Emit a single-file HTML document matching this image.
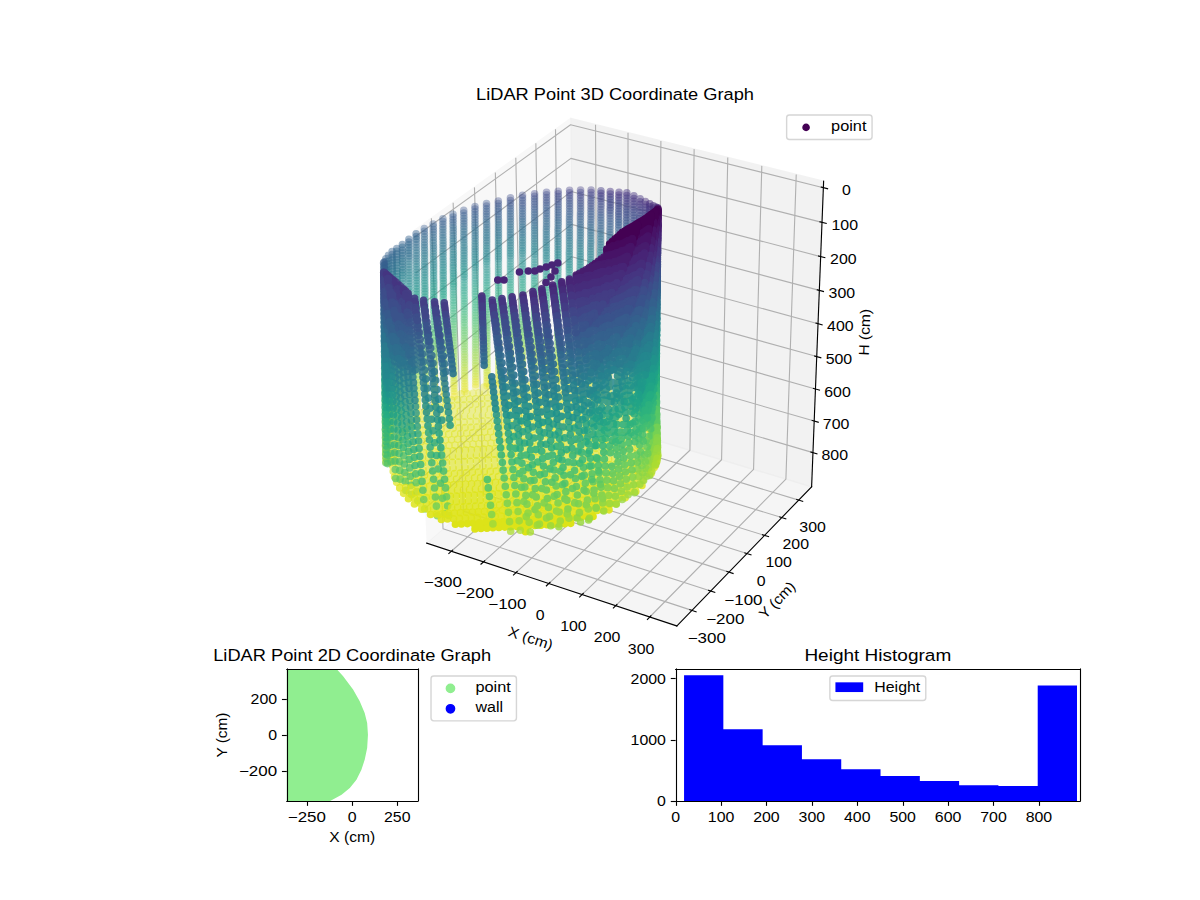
<!DOCTYPE html><html><head><meta charset="utf-8"><style>html,body{margin:0;padding:0;background:#fff;}svg{display:block}</style></head><body><svg width="1200" height="900" viewBox="0 0 864 648" version="1.1">
<defs>
<style type="text/css">*{stroke-linejoin: round; stroke-linecap: butt} .cl path{stroke-linecap:round}</style>
</defs>
<g id="figure_1">
<g id="patch_1">
<path d="M 0 648
L 864 648
L 864 0
L 0 0
z
" style="fill: #ffffff"/>
</g>
<g id="patch_2">
<path d="M 252.72 457.92
L 632.88 457.92
L 632.88 77.76
L 252.72 77.76
z
" style="fill: #ffffff"/>
</g>
<g id="pane3d_1">
<g id="patch_3">
<path d="M 297.947005 166.211815
L 410.765061 85.312153
L 412.890985 299.013556
L 307.170599 391.018552
" style="fill: #f2f2f2; opacity: 0.5; stroke: #f2f2f2; stroke-linejoin: miter"/>
</g>
</g>
<g id="pane3d_2">
<g id="patch_4">
<path d="M 410.765061 85.312153
L 593.008041 130.463502
L 584.362138 350.466742
L 412.890985 299.013556
" style="fill: #e6e6e6; opacity: 0.5; stroke: #e6e6e6; stroke-linejoin: miter"/>
</g>
</g>
<g id="pane3d_3">
<g id="patch_5">
<path d="M 307.170599 391.018552
L 487.331206 450.695347
L 584.362138 350.466742
L 412.890985 299.013556
" style="fill: #ececec; opacity: 0.5; stroke: #ececec; stroke-linejoin: miter"/>
</g>
</g>
<g id="grid3d_1">
<g id="Line3DCollection_1">
<path d="M 324.970934 396.914775
L 429.881263 304.111812
L 428.781131 89.775699
" style="fill: none; stroke: #b0b0b0; stroke-width: 0.8"/>
<path d="M 348.089829 404.572728
L 451.932154 310.728602
L 452.176948 95.572096
" style="fill: none; stroke: #b0b0b0; stroke-width: 0.8"/>
<path d="M 371.478409 412.320013
L 474.222001 317.417096
L 475.841919 101.435177
" style="fill: none; stroke: #b0b0b0; stroke-width: 0.8"/>
<path d="M 395.141421 420.158201
L 496.754708 324.178464
L 499.780717 107.366099
" style="fill: none; stroke: #b0b0b0; stroke-width: 0.8"/>
<path d="M 419.083724 428.088902
L 519.534266 331.013904
L 523.998121 113.366048
" style="fill: none; stroke: #b0b0b0; stroke-width: 0.8"/>
<path d="M 443.310291 436.113763
L 542.564755 337.924641
L 548.499024 119.436234
" style="fill: none; stroke: #b0b0b0; stroke-width: 0.8"/>
<path d="M 467.826216 444.234472
L 565.850344 344.911926
L 573.288432 125.577898
" style="fill: none; stroke: #b0b0b0; stroke-width: 0.8"/>
</g>
</g>
<g id="grid3d_2">
<g id="Line3DCollection_2">
<path d="M 310.596879 157.140834
L 318.976572 380.7442
L 498.197377 439.471079
" style="fill: none; stroke: #b0b0b0; stroke-width: 0.8"/>
<path d="M 326.26555 145.90513
L 333.616725 368.003353
L 511.661419 425.563327
" style="fill: none; stroke: #b0b0b0; stroke-width: 0.8"/>
<path d="M 341.611812 134.90062
L 347.973658 355.508984
L 524.853503 411.936495
" style="fill: none; stroke: #b0b0b0; stroke-width: 0.8"/>
<path d="M 356.645515 124.120241
L 362.055509 343.254009
L 537.781786 398.582158
" style="fill: none; stroke: #b0b0b0; stroke-width: 0.8"/>
<path d="M 371.376111 113.557213
L 375.87011 331.231613
L 550.454103 385.492222
" style="fill: none; stroke: #b0b0b0; stroke-width: 0.8"/>
<path d="M 385.812676 103.205029
L 389.424998 319.435238
L 562.877982 372.658913
" style="fill: none; stroke: #b0b0b0; stroke-width: 0.8"/>
<path d="M 399.963926 93.05744
L 402.727427 307.858568
L 575.060656 360.074756
" style="fill: none; stroke: #b0b0b0; stroke-width: 0.8"/>
</g>
</g>
<g id="grid3d_3">
<g id="Line3DCollection_3">
<path d="M 592.824973 135.121832
L 410.809962 89.825742
L 298.142691 170.981271
" style="fill: none; stroke: #b0b0b0; stroke-width: 0.8"/>
<path d="M 591.843315 160.101056
L 411.05082 114.037151
L 299.191726 196.549415
" style="fill: none; stroke: #b0b0b0; stroke-width: 0.8"/>
<path d="M 590.87487 184.744073
L 411.288573 137.936448
L 300.226171 221.761934
" style="fill: none; stroke: #b0b0b0; stroke-width: 0.8"/>
<path d="M 589.919372 209.057627
L 411.52328 161.529632
L 301.246326 246.626197
" style="fill: none; stroke: #b0b0b0; stroke-width: 0.8"/>
<path d="M 588.976563 233.048281
L 411.755001 184.822546
L 302.252487 271.149369
" style="fill: none; stroke: #b0b0b0; stroke-width: 0.8"/>
<path d="M 588.046194 256.722425
L 411.983791 207.820885
L 303.24494 295.338421
" style="fill: none; stroke: #b0b0b0; stroke-width: 0.8"/>
<path d="M 587.128018 280.086281
L 412.209705 230.530203
L 304.223962 319.200136
" style="fill: none; stroke: #b0b0b0; stroke-width: 0.8"/>
<path d="M 586.221798 303.14591
L 412.432799 252.955915
L 305.189824 342.741113
" style="fill: none; stroke: #b0b0b0; stroke-width: 0.8"/>
<path d="M 585.327302 325.907216
L 412.653123 275.103299
L 306.142791 365.967776
" style="fill: none; stroke: #b0b0b0; stroke-width: 0.8"/>
</g>
</g>
<g id="axis3d_1">
<g id="line2d_1">
<path d="M 307.170599 391.018552
L 487.331206 450.695347
" style="fill: none; stroke: #000000; stroke-width: 0.8; stroke-linecap: square"/>
</g>
<g id="xtick_1">
<g id="line2d_2">
<path d="M 325.873108 396.116718
L 323.163311 398.513786
" style="fill: none; stroke: #000000; stroke-width: 0.8; stroke-linecap: square"/>
</g>
<g id="text_1">
<text style="font-size:10.40px;font-family:'Liberation Sans',sans-serif;text-anchor:middle" x="318.8534" y="422.6130" transform="rotate(-0 318.8534 422.6130)" textLength="27.47" lengthAdjust="spacingAndGlyphs">−300</text>
</g>
</g>
<g id="xtick_2">
<g id="line2d_3">
<path d="M 348.983179 403.765392
L 346.299866 406.190349
" style="fill: none; stroke: #000000; stroke-width: 0.8; stroke-linecap: square"/>
</g>
<g id="text_2">
<text style="font-size:10.40px;font-family:'Liberation Sans',sans-serif;text-anchor:middle" x="341.9554" y="430.3822" transform="rotate(-0 341.9554 430.3822)" textLength="27.47" lengthAdjust="spacingAndGlyphs">−200</text>
</g>
</g>
<g id="xtick_3">
<g id="line2d_4">
<path d="M 372.362668 411.503235
L 369.706643 413.95657
" style="fill: none; stroke: #000000; stroke-width: 0.8; stroke-linecap: square"/>
</g>
<g id="text_3">
<text style="font-size:10.40px;font-family:'Liberation Sans',sans-serif;text-anchor:middle" x="365.3272" y="438.2421" transform="rotate(-0 365.3272 438.2421)" textLength="27.47" lengthAdjust="spacingAndGlyphs">−100</text>
</g>
</g>
<g id="xtick_4">
<g id="line2d_5">
<path d="M 396.016313 419.331814
L 393.388404 421.814029
" style="fill: none; stroke: #000000; stroke-width: 0.8; stroke-linecap: square"/>
</g>
<g id="text_4">
<text style="font-size:10.40px;font-family:'Liberation Sans',sans-serif;text-anchor:middle" x="388.9734" y="446.1943" transform="rotate(-0 388.9734 446.1943)" textLength="6.36" lengthAdjust="spacingAndGlyphs">0</text>
</g>
</g>
<g id="xtick_5">
<g id="line2d_6">
<path d="M 419.948966 427.252735
L 417.350023 429.764343
" style="fill: none; stroke: #000000; stroke-width: 0.8; stroke-linecap: square"/>
</g>
<g id="text_5">
<text style="font-size:10.40px;font-family:'Liberation Sans',sans-serif;text-anchor:middle" x="412.8990" y="454.2404" transform="rotate(-0 412.8990 454.2404)" textLength="19.09" lengthAdjust="spacingAndGlyphs">100</text>
</g>
</g>
<g id="xtick_6">
<g id="line2d_7">
<path d="M 444.165592 435.267643
L 441.596491 437.809169
" style="fill: none; stroke: #000000; stroke-width: 0.8; stroke-linecap: square"/>
</g>
<g id="text_6">
<text style="font-size:10.40px;font-family:'Liberation Sans',sans-serif;text-anchor:middle" x="437.1088" y="462.3821" transform="rotate(-0 437.1088 462.3821)" textLength="19.09" lengthAdjust="spacingAndGlyphs">200</text>
</g>
</g>
<g id="xtick_7">
<g id="line2d_8">
<path d="M 468.671276 443.378219
L 466.132917 445.9502
" style="fill: none; stroke: #000000; stroke-width: 0.8; stroke-linecap: square"/>
</g>
<g id="text_7">
<text style="font-size:10.40px;font-family:'Liberation Sans',sans-serif;text-anchor:middle" x="461.6081" y="470.6212" transform="rotate(-0 461.6081 470.6212)" textLength="19.09" lengthAdjust="spacingAndGlyphs">300</text>
</g>
</g>
<g id="text_8">
<text style="font-size:10.40px;font-family:'Liberation Sans',sans-serif;text-anchor:middle" x="380.9625" y="462.9357" transform="rotate(-341.673 380.9625 462.9357)" textLength="33.07" lengthAdjust="spacingAndGlyphs">X (cm)</text>
</g>
</g>
<g id="axis3d_2">
<g id="line2d_9">
<path d="M 584.362138 350.466742
L 487.331206 450.695347
" style="fill: none; stroke: #000000; stroke-width: 0.8; stroke-linecap: square"/>
</g>
<g id="xtick_8">
<g id="line2d_10">
<path d="M 496.699601 438.980289
L 501.196168 440.453719
" style="fill: none; stroke: #000000; stroke-width: 0.8; stroke-linecap: square"/>
</g>
<g id="text_9">
<text style="font-size:10.40px;font-family:'Liberation Sans',sans-serif;text-anchor:middle" x="508.8775" y="463.1427" transform="rotate(-0 508.8775 463.1427)" textLength="27.47" lengthAdjust="spacingAndGlyphs">−300</text>
</g>
</g>
<g id="xtick_9">
<g id="line2d_11">
<path d="M 510.174121 425.082499
L 514.639199 426.526012
" style="fill: none; stroke: #000000; stroke-width: 0.8; stroke-linecap: square"/>
</g>
<g id="text_10">
<text style="font-size:10.40px;font-family:'Liberation Sans',sans-serif;text-anchor:middle" x="522.2183" y="449.0861" transform="rotate(-0 522.2183 449.0861)" textLength="27.47" lengthAdjust="spacingAndGlyphs">−200</text>
</g>
</g>
<g id="xtick_10">
<g id="line2d_12">
<path d="M 523.376567 411.465329
L 527.810505 412.879827
" style="fill: none; stroke: #000000; stroke-width: 0.8; stroke-linecap: square"/>
</g>
<g id="text_11">
<text style="font-size:10.40px;font-family:'Liberation Sans',sans-serif;text-anchor:middle" x="535.2898" y="435.3131" transform="rotate(-0 535.2898 435.3131)" textLength="27.47" lengthAdjust="spacingAndGlyphs">−100</text>
</g>
</g>
<g id="xtick_11">
<g id="line2d_13">
<path d="M 536.315097 398.120365
L 540.718242 399.506713
" style="fill: none; stroke: #000000; stroke-width: 0.8; stroke-linecap: square"/>
</g>
<g id="text_12">
<text style="font-size:10.40px;font-family:'Liberation Sans',sans-serif;text-anchor:middle" x="548.1002" y="421.8153" transform="rotate(-0 548.1002 421.8153)" textLength="6.36" lengthAdjust="spacingAndGlyphs">0</text>
</g>
</g>
<g id="xtick_12">
<g id="line2d_14">
<path d="M 548.997546 385.039525
L 553.370243 386.398557
" style="fill: none; stroke: #000000; stroke-width: 0.8; stroke-linecap: square"/>
</g>
<g id="text_13">
<text style="font-size:10.40px;font-family:'Liberation Sans',sans-serif;text-anchor:middle" x="560.6572" y="408.5844" transform="rotate(-0 560.6572 408.5844)" textLength="19.09" lengthAdjust="spacingAndGlyphs">100</text>
</g>
</g>
<g id="xtick_13">
<g id="line2d_15">
<path d="M 561.431444 372.215046
L 565.774032 373.54756
" style="fill: none; stroke: #000000; stroke-width: 0.8; stroke-linecap: square"/>
</g>
<g id="text_14">
<text style="font-size:10.40px;font-family:'Liberation Sans',sans-serif;text-anchor:middle" x="572.9683" y="395.6126" transform="rotate(-0 572.9683 395.6126)" textLength="19.09" lengthAdjust="spacingAndGlyphs">200</text>
</g>
</g>
<g id="xtick_14">
<g id="line2d_16">
<path d="M 573.624025 359.639463
L 577.936845 360.946228
" style="fill: none; stroke: #000000; stroke-width: 0.8; stroke-linecap: square"/>
</g>
<g id="text_15">
<text style="font-size:10.40px;font-family:'Liberation Sans',sans-serif;text-anchor:middle" x="585.0407" y="382.8925" transform="rotate(-0 585.0407 382.8925)" textLength="19.09" lengthAdjust="spacingAndGlyphs">300</text>
</g>
</g>
<g id="text_16">
<text style="font-size:10.40px;font-family:'Liberation Sans',sans-serif;text-anchor:middle" x="562.0707" y="434.5527" transform="rotate(-45.9287 562.0707 434.5527)" textLength="32.33" lengthAdjust="spacingAndGlyphs">Y (cm)</text>
</g>
</g>
<g id="axis3d_3">
<g id="line2d_17">
<path d="M 584.362138 350.466742
L 593.008041 130.463502
" style="fill: none; stroke: #000000; stroke-width: 0.8; stroke-linecap: square"/>
</g>
<g id="xtick_15">
<g id="line2d_18">
<path d="M 591.304321 134.743404
L 595.869542 135.879501
" style="fill: none; stroke: #000000; stroke-width: 0.8; stroke-linecap: square"/>
</g>
<g id="text_17">
<text style="font-size:10.40px;font-family:'Liberation Sans',sans-serif;text-anchor:middle" x="609.3483" y="140.7096" transform="rotate(-0 609.3483 140.7096)" textLength="6.36" lengthAdjust="spacingAndGlyphs">0</text>
</g>
</g>
<g id="xtick_16">
<g id="line2d_19">
<path d="M 590.33331 159.716323
L 594.866544 160.87134
" style="fill: none; stroke: #000000; stroke-width: 0.8; stroke-linecap: square"/>
</g>
<g id="text_18">
<text style="font-size:10.40px;font-family:'Liberation Sans',sans-serif;text-anchor:middle" x="608.2567" y="165.6553" transform="rotate(-0 608.2567 165.6553)" textLength="19.09" lengthAdjust="spacingAndGlyphs">100</text>
</g>
</g>
<g id="xtick_17">
<g id="line2d_20">
<path d="M 589.375365 184.35324
L 593.877055 185.526567
" style="fill: none; stroke: #000000; stroke-width: 0.8; stroke-linecap: square"/>
</g>
<g id="text_19">
<text style="font-size:10.40px;font-family:'Liberation Sans',sans-serif;text-anchor:middle" x="607.1798" y="190.2659" transform="rotate(-0 607.1798 190.2659)" textLength="19.09" lengthAdjust="spacingAndGlyphs">200</text>
</g>
</g>
<g id="xtick_18">
<g id="line2d_21">
<path d="M 588.430222 208.66089
L 592.900804 209.851936
" style="fill: none; stroke: #000000; stroke-width: 0.8; stroke-linecap: square"/>
</g>
<g id="text_20">
<text style="font-size:10.40px;font-family:'Liberation Sans',sans-serif;text-anchor:middle" x="606.1173" y="214.5480" transform="rotate(-0 606.1173 214.5480)" textLength="19.09" lengthAdjust="spacingAndGlyphs">300</text>
</g>
</g>
<g id="xtick_19">
<g id="line2d_22">
<path d="M 587.497626 232.645831
L 591.937528 233.854022
" style="fill: none; stroke: #000000; stroke-width: 0.8; stroke-linecap: square"/>
</g>
<g id="text_21">
<text style="font-size:10.40px;font-family:'Liberation Sans',sans-serif;text-anchor:middle" x="605.0689" y="238.5083" transform="rotate(-0 605.0689 238.5083)" textLength="19.09" lengthAdjust="spacingAndGlyphs">400</text>
</g>
</g>
<g id="xtick_20">
<g id="line2d_23">
<path d="M 586.577331 256.314447
L 590.986969 257.539229
" style="fill: none; stroke: #000000; stroke-width: 0.8; stroke-linecap: square"/>
</g>
<g id="text_22">
<text style="font-size:10.40px;font-family:'Liberation Sans',sans-serif;text-anchor:middle" x="604.0343" y="262.1531" transform="rotate(-0 604.0343 262.1531)" textLength="19.09" lengthAdjust="spacingAndGlyphs">500</text>
</g>
</g>
<g id="xtick_21">
<g id="line2d_24">
<path d="M 585.669093 279.672953
L 590.048877 280.913789
" style="fill: none; stroke: #000000; stroke-width: 0.8; stroke-linecap: square"/>
</g>
<g id="text_23">
<text style="font-size:10.40px;font-family:'Liberation Sans',sans-serif;text-anchor:middle" x="603.0132" y="285.4885" transform="rotate(-0 603.0132 285.4885)" textLength="19.09" lengthAdjust="spacingAndGlyphs">600</text>
</g>
</g>
<g id="xtick_22">
<g id="line2d_25">
<path d="M 584.772677 302.727407
L 589.123008 303.983775
" style="fill: none; stroke: #000000; stroke-width: 0.8; stroke-linecap: square"/>
</g>
<g id="text_24">
<text style="font-size:10.40px;font-family:'Liberation Sans',sans-serif;text-anchor:middle" x="602.0054" y="308.5206" transform="rotate(-0 602.0054 308.5206)" textLength="19.09" lengthAdjust="spacingAndGlyphs">700</text>
</g>
</g>
<g id="xtick_23">
<g id="line2d_26">
<path d="M 583.887855 325.483704
L 588.209126 326.755102
" style="fill: none; stroke: #000000; stroke-width: 0.8; stroke-linecap: square"/>
</g>
<g id="text_25">
<text style="font-size:10.40px;font-family:'Liberation Sans',sans-serif;text-anchor:middle" x="601.0106" y="331.2552" transform="rotate(-0 601.0106 331.2552)" textLength="19.09" lengthAdjust="spacingAndGlyphs">800</text>
</g>
</g>
<g id="text_26">
<text style="font-size:10.40px;font-family:'Liberation Sans',sans-serif;text-anchor:middle" x="626.1142" y="239.2842" transform="rotate(-87.7495 626.1142 239.2842)" textLength="33.74" lengthAdjust="spacingAndGlyphs">H (cm)</text>
</g>
</g>
<g id="axes_1">
<g id="Path3DCollection_1">
<defs>
<path id="m6b69d630b0" d="M 0 2.236068
C 0.593012 2.236068 1.161816 2.000462 1.581139 1.581139
C 2.000462 1.161816 2.236068 0.593012 2.236068 0
C 2.236068 -0.593012 2.000462 -1.161816 1.581139 -1.581139
C 1.161816 -2.000462 0.593012 -2.236068 0 -2.236068
C -0.593012 -2.236068 -1.161816 -2.000462 -1.581139 -1.581139
C -2.000462 -1.161816 -2.236068 -0.593012 -2.236068 0
C -2.236068 0.593012 -2.000462 1.161816 -1.581139 1.581139
C -1.161816 2.000462 -0.593012 2.236068 0 2.236068
z
" style="stroke: #440154"/>
</defs>
<g class="cl" fill="none" stroke-width="5.47"><path d="M393.3 212.6h0M384.8 213.5h0M376.2 210.8h0M367.6 214.6h0M359.0 215.0h0" stroke="#25ac82" stroke-opacity="0.30"/><path d="M393.3 214.5h0M376.2 212.7h0M367.5 210.8h0" stroke="#25ac82" stroke-opacity="0.30"/><path d="M401.7 215.8h0M384.8 211.6h0M367.6 212.7h0M359.0 213.1h0" stroke="#25ac82" stroke-opacity="0.30"/><path d="M401.7 217.7h0M393.3 218.3h0M384.8 219.2h0M376.2 216.5h0M350.5 220.8h0M342.3 221.3h0" stroke="#2db27d" stroke-opacity="0.30"/><path d="M409.8 221.1h0M401.7 219.6h0M384.8 215.4h0M376.2 218.4h0M367.6 216.5h0M359.0 216.9h0M350.5 217.0h0" stroke="#2db27d" stroke-opacity="0.30"/><path d="M393.3 216.4h0M384.8 217.3h0M376.2 214.6h0M367.6 218.4h0M359.0 218.8h0M350.5 218.9h0" stroke="#2db27d" stroke-opacity="0.30"/><path d="M417.6 227.0h0M409.8 224.9h0M401.7 223.4h0M393.3 224.0h0M376.2 222.2h0M367.6 220.3h0M359.0 220.7h0" stroke="#35b779" stroke-opacity="0.30"/><path d="M401.7 225.3h0M393.3 220.2h0M384.8 221.1h0M367.6 222.2h0M359.0 222.6h0M350.5 222.7h0M342.3 223.2h0M334.3 226.4h0" stroke="#35b779" stroke-opacity="0.30"/><path d="M409.8 223.0h0M401.7 221.5h0M393.3 222.1h0M384.8 223.0h0M376.2 220.3h0M359.0 224.5h0M350.5 224.6h0M342.3 225.2h0" stroke="#35b779" stroke-opacity="0.30"/><path d="M417.5 232.8h0M409.7 230.6h0M401.6 229.1h0M384.8 224.9h0M376.2 227.9h0M367.6 226.0h0M359.0 226.4h0M350.6 226.5h0M342.3 227.1h0M334.3 230.2h0M326.7 233.4h0" stroke="#40bd72" stroke-opacity="0.30"/><path d="M425.0 233.3h0M417.6 228.9h0M409.8 226.8h0M393.3 225.9h0M384.8 226.8h0M376.2 224.1h0M367.6 227.9h0M359.0 228.3h0M350.6 228.4h0M342.3 229.0h0M334.3 232.1h0" stroke="#40bd72" stroke-opacity="0.30"/><path d="M417.6 230.9h0M409.7 228.7h0M401.7 227.2h0M393.3 227.8h0M384.8 228.7h0M376.2 226.0h0M367.6 224.1h0M342.3 230.9h0M334.3 228.3h0" stroke="#40bd72" stroke-opacity="0.30"/><path d="M425.0 237.1h0M401.6 234.8h0M393.3 229.7h0M384.8 230.6h0M367.6 231.7h0M359.0 232.1h0M350.6 232.2h0M342.3 232.8h0M334.4 236.0h0M326.7 239.2h0" stroke="#4cc26c" stroke-opacity="0.30"/><path d="M425.0 239.1h0M417.5 234.7h0M409.7 232.5h0M401.6 231.0h0M393.3 231.6h0M384.8 232.5h0M376.2 229.8h0M350.6 234.1h0M342.3 234.7h0M326.7 235.4h0" stroke="#4cc26c" stroke-opacity="0.30"/><path d="M425.0 235.2h0M417.5 236.6h0M409.7 234.5h0M401.6 232.9h0M393.3 233.5h0M376.2 231.7h0M367.6 229.8h0M359.0 230.2h0M350.6 230.3h0M334.3 234.1h0M326.7 237.3h0" stroke="#4cc26c" stroke-opacity="0.30"/><path d="M432.0 244.0h0M425.0 242.9h0M417.5 238.5h0M409.7 236.4h0M393.3 235.4h0M384.8 236.3h0M376.2 233.6h0M367.6 237.4h0M359.0 237.8h0M350.6 237.9h0M342.4 238.5h0M334.4 241.7h0M319.4 243.0h0" stroke="#5ac864" stroke-opacity="0.30"/><path d="M432.0 246.0h0M417.5 240.5h0M409.7 238.3h0M401.6 236.7h0M393.3 237.3h0M376.2 235.5h0M367.6 233.6h0M359.0 234.0h0M342.4 240.4h0M334.4 237.9h0M326.7 241.2h0M319.4 244.9h0" stroke="#5ac864" stroke-opacity="0.30"/><path d="M432.0 242.1h0M425.0 241.0h0M417.5 242.4h0M409.7 240.2h0M401.6 238.6h0M384.8 234.4h0M376.2 237.4h0M367.6 235.5h0M359.0 235.9h0M350.6 236.0h0M342.3 236.6h0M334.4 239.8h0M326.7 243.1h0" stroke="#5ac864" stroke-opacity="0.30"/><path d="M438.6 251.2h0M432.0 249.9h0M424.9 248.7h0M417.5 244.3h0M409.7 242.1h0M401.6 240.5h0M393.3 241.1h0M384.8 242.0h0M376.2 239.3h0M350.6 243.6h0M342.4 244.3h0M326.7 245.0h0M319.5 248.8h0" stroke="#67cc5c" stroke-opacity="0.30"/><path d="M438.6 253.1h0M424.9 244.8h0M417.5 246.2h0M409.7 244.0h0M401.6 242.4h0M393.3 243.0h0M384.8 238.2h0M376.2 241.2h0M367.6 239.3h0M359.0 239.7h0M350.6 239.8h0M334.4 243.7h0M326.7 246.9h0M319.5 250.7h0M312.6 251.1h0" stroke="#67cc5c" stroke-opacity="0.30"/><path d="M432.0 247.9h0M424.9 246.8h0M393.3 239.2h0M384.8 240.1h0M367.6 241.2h0M359.0 241.6h0M350.6 241.7h0M342.4 242.4h0M334.4 245.6h0M326.8 248.9h0M319.5 246.9h0M312.6 253.1h0" stroke="#67cc5c" stroke-opacity="0.30"/><path d="M438.5 257.0h0M431.9 255.7h0M417.5 250.1h0M409.7 247.8h0M401.6 246.3h0M393.3 246.8h0M376.2 245.0h0M367.6 243.1h0M359.0 243.5h0M342.4 250.0h0M334.4 247.5h0M326.8 250.8h0M319.5 254.6h0M312.7 255.0h0" stroke="#77d153" stroke-opacity="0.30"/><path d="M432.0 251.8h0M424.9 250.6h0M409.7 249.7h0M401.6 248.2h0M384.8 243.9h0M376.2 246.9h0M367.6 245.0h0M359.0 245.4h0M350.6 245.5h0M342.4 246.2h0M334.4 249.4h0M326.8 252.7h0M312.7 257.0h0" stroke="#77d153" stroke-opacity="0.30"/><path d="M438.6 255.1h0M432.0 253.7h0M424.9 252.6h0M417.5 248.1h0M409.7 245.9h0M401.6 244.4h0M393.3 244.9h0M384.8 245.8h0M376.2 243.1h0M367.6 246.9h0M359.0 247.3h0M350.6 247.4h0M342.4 248.1h0M334.4 251.3h0M319.5 252.7h0" stroke="#77d153" stroke-opacity="0.30"/><path d="M444.6 266.3h0M438.5 262.9h0M424.9 254.5h0M417.4 255.8h0M409.6 253.6h0M401.6 252.0h0M393.3 252.5h0M384.8 247.7h0M376.2 250.7h0M367.6 248.8h0M359.0 249.2h0M350.6 249.3h0M334.4 253.3h0M326.8 256.6h0M319.5 260.4h0M312.7 260.9h0" stroke="#89d548" stroke-opacity="0.30"/><path d="M444.6 262.3h0M438.5 259.0h0M431.9 257.6h0M424.9 256.4h0M417.4 252.0h0M393.3 248.7h0M384.8 249.6h0M367.6 250.7h0M359.0 251.1h0M350.6 251.2h0M342.4 251.9h0M334.5 255.2h0M326.8 258.5h0M319.5 256.6h0M312.7 262.8h0M306.3 263.0h0" stroke="#89d548" stroke-opacity="0.30"/><path d="M444.6 264.3h0M438.5 260.9h0M431.9 259.6h0M424.9 258.3h0M417.4 253.9h0M409.7 251.7h0M401.6 250.1h0M393.3 250.6h0M384.8 251.5h0M376.2 248.8h0M350.6 253.1h0M342.4 253.8h0M326.8 254.7h0M319.5 258.5h0M312.7 258.9h0M306.3 264.9h0" stroke="#89d548" stroke-opacity="0.30"/><path d="M431.9 261.5h0M424.9 260.3h0M409.6 259.3h0M401.6 257.7h0M384.8 253.3h0M376.2 256.3h0M367.6 254.5h0M359.1 254.9h0M350.6 255.1h0M342.4 255.7h0M334.5 259.0h0M326.8 262.4h0M312.7 266.8h0M306.4 266.9h0M300.6 273.4h0" stroke="#98d83e" stroke-opacity="0.30"/><path d="M450.1 273.7h0M444.6 268.2h0M438.5 264.8h0M431.9 263.4h0M424.8 262.2h0M417.4 257.7h0M409.6 255.5h0M401.6 253.9h0M393.3 254.4h0M384.8 255.2h0M376.2 252.5h0M367.6 256.4h0M359.1 256.8h0M350.6 257.0h0M342.4 257.6h0M334.5 260.9h0M319.6 262.4h0M306.4 268.9h0" stroke="#98d83e" stroke-opacity="0.30"/><path d="M444.6 270.2h0M438.5 266.8h0M431.9 265.4h0M417.4 259.7h0M409.6 257.4h0M401.6 255.8h0M393.3 256.3h0M376.2 254.4h0M367.6 252.6h0M359.1 253.0h0M342.4 259.6h0M334.5 257.1h0M326.8 260.5h0M319.6 264.3h0M312.7 264.8h0M306.4 270.8h0" stroke="#98d83e" stroke-opacity="0.30"/><path d="M450.1 277.7h0M444.6 272.2h0M438.5 268.7h0M431.9 267.3h0M424.8 266.1h0M417.4 261.6h0M393.3 258.2h0M384.8 259.0h0M367.6 260.2h0M359.1 260.6h0M350.7 260.8h0M342.4 261.5h0M334.5 264.8h0M326.9 268.2h0M319.6 266.3h0M312.8 272.6h0M306.4 272.8h0M300.6 279.4h0" stroke="#aadc32" stroke-opacity="0.30"/><path d="M450.1 279.7h0M444.5 274.2h0M438.4 270.7h0M431.8 269.3h0M424.8 268.0h0M417.4 263.5h0M409.6 261.2h0M401.6 259.6h0M393.2 260.1h0M384.8 260.9h0M376.2 258.2h0M350.7 262.7h0M342.5 263.4h0M326.9 264.3h0M319.6 268.2h0M312.8 268.7h0M306.4 274.8h0M300.6 275.4h0" stroke="#aadc32" stroke-opacity="0.30"/><path d="M450.1 275.7h0M444.5 276.1h0M438.4 272.6h0M424.8 264.1h0M417.4 265.4h0M409.6 263.1h0M401.5 261.5h0M393.2 262.0h0M384.8 257.1h0M376.2 260.1h0M367.6 258.3h0M359.1 258.7h0M350.7 258.9h0M334.5 262.8h0M326.9 266.2h0M319.6 270.1h0M312.8 270.7h0M300.6 277.4h0" stroke="#aadc32" stroke-opacity="0.30"/><path d="M450.0 283.6h0M444.5 278.1h0M438.4 274.6h0M431.8 273.1h0M424.8 271.8h0M417.4 267.3h0M409.6 265.0h0M401.5 263.4h0M393.2 263.9h0M384.8 264.7h0M376.2 262.0h0M367.6 265.9h0M359.1 266.3h0M350.7 266.5h0M342.5 267.2h0M334.5 270.5h0M319.6 272.1h0M306.5 278.7h0M295.4 286.3h0" stroke="#bade28" stroke-opacity="0.30"/><path d="M455.0 287.0h0M444.5 280.1h0M438.4 276.6h0M431.8 275.1h0M417.4 269.2h0M409.6 266.9h0M401.5 265.3h0M393.2 265.8h0M376.2 263.9h0M367.6 262.1h0M359.1 262.5h0M342.5 269.1h0M334.5 266.7h0M326.9 270.1h0M319.6 274.0h0M312.8 274.6h0M306.5 280.7h0M300.6 281.3h0" stroke="#bade28" stroke-opacity="0.30"/><path d="M450.1 281.7h0M431.8 271.2h0M424.8 269.9h0M409.6 268.9h0M401.5 267.2h0M384.8 262.8h0M376.2 265.8h0M367.6 264.0h0M359.1 264.4h0M350.7 264.6h0M342.5 265.3h0M334.5 268.6h0M326.9 272.0h0M312.8 276.5h0M306.4 276.7h0M300.7 283.3h0" stroke="#bade28" stroke-opacity="0.30"/><path d="M455.0 291.0h0M444.5 284.0h0M438.4 280.5h0M431.8 279.0h0M424.7 277.6h0M417.3 273.1h0M409.6 270.8h0M401.5 269.1h0M393.2 269.6h0M384.8 270.4h0M376.2 267.7h0M350.7 272.2h0M342.5 272.9h0M326.9 274.0h0M319.7 277.9h0M312.8 278.5h0M306.5 284.6h0M300.7 285.3h0M295.5 292.3h0" stroke="#cde11d" stroke-opacity="0.30"/><path d="M455.0 293.0h0M450.0 285.6h0M444.4 286.0h0M438.4 282.4h0M424.8 273.8h0M417.3 275.0h0M409.6 272.7h0M401.5 271.0h0M393.2 271.5h0M384.8 266.6h0M376.2 269.6h0M367.6 267.8h0M359.1 268.2h0M350.7 268.4h0M334.5 272.4h0M326.9 275.9h0M319.7 279.8h0M312.8 280.4h0M300.7 287.3h0M295.4 288.3h0" stroke="#cde11d" stroke-opacity="0.30"/><path d="M455.0 289.0h0M450.0 287.6h0M444.5 282.0h0M438.4 278.5h0M431.8 277.0h0M424.8 275.7h0M417.4 271.2h0M393.2 267.7h0M384.8 268.5h0M367.6 269.7h0M359.1 270.1h0M350.7 270.3h0M342.5 271.0h0M334.5 274.4h0M319.7 276.0h0M312.9 282.4h0M306.5 282.6h0M300.7 289.3h0M295.5 290.3h0" stroke="#cde11d" stroke-opacity="0.30"/><path d="M450.0 289.6h0M376.2 273.4h0M367.6 271.6h0M359.1 272.0h0M334.6 276.3h0M326.9 279.7h0M319.7 283.7h0M312.9 284.3h0M306.6 290.5h0M300.7 291.3h0" stroke="#dde318" stroke-opacity="0.30"/><path d="M431.8 280.9h0M384.8 272.3h0M367.6 273.5h0M359.1 273.9h0M350.7 274.1h0M342.5 274.9h0M334.6 278.2h0M327.0 281.7h0M312.9 286.3h0M306.5 286.6h0M300.7 293.2h0M295.5 294.3h0M290.9 301.2h0" stroke="#dde318" stroke-opacity="0.30"/><path d="M409.6 274.6h0M401.5 272.9h0M393.2 273.4h0M376.2 271.5h0M359.1 275.8h0M350.7 276.0h0M342.5 276.8h0M334.6 280.1h0M326.9 277.8h0M319.7 281.8h0M306.5 288.5h0M295.5 296.3h0" stroke="#dde318" stroke-opacity="0.30"/><path d="M350.7 277.9h0M342.5 278.7h0M334.6 282.0h0M327.0 285.5h0M312.9 290.2h0M300.8 297.2h0M295.5 298.3h0M290.9 305.3h0" stroke="#efe51c" stroke-opacity="0.30"/><path d="M319.7 285.7h0M312.9 292.1h0M306.6 292.5h0M300.8 299.2h0M295.5 300.3h0" stroke="#efe51c" stroke-opacity="0.30"/><path d="M327.0 283.6h0M319.7 287.6h0M312.9 288.2h0M306.6 294.4h0M300.8 295.2h0M295.6 302.3h0M290.9 303.2h0" stroke="#efe51c" stroke-opacity="0.30"/><path d="M306.6 296.4h0M295.6 304.3h0M291.0 311.3h0M287.1 317.4h0M283.9 331.2h0" stroke="#fde725" stroke-opacity="0.30"/><path d="M295.6 306.3h0M291.0 307.3h0M287.1 319.4h0M283.9 333.3h0" stroke="#fde725" stroke-opacity="0.30"/><path d="M300.8 301.2h0M291.0 309.3h0M287.0 315.3h0" stroke="#fde725" stroke-opacity="0.30"/><path d="M340.6 283.1h0M353.5 282.4h0M366.5 281.6h0M379.4 280.9h0M392.3 280.2h0M405.3 279.4h0M418.2 278.7h0M352.8 278.3h0M365.7 277.6h0M378.6 276.9h0M391.6 276.1h0M404.5 275.4h0" stroke="#dde318" stroke-opacity="0.38"/><path d="M332.0 283.6h0M344.9 282.9h0M357.9 282.1h0M370.8 281.4h0M383.7 280.7h0M396.6 279.9h0M409.6 279.2h0M422.5 278.4h0M357.1 278.1h0M370.0 277.4h0M382.9 276.6h0M395.9 275.9h0" stroke="#dde318" stroke-opacity="0.38"/><path d="M336.3 283.4h0M349.2 282.6h0M362.2 281.9h0M375.1 281.1h0M388.0 280.4h0M400.9 279.7h0M413.9 278.9h0M348.5 278.6h0M361.4 277.9h0M374.3 277.1h0M387.2 276.4h0M400.2 275.6h0" stroke="#dde318" stroke-opacity="0.38"/><path d="M304.0 305.6h0M317.0 304.8h0M329.9 304.1h0M342.8 303.3h0M355.8 302.6h0M368.7 301.9h0M381.6 301.1h0M394.5 300.4h0M407.5 299.7h0M420.4 298.9h0M433.3 298.2h0M446.3 297.5h0M459.2 296.7h0M308.6 301.2h0M321.6 300.5h0M334.5 299.7h0M347.4 299.0h0M360.3 298.3h0M373.3 297.5h0M386.2 296.8h0M399.1 296.1h0M412.1 295.3h0M425.0 294.6h0M437.9 293.9h0M450.8 293.1h0M309.9 297.1h0M322.8 296.3h0M335.8 295.6h0M348.7 294.9h0M361.6 294.1h0M374.5 293.4h0M387.5 292.7h0M400.4 291.9h0M413.3 291.2h0M426.2 290.4h0M439.2 289.7h0M312.4 292.9h0M325.3 292.1h0M338.3 291.4h0M351.2 290.7h0M364.1 289.9h0M377.0 289.2h0M390.0 288.4h0M402.9 287.7h0M415.8 287.0h0M428.8 286.2h0M441.7 285.5h0M329.5 287.8h0M342.4 287.1h0M355.4 286.3h0M368.3 285.6h0M381.2 284.9h0M394.2 284.1h0M407.1 283.4h0M420.0 282.7h0M432.9 281.9h0" stroke="#dde318" stroke-opacity="0.46"/><path d="M295.4 306.0h0M308.4 305.3h0M321.3 304.6h0M334.2 303.8h0M347.1 303.1h0M360.1 302.4h0M373.0 301.6h0M385.9 300.9h0M398.9 300.2h0M411.8 299.4h0M424.7 298.7h0M437.6 297.9h0M450.6 297.2h0M300.0 301.7h0M312.9 301.0h0M325.9 300.2h0M338.8 299.5h0M351.7 298.8h0M364.7 298.0h0M377.6 297.3h0M390.5 296.6h0M403.4 295.8h0M416.4 295.1h0M429.3 294.3h0M442.2 293.6h0M455.1 292.9h0M314.2 296.8h0M327.1 296.1h0M340.1 295.4h0M353.0 294.6h0M365.9 293.9h0M378.8 293.1h0M391.8 292.4h0M404.7 291.7h0M417.6 290.9h0M430.6 290.2h0M443.5 289.5h0M316.7 292.6h0M329.6 291.9h0M342.6 291.1h0M355.5 290.4h0M368.4 289.7h0M381.4 288.9h0M394.3 288.2h0M407.2 287.5h0M420.1 286.7h0M433.1 286.0h0M320.9 288.3h0M333.8 287.6h0M346.8 286.8h0M359.7 286.1h0M372.6 285.4h0M385.5 284.6h0M398.5 283.9h0M411.4 283.2h0M424.3 282.4h0" stroke="#dde318" stroke-opacity="0.46"/><path d="M299.7 305.8h0M312.7 305.1h0M325.6 304.3h0M338.5 303.6h0M351.4 302.9h0M364.4 302.1h0M377.3 301.4h0M390.2 300.6h0M403.2 299.9h0M416.1 299.2h0M429.0 298.4h0M441.9 297.7h0M454.9 297.0h0M304.3 301.5h0M317.3 300.7h0M330.2 300.0h0M343.1 299.3h0M356.0 298.5h0M369.0 297.8h0M381.9 297.0h0M394.8 296.3h0M407.7 295.6h0M420.7 294.8h0M433.6 294.1h0M446.5 293.4h0M305.6 297.3h0M318.5 296.6h0M331.4 295.9h0M344.4 295.1h0M357.3 294.4h0M370.2 293.6h0M383.2 292.9h0M396.1 292.2h0M409.0 291.4h0M421.9 290.7h0M434.9 290.0h0M447.8 289.2h0M321.0 292.4h0M334.0 291.6h0M346.9 290.9h0M359.8 290.2h0M372.7 289.4h0M385.7 288.7h0M398.6 288.0h0M411.5 287.2h0M424.4 286.5h0M437.4 285.7h0M325.2 288.1h0M338.1 287.3h0M351.1 286.6h0M364.0 285.9h0M376.9 285.1h0M389.9 284.4h0M402.8 283.6h0M415.7 282.9h0M428.6 282.2h0" stroke="#dde318" stroke-opacity="0.46"/><path d="M293.0 314.3h0M305.9 313.6h0M318.8 312.9h0M331.7 312.1h0M344.7 311.4h0M357.6 310.6h0M370.5 309.9h0M383.5 309.2h0M396.4 308.4h0M409.3 307.7h0M296.0 310.1h0M308.9 309.3h0M321.8 308.6h0M334.8 307.9h0M347.7 307.1h0M360.6 306.4h0M373.6 305.7h0M386.5 304.9h0M399.4 304.2h0M412.3 303.5h0M425.3 302.7h0M438.2 302.0h0M451.1 301.2h0M464.0 300.5h0" stroke="#dde318" stroke-opacity="0.53"/><path d="M297.3 314.1h0M310.2 313.3h0M323.1 312.6h0M336.1 311.9h0M349.0 311.1h0M361.9 310.4h0M374.8 309.7h0M387.8 308.9h0M400.7 308.2h0M413.6 307.5h0M300.3 309.8h0M313.2 309.1h0M326.2 308.4h0M339.1 307.6h0M352.0 306.9h0M364.9 306.2h0M377.9 305.4h0M390.8 304.7h0M403.7 303.9h0M416.6 303.2h0M429.6 302.5h0M442.5 301.7h0M455.4 301.0h0" stroke="#dde318" stroke-opacity="0.53"/><path d="M288.7 314.6h0M301.6 313.8h0M314.5 313.1h0M327.4 312.4h0M340.4 311.6h0M353.3 310.9h0M366.2 310.2h0M379.2 309.4h0M392.1 308.7h0M405.0 307.9h0M291.7 310.3h0M304.6 309.6h0M317.5 308.9h0M330.5 308.1h0M343.4 307.4h0M356.3 306.6h0M369.2 305.9h0M382.2 305.2h0M395.1 304.4h0M408.0 303.7h0M421.0 303.0h0M433.9 302.2h0M446.8 301.5h0M459.7 300.8h0" stroke="#dde318" stroke-opacity="0.53"/><path d="M384.9 185.0h0M367.5 186.2h0" stroke="#24878e" stroke-opacity="0.30"/><path d="M376.2 184.3h0" stroke="#24878e" stroke-opacity="0.30"/><path d="M376.2 186.2h0" stroke="#24878e" stroke-opacity="0.30"/><path d="M393.4 189.8h0M384.9 190.7h0M376.2 188.1h0M350.4 192.2h0" stroke="#228d8d" stroke-opacity="0.30"/><path d="M401.8 191.0h0M393.4 191.7h0M384.9 186.9h0M376.2 190.0h0M367.5 188.1h0M358.9 188.4h0" stroke="#228d8d" stroke-opacity="0.30"/><path d="M393.4 187.9h0M384.9 188.8h0M367.5 190.0h0M358.9 190.3h0M350.4 190.3h0" stroke="#228d8d" stroke-opacity="0.30"/><path d="M409.9 196.2h0M401.8 194.8h0M393.4 195.5h0M376.2 193.7h0M367.5 191.9h0M358.9 192.2h0M342.2 198.4h0" stroke="#20938c" stroke-opacity="0.30"/><path d="M409.9 198.1h0M401.7 196.7h0M384.8 192.6h0M376.2 195.6h0M367.5 193.7h0M358.9 194.1h0M350.5 194.1h0M342.2 194.6h0" stroke="#20938c" stroke-opacity="0.30"/><path d="M401.8 192.9h0M393.4 193.6h0M384.8 194.5h0M376.2 191.8h0M367.5 195.6h0M358.9 196.0h0M350.5 196.0h0M342.2 196.5h0" stroke="#20938c" stroke-opacity="0.30"/><path d="M417.7 204.0h0M409.9 202.0h0M401.7 200.5h0M384.8 196.4h0M376.2 199.4h0M367.5 197.5h0M358.9 197.9h0M350.5 197.9h0M334.2 201.4h0" stroke="#1f998a" stroke-opacity="0.30"/><path d="M417.7 200.1h0M393.4 197.4h0M384.8 198.3h0M367.5 199.4h0M358.9 199.8h0M350.5 199.8h0M342.2 200.3h0M334.2 203.3h0" stroke="#1f998a" stroke-opacity="0.30"/><path d="M417.7 202.1h0M409.9 200.0h0M401.7 198.6h0M393.4 199.3h0M384.8 200.2h0M376.2 197.5h0M350.5 201.7h0M342.2 202.2h0" stroke="#1f998a" stroke-opacity="0.30"/><path d="M425.2 208.2h0M409.8 207.7h0M401.7 206.2h0M393.4 201.2h0M384.8 202.1h0M376.2 205.1h0M367.5 203.2h0M358.9 203.6h0M350.5 203.6h0M342.2 204.1h0M334.2 207.2h0M326.5 210.3h0" stroke="#1fa088" stroke-opacity="0.30"/><path d="M425.1 210.1h0M417.7 205.9h0M409.9 203.9h0M401.7 202.4h0M393.4 203.1h0M384.8 204.0h0M376.2 201.3h0M367.5 205.1h0M359.0 205.5h0M350.5 205.5h0M342.2 206.0h0M334.2 209.1h0" stroke="#1fa088" stroke-opacity="0.30"/><path d="M417.7 207.8h0M409.8 205.8h0M401.7 204.3h0M393.4 205.0h0M376.2 203.2h0M367.5 201.3h0M358.9 201.7h0M334.2 205.3h0M326.5 208.4h0" stroke="#1fa088" stroke-opacity="0.30"/><path d="M425.1 214.0h0M417.7 209.7h0M393.4 206.9h0M384.8 207.8h0M367.5 208.9h0M359.0 209.3h0M350.5 209.3h0M342.2 209.9h0M334.2 212.9h0" stroke="#21a585" stroke-opacity="0.30"/><path d="M432.2 216.9h0M417.7 211.7h0M409.8 209.6h0M401.7 208.2h0M393.4 208.8h0M384.8 209.7h0M376.2 207.0h0M350.5 211.2h0M342.2 211.8h0M326.5 212.2h0M319.2 215.8h0" stroke="#21a585" stroke-opacity="0.30"/><path d="M425.1 212.0h0M417.6 213.6h0M409.8 211.5h0M401.7 210.1h0M384.8 205.9h0M376.2 208.9h0M367.5 207.0h0M359.0 207.4h0M350.5 207.4h0M342.2 207.9h0M334.2 211.0h0M326.6 214.1h0M319.3 217.7h0" stroke="#21a585" stroke-opacity="0.30"/><path d="M432.2 220.7h0M425.1 219.8h0M417.6 215.5h0M409.8 213.4h0M401.7 212.0h0M350.5 215.0h0M342.3 215.6h0M334.3 218.7h0M326.6 216.1h0M319.3 219.7h0" stroke="#25ac82" stroke-opacity="0.30"/><path d="M432.2 222.7h0M425.1 215.9h0M417.6 217.4h0M409.8 215.3h0M401.7 213.9h0M359.0 211.2h0M334.3 214.9h0M326.6 218.0h0M319.3 221.6h0" stroke="#25ac82" stroke-opacity="0.30"/><path d="M432.2 218.8h0M425.1 217.8h0M409.8 217.2h0M393.4 210.7h0M350.5 213.1h0M342.3 213.7h0M334.3 216.8h0M326.6 219.9h0" stroke="#25ac82" stroke-opacity="0.30"/><path d="M438.8 227.7h0M432.1 226.6h0M417.6 221.3h0M409.8 219.2h0M326.6 221.9h0M319.3 225.5h0M312.4 225.7h0" stroke="#2db27d" stroke-opacity="0.30"/><path d="M438.8 229.7h0M425.1 221.7h0M417.6 223.2h0M342.3 217.5h0M334.3 220.6h0M326.6 223.8h0M319.3 227.4h0M312.4 227.7h0" stroke="#2db27d" stroke-opacity="0.30"/><path d="M438.8 225.8h0M432.1 224.6h0M425.1 223.6h0M417.6 219.3h0M342.3 219.4h0M334.3 222.5h0M319.3 223.6h0M312.5 229.6h0" stroke="#2db27d" stroke-opacity="0.30"/><path d="M444.8 236.8h0M438.7 233.6h0M425.1 225.5h0M334.3 224.5h0M326.6 227.7h0M319.4 231.3h0M312.5 231.6h0M306.1 237.4h0" stroke="#35b779" stroke-opacity="0.30"/><path d="M432.1 228.5h0M425.0 227.5h0M326.6 229.6h0M312.5 233.5h0" stroke="#35b779" stroke-opacity="0.30"/><path d="M438.7 231.6h0M432.1 230.4h0M425.0 229.4h0M417.6 225.1h0M326.6 225.7h0M319.3 229.4h0M306.1 235.4h0" stroke="#35b779" stroke-opacity="0.30"/><path d="M438.7 239.4h0M432.1 232.4h0M425.0 231.3h0M312.5 237.5h0" stroke="#40bd72" stroke-opacity="0.30"/><path d="M444.8 238.7h0M438.7 235.5h0M432.1 234.3h0M319.4 233.3h0M312.5 239.4h0M306.1 239.3h0" stroke="#40bd72" stroke-opacity="0.30"/><path d="M444.8 240.7h0M438.7 237.5h0M432.1 236.3h0M326.7 231.5h0M319.4 235.2h0M312.5 235.5h0M306.2 241.3h0" stroke="#40bd72" stroke-opacity="0.30"/><path d="M450.4 247.9h0M444.8 242.7h0M432.1 238.2h0M319.4 237.2h0M312.6 243.3h0M306.2 243.3h0M300.4 249.6h0" stroke="#4cc26c" stroke-opacity="0.30"/><path d="M450.3 249.9h0M444.8 244.6h0M438.7 241.4h0M432.0 240.1h0M319.4 239.1h0M306.2 245.2h0" stroke="#4cc26c" stroke-opacity="0.30"/><path d="M444.8 246.6h0M438.6 243.3h0M319.4 241.0h0M312.5 241.4h0M306.2 247.2h0M300.3 247.6h0" stroke="#4cc26c" stroke-opacity="0.30"/><path d="M450.3 253.9h0M444.7 248.6h0M438.6 245.3h0M312.6 249.2h0M306.2 249.2h0" stroke="#5ac864" stroke-opacity="0.30"/><path d="M444.7 250.5h0M438.6 247.3h0M312.6 245.3h0M306.2 251.1h0M300.4 251.6h0" stroke="#5ac864" stroke-opacity="0.30"/><path d="M450.3 251.9h0M438.6 249.2h0M312.6 247.2h0M300.4 253.6h0" stroke="#5ac864" stroke-opacity="0.30"/><path d="M455.3 261.0h0M450.3 259.8h0M444.7 254.5h0M306.3 255.1h0M300.4 255.6h0M295.2 262.3h0" stroke="#67cc5c" stroke-opacity="0.30"/><path d="M455.3 263.0h0M450.3 255.9h0M444.7 256.4h0M300.4 257.5h0" stroke="#67cc5c" stroke-opacity="0.30"/><path d="M455.3 259.0h0M450.3 257.9h0M444.7 252.5h0M306.3 253.1h0M300.5 259.5h0M295.2 260.3h0" stroke="#67cc5c" stroke-opacity="0.30"/><path d="M455.2 267.0h0M444.6 260.4h0M306.3 261.0h0M300.5 261.5h0M295.2 268.3h0" stroke="#77d153" stroke-opacity="0.30"/><path d="M450.2 261.8h0M306.3 257.0h0M300.5 263.5h0M295.2 264.3h0" stroke="#77d153" stroke-opacity="0.30"/><path d="M455.2 265.0h0M450.2 263.8h0M444.7 258.4h0M306.3 259.0h0M295.2 266.3h0" stroke="#77d153" stroke-opacity="0.30"/><path d="M459.6 274.4h0M455.2 273.0h0M450.2 265.8h0M300.5 267.5h0M290.6 275.0h0" stroke="#89d548" stroke-opacity="0.30"/><path d="M459.6 276.4h0M455.2 269.0h0M450.2 267.8h0M300.5 269.4h0M295.3 270.3h0M290.7 277.0h0" stroke="#89d548" stroke-opacity="0.30"/><path d="M459.6 272.4h0M455.2 271.0h0M450.2 269.8h0M300.5 265.5h0M295.3 272.3h0M290.6 273.0h0" stroke="#89d548" stroke-opacity="0.30"/><path d="M459.5 280.4h0M450.2 271.7h0M295.3 274.3h0M290.7 281.0h0" stroke="#98d83e" stroke-opacity="0.30"/><path d="M455.2 275.0h0M295.3 276.3h0" stroke="#98d83e" stroke-opacity="0.30"/><path d="M459.6 278.4h0M455.1 277.0h0M300.6 271.4h0M295.3 278.3h0M290.7 279.0h0" stroke="#98d83e" stroke-opacity="0.30"/><path d="M463.3 289.8h0M459.5 286.5h0M455.1 279.0h0M295.4 280.3h0M286.7 286.8h0" stroke="#aadc32" stroke-opacity="0.30"/><path d="M459.5 282.5h0M455.1 281.0h0M295.4 282.3h0M290.7 283.1h0M286.8 288.9h0" stroke="#aadc32" stroke-opacity="0.30"/><path d="M463.3 287.8h0M459.5 284.5h0M455.1 283.0h0M290.7 285.1h0M286.8 290.9h0" stroke="#aadc32" stroke-opacity="0.30"/><path d="M463.2 295.9h0M455.1 285.0h0M290.8 287.1h0M286.8 292.9h0" stroke="#bade28" stroke-opacity="0.30"/><path d="M463.2 291.8h0M459.5 288.5h0M290.8 289.1h0M286.8 295.0h0" stroke="#bade28" stroke-opacity="0.30"/><path d="M463.2 293.9h0M459.4 290.5h0M295.4 284.3h0M290.8 291.1h0" stroke="#bade28" stroke-opacity="0.30"/><path d="M459.4 292.6h0M290.8 293.1h0M286.9 299.0h0" stroke="#cde11d" stroke-opacity="0.30"/><path d="M466.3 303.1h0M463.2 297.9h0M459.4 294.6h0M290.8 295.2h0M283.6 302.4h0" stroke="#cde11d" stroke-opacity="0.30"/><path d="M466.3 305.1h0M463.2 300.0h0M459.4 296.6h0M286.9 297.0h0M283.6 304.5h0" stroke="#cde11d" stroke-opacity="0.30"/><path d="M466.2 307.2h0M463.1 302.0h0M290.9 299.2h0M286.9 305.1h0M283.6 306.5h0" stroke="#dde318" stroke-opacity="0.30"/><path d="M286.9 301.1h0M283.6 308.6h0" stroke="#dde318" stroke-opacity="0.30"/><path d="M290.9 297.2h0M286.9 303.1h0" stroke="#dde318" stroke-opacity="0.30"/><path d="M283.7 312.7h0" stroke="#efe51c" stroke-opacity="0.30"/><path d="M287.0 307.2h0M283.7 314.8h0M281.1 318.7h0" stroke="#efe51c" stroke-opacity="0.30"/><path d="M287.0 309.2h0M283.7 310.7h0" stroke="#efe51c" stroke-opacity="0.30"/><path d="M287.0 311.3h0M283.7 318.9h0M283.8 325.0h0M281.2 322.9h0M281.2 329.1h0" stroke="#fde725" stroke-opacity="0.30"/><path d="M287.0 313.3h0M283.8 320.9h0M283.8 327.1h0M281.2 324.9h0M281.2 331.2h0" stroke="#fde725" stroke-opacity="0.30"/><path d="M283.7 316.8h0M283.8 323.0h0M283.9 329.2h0M281.1 320.8h0M281.2 327.0h0M281.3 333.2h0" stroke="#fde725" stroke-opacity="0.30"/><path d="M393.4 172.6h0M376.2 171.0h0M367.5 169.1h0" stroke="#2b748e" stroke-opacity="0.38"/><path d="M384.9 169.8h0M367.5 171.0h0M358.9 171.3h0" stroke="#2b748e" stroke-opacity="0.38"/><path d="M384.9 171.7h0M376.2 169.1h0" stroke="#2b748e" stroke-opacity="0.38"/><path d="M410.0 179.0h0M401.8 177.7h0M384.9 173.6h0M376.2 176.7h0M367.5 174.8h0M358.9 175.1h0M350.4 175.0h0" stroke="#297b8e" stroke-opacity="0.38"/><path d="M393.4 174.5h0M384.9 175.5h0M376.2 172.9h0M367.5 176.7h0M358.9 177.0h0M350.4 176.9h0" stroke="#297b8e" stroke-opacity="0.38"/><path d="M401.8 175.8h0M393.4 176.4h0M376.2 174.8h0M367.5 172.9h0M358.9 173.2h0M342.1 179.3h0" stroke="#297b8e" stroke-opacity="0.38"/><path d="M393.4 178.3h0M384.9 179.3h0M367.5 180.5h0M358.9 180.8h0M350.4 180.8h0M342.1 181.2h0M334.1 184.1h0" stroke="#26818e" stroke-opacity="0.38"/><path d="M409.9 180.9h0M401.8 179.6h0M393.4 180.2h0M384.9 181.2h0M376.2 178.6h0M350.4 182.7h0M342.1 183.1h0" stroke="#26818e" stroke-opacity="0.38"/><path d="M417.8 184.8h0M409.9 182.8h0M401.8 181.5h0M393.4 182.1h0M384.9 177.4h0M376.2 180.5h0M367.5 178.6h0M358.9 178.9h0M350.4 178.8h0" stroke="#26818e" stroke-opacity="0.38"/><path d="M417.8 186.7h0M409.9 184.8h0M401.8 183.4h0M393.4 184.1h0M376.2 182.4h0M358.9 186.5h0M350.4 186.5h0M342.1 186.9h0M334.1 189.9h0" stroke="#24878e" stroke-opacity="0.38"/><path d="M417.8 188.6h0M409.9 186.7h0M401.8 185.3h0M393.4 186.0h0M367.5 182.4h0M358.9 182.7h0M342.2 188.8h0M334.1 186.1h0" stroke="#24878e" stroke-opacity="0.38"/><path d="M409.9 188.6h0M401.8 187.2h0M384.9 183.1h0M367.5 184.3h0M358.9 184.6h0M350.4 184.6h0M342.1 185.0h0M334.1 188.0h0M326.4 191.0h0" stroke="#24878e" stroke-opacity="0.38"/><path d="M425.2 196.6h0M417.7 192.5h0M409.9 190.5h0M401.8 189.1h0M342.2 192.7h0M326.4 192.9h0" stroke="#228d8d" stroke-opacity="0.38"/><path d="M425.3 192.7h0M417.7 194.4h0M409.9 192.4h0M350.4 188.4h0M334.1 191.8h0M326.4 194.9h0" stroke="#228d8d" stroke-opacity="0.38"/><path d="M425.2 194.7h0M417.8 190.5h0M342.2 190.7h0M334.1 193.7h0M326.5 196.8h0" stroke="#228d8d" stroke-opacity="0.38"/><path d="M432.3 203.3h0M417.7 198.2h0M334.2 195.7h0M326.5 198.7h0M319.2 202.2h0" stroke="#20938c" stroke-opacity="0.38"/><path d="M432.3 199.4h0M425.2 198.5h0M334.2 197.6h0M326.5 200.6h0" stroke="#20938c" stroke-opacity="0.38"/><path d="M432.3 201.3h0M425.2 200.5h0M417.7 196.3h0M409.9 194.3h0M334.2 199.5h0M319.1 200.3h0" stroke="#20938c" stroke-opacity="0.38"/><path d="M438.9 210.1h0M425.2 202.4h0M326.5 204.5h0M319.2 208.0h0M312.3 208.1h0" stroke="#1f998a" stroke-opacity="0.38"/><path d="M432.3 205.2h0M425.2 204.3h0M319.2 204.2h0M312.3 210.1h0" stroke="#1f998a" stroke-opacity="0.38"/><path d="M438.9 208.2h0M432.3 207.2h0M425.2 206.3h0M326.5 202.6h0M319.2 206.1h0" stroke="#1f998a" stroke-opacity="0.38"/><path d="M432.3 209.1h0M312.3 214.0h0" stroke="#1fa088" stroke-opacity="0.38"/><path d="M438.9 212.1h0M432.2 211.0h0M326.5 206.4h0M319.2 210.0h0" stroke="#1fa088" stroke-opacity="0.38"/><path d="M438.9 214.0h0M432.2 213.0h0M319.2 211.9h0M312.3 212.1h0" stroke="#1fa088" stroke-opacity="0.38"/><path d="M445.0 219.1h0M438.9 216.0h0M432.2 214.9h0M319.2 213.9h0M312.4 219.9h0M306.0 219.7h0" stroke="#21a585" stroke-opacity="0.38"/><path d="M445.0 221.0h0M438.8 218.0h0M312.4 216.0h0M306.0 221.6h0" stroke="#21a585" stroke-opacity="0.38"/><path d="M438.8 219.9h0M312.4 217.9h0" stroke="#21a585" stroke-opacity="0.38"/><path d="M450.5 230.1h0M444.9 225.0h0M438.8 221.9h0M306.0 225.6h0" stroke="#25ac82" stroke-opacity="0.38"/><path d="M444.9 226.9h0M438.8 223.8h0M312.4 221.8h0M306.0 227.5h0" stroke="#25ac82" stroke-opacity="0.38"/><path d="M445.0 223.0h0M312.4 223.8h0M306.0 223.6h0" stroke="#25ac82" stroke-opacity="0.38"/><path d="M444.9 230.9h0M306.1 231.5h0M300.2 231.8h0" stroke="#2db27d" stroke-opacity="0.38"/><path d="M450.5 232.1h0M300.2 233.7h0" stroke="#2db27d" stroke-opacity="0.38"/><path d="M450.5 234.1h0M444.9 228.9h0M306.1 229.5h0" stroke="#2db27d" stroke-opacity="0.38"/><path d="M455.5 243.0h0M450.5 236.0h0M300.3 237.7h0" stroke="#35b779" stroke-opacity="0.38"/><path d="M450.4 238.0h0M444.9 232.8h0M306.1 233.4h0M300.3 239.7h0" stroke="#35b779" stroke-opacity="0.38"/><path d="M450.4 240.0h0M444.9 234.8h0M300.2 235.7h0M295.0 242.3h0" stroke="#35b779" stroke-opacity="0.38"/><path d="M450.4 242.0h0M300.3 243.7h0M295.0 244.3h0" stroke="#40bd72" stroke-opacity="0.38"/><path d="M455.4 245.0h0M450.4 244.0h0M295.0 246.3h0" stroke="#40bd72" stroke-opacity="0.38"/><path d="M455.4 247.0h0M300.3 241.7h0M295.1 248.3h0" stroke="#40bd72" stroke-opacity="0.38"/><path d="M459.8 256.2h0M455.4 249.0h0M295.1 250.3h0M290.5 256.8h0" stroke="#4cc26c" stroke-opacity="0.38"/><path d="M455.4 251.0h0M300.3 245.6h0M295.1 252.3h0" stroke="#4cc26c" stroke-opacity="0.38"/><path d="M455.4 253.0h0M450.4 246.0h0" stroke="#4cc26c" stroke-opacity="0.38"/><path d="M455.3 255.0h0M295.1 256.3h0" stroke="#5ac864" stroke-opacity="0.38"/><path d="M459.8 258.3h0M455.3 257.0h0M295.2 258.3h0M290.5 258.8h0" stroke="#5ac864" stroke-opacity="0.38"/><path d="M459.7 260.3h0M295.1 254.3h0M290.5 260.9h0" stroke="#5ac864" stroke-opacity="0.38"/><path d="M459.7 262.3h0M290.5 262.9h0" stroke="#67cc5c" stroke-opacity="0.38"/><path d="M459.7 264.3h0M290.5 264.9h0M286.6 270.5h0" stroke="#67cc5c" stroke-opacity="0.38"/><path d="M459.7 266.3h0M290.6 266.9h0" stroke="#67cc5c" stroke-opacity="0.38"/><path d="M463.4 271.5h0M459.7 268.3h0M290.6 268.9h0M286.6 274.6h0" stroke="#77d153" stroke-opacity="0.38"/><path d="M463.4 273.5h0M459.6 270.4h0M290.6 271.0h0" stroke="#77d153" stroke-opacity="0.38"/><path d="M463.4 275.5h0M286.6 272.6h0" stroke="#77d153" stroke-opacity="0.38"/><path d="M463.4 277.6h0M286.7 280.7h0" stroke="#89d548" stroke-opacity="0.38"/><path d="M463.4 279.6h0M286.6 276.6h0" stroke="#89d548" stroke-opacity="0.38"/><path d="M286.7 278.7h0" stroke="#89d548" stroke-opacity="0.38"/><path d="M466.4 288.7h0M463.3 283.7h0M283.4 288.0h0" stroke="#98d83e" stroke-opacity="0.38"/><path d="M463.3 285.7h0M286.7 282.7h0" stroke="#98d83e" stroke-opacity="0.38"/><path d="M466.4 286.6h0M463.3 281.6h0M286.7 284.8h0M283.4 286.0h0" stroke="#98d83e" stroke-opacity="0.38"/><path d="M466.4 294.8h0M283.5 294.2h0" stroke="#aadc32" stroke-opacity="0.38"/><path d="M466.4 290.7h0M283.4 290.1h0" stroke="#aadc32" stroke-opacity="0.38"/><path d="M466.4 292.8h0M283.5 292.2h0" stroke="#aadc32" stroke-opacity="0.38"/><path d="M468.8 303.8h0M281.0 304.2h0" stroke="#bade28" stroke-opacity="0.38"/><path d="M466.3 296.9h0M283.5 296.3h0" stroke="#bade28" stroke-opacity="0.38"/><path d="M468.8 301.7h0M466.3 299.0h0M283.5 298.3h0M280.9 302.1h0" stroke="#bade28" stroke-opacity="0.38"/><path d="M466.3 301.0h0M283.6 300.4h0" stroke="#cde11d" stroke-opacity="0.38"/><path d="M468.7 305.9h0M281.0 306.3h0" stroke="#cde11d" stroke-opacity="0.38"/><path d="M468.7 307.9h0M281.0 308.3h0" stroke="#cde11d" stroke-opacity="0.38"/><path d="M470.4 316.7h0M468.7 310.0h0M281.0 310.4h0M279.2 318.4h0" stroke="#dde318" stroke-opacity="0.38"/><path d="M470.4 318.8h0M468.7 312.1h0M281.0 312.5h0" stroke="#dde318" stroke-opacity="0.38"/><path d="M468.6 314.2h0M281.1 314.6h0" stroke="#dde318" stroke-opacity="0.38"/><path d="M281.1 316.6h0" stroke="#efe51c" stroke-opacity="0.38"/><path d="M279.2 320.5h0" stroke="#efe51c" stroke-opacity="0.38"/><path d="M470.4 320.9h0M279.2 322.6h0" stroke="#efe51c" stroke-opacity="0.38"/><path d="M279.3 324.7h0M279.3 331.0h0" stroke="#fde725" stroke-opacity="0.38"/><path d="M279.3 326.8h0M279.4 333.1h0" stroke="#fde725" stroke-opacity="0.38"/><path d="M279.3 328.9h0" stroke="#fde725" stroke-opacity="0.38"/><path d="M288.8 322.7h0M301.8 322.0h0M314.7 321.2h0M327.6 320.5h0M340.6 319.8h0M353.5 319.0h0M366.4 318.3h0M379.3 317.6h0M392.3 316.8h0M405.2 316.1h0M418.1 315.3h0M431.0 314.6h0M444.0 313.9h0M456.9 313.1h0M469.8 312.4h0M294.9 318.3h0M307.8 317.6h0M320.8 316.8h0M333.7 316.1h0M346.6 315.3h0M359.5 314.6h0M372.5 313.9h0M385.4 313.1h0M398.3 312.4h0M411.3 311.7h0M424.2 310.9h0M437.1 310.2h0M450.0 309.4h0M463.0 308.7h0M422.2 307.0h0M435.2 306.2h0M448.1 305.5h0M461.0 304.8h0" stroke="#dde318" stroke-opacity="0.53"/><path d="M293.2 322.5h0M306.1 321.7h0M319.0 321.0h0M331.9 320.3h0M344.9 319.5h0M357.8 318.8h0M370.7 318.0h0M383.6 317.3h0M396.6 316.6h0M409.5 315.8h0M422.4 315.1h0M435.4 314.4h0M448.3 313.6h0M461.2 312.9h0M286.3 318.8h0M299.2 318.0h0M312.1 317.3h0M325.1 316.6h0M338.0 315.8h0M350.9 315.1h0M363.9 314.4h0M376.8 313.6h0M389.7 312.9h0M402.6 312.2h0M415.6 311.4h0M428.5 310.7h0M441.4 309.9h0M454.4 309.2h0M467.3 308.5h0M426.6 306.7h0M439.5 306.0h0M452.4 305.2h0M465.3 304.5h0" stroke="#dde318" stroke-opacity="0.53"/><path d="M284.5 323.0h0M297.5 322.2h0M310.4 321.5h0M323.3 320.7h0M336.2 320.0h0M349.2 319.3h0M362.1 318.5h0M375.0 317.8h0M388.0 317.1h0M400.9 316.3h0M413.8 315.6h0M426.7 314.8h0M439.7 314.1h0M452.6 313.4h0M465.5 312.6h0M290.6 318.5h0M303.5 317.8h0M316.5 317.1h0M329.4 316.3h0M342.3 315.6h0M355.2 314.9h0M368.2 314.1h0M381.1 313.4h0M394.0 312.6h0M406.9 311.9h0M419.9 311.2h0M432.8 310.4h0M445.7 309.7h0M458.7 309.0h0M417.9 307.2h0M430.9 306.5h0M443.8 305.7h0M456.7 305.0h0" stroke="#dde318" stroke-opacity="0.53"/><path d="M287.0 331.0h0M300.0 330.2h0M312.9 329.5h0M325.8 328.7h0M338.7 328.0h0M351.7 327.3h0M364.6 326.5h0M377.5 325.8h0M390.4 325.1h0M403.4 324.3h0M416.3 323.6h0M429.2 322.8h0M442.2 322.1h0M455.1 321.4h0M468.0 320.6h0M287.7 326.8h0M300.6 326.1h0M313.5 325.4h0M326.4 324.6h0M339.4 323.9h0M352.3 323.2h0M365.2 322.4h0M378.2 321.7h0M391.1 321.0h0M404.0 320.2h0M416.9 319.5h0M429.9 318.7h0M442.8 318.0h0M455.7 317.3h0M468.6 316.5h0" stroke="#dde318" stroke-opacity="0.61"/><path d="M291.3 330.7h0M304.3 330.0h0M317.2 329.2h0M330.1 328.5h0M343.0 327.8h0M356.0 327.0h0M368.9 326.3h0M381.8 325.6h0M394.8 324.8h0M407.7 324.1h0M420.6 323.3h0M433.5 322.6h0M446.5 321.9h0M459.4 321.1h0M472.3 320.4h0M292.0 326.6h0M304.9 325.9h0M317.8 325.1h0M330.8 324.4h0M343.7 323.7h0M356.6 322.9h0M369.5 322.2h0M382.5 321.4h0M395.4 320.7h0M408.3 320.0h0M421.2 319.2h0M434.2 318.5h0M447.1 317.8h0M460.0 317.0h0M473.0 316.3h0" stroke="#dde318" stroke-opacity="0.61"/><path d="M282.7 331.2h0M295.6 330.5h0M308.6 329.7h0M321.5 329.0h0M334.4 328.3h0M347.4 327.5h0M360.3 326.8h0M373.2 326.0h0M386.1 325.3h0M399.1 324.6h0M412.0 323.8h0M424.9 323.1h0M437.9 322.4h0M450.8 321.6h0M463.7 320.9h0M283.4 327.1h0M296.3 326.4h0M309.2 325.6h0M322.1 324.9h0M335.1 324.1h0M348.0 323.4h0M360.9 322.7h0M373.8 321.9h0M386.8 321.2h0M399.7 320.5h0M412.6 319.7h0M425.6 319.0h0M438.5 318.3h0M451.4 317.5h0M464.3 316.8h0" stroke="#dde318" stroke-opacity="0.61"/><path d="M393.5 138.4h0M384.9 139.5h0" stroke="#404588" stroke-opacity="0.38"/><path d="M401.9 139.6h0" stroke="#404588" stroke-opacity="0.38"/><path d="M410.1 144.6h0M401.9 143.4h0M393.5 144.1h0M376.2 142.5h0" stroke="#3d4d8a" stroke-opacity="0.38"/><path d="M401.9 145.3h0M393.5 140.3h0M384.9 141.4h0M367.5 142.5h0" stroke="#3d4d8a" stroke-opacity="0.38"/><path d="M401.9 141.5h0M393.5 142.2h0M384.9 143.3h0M376.2 140.6h0M367.5 144.4h0M358.8 144.7h0" stroke="#3d4d8a" stroke-opacity="0.38"/><path d="M418.0 152.2h0M410.1 150.3h0M401.9 149.1h0M384.9 145.2h0M376.2 148.2h0M367.5 146.3h0M358.8 146.6h0M350.3 146.5h0" stroke="#3a538b" stroke-opacity="0.38"/><path d="M410.1 146.5h0M393.5 146.0h0M384.9 147.1h0M376.2 144.4h0M367.5 148.2h0M358.8 148.5h0M350.3 148.4h0M342.0 148.7h0M333.9 151.5h0" stroke="#3a538b" stroke-opacity="0.38"/><path d="M418.0 150.2h0M410.1 148.4h0M401.9 147.2h0M393.5 147.9h0M384.9 149.0h0M376.2 146.3h0M342.0 150.6h0" stroke="#3a538b" stroke-opacity="0.38"/><path d="M425.5 156.1h0M401.9 154.8h0M393.5 149.8h0M384.9 150.9h0M367.5 152.0h0M358.8 152.3h0M350.3 152.2h0M342.0 152.5h0M334.0 155.4h0M326.2 158.2h0" stroke="#375b8d" stroke-opacity="0.38"/><path d="M425.5 158.0h0M417.9 154.1h0M410.1 152.3h0M401.9 151.0h0M393.5 151.7h0M384.9 152.8h0M376.2 150.1h0M358.8 154.2h0M350.3 154.1h0M342.0 154.4h0" stroke="#375b8d" stroke-opacity="0.38"/><path d="M417.9 156.0h0M410.1 154.2h0M401.9 152.9h0M393.5 153.6h0M376.2 152.0h0M367.5 150.1h0M358.8 150.4h0M350.3 150.3h0M333.9 153.4h0M326.2 156.3h0" stroke="#375b8d" stroke-opacity="0.38"/><path d="M425.4 161.9h0M417.9 157.9h0M410.0 156.1h0M393.5 155.5h0M384.9 156.6h0M376.2 153.9h0M367.5 157.7h0M358.9 158.0h0M350.3 157.9h0M342.0 158.3h0M334.0 161.1h0" stroke="#34618d" stroke-opacity="0.38"/><path d="M432.6 164.5h0M417.9 159.8h0M410.0 158.0h0M401.9 156.7h0M393.5 157.4h0M384.9 158.5h0M376.2 155.8h0M367.5 153.9h0M342.0 160.2h0M334.0 157.3h0M326.2 160.1h0M318.9 163.4h0" stroke="#34618d" stroke-opacity="0.38"/><path d="M425.4 160.0h0M417.9 161.8h0M410.0 159.9h0M401.9 158.6h0M384.9 154.7h0M376.2 157.7h0M367.5 155.8h0M358.8 156.1h0M350.3 156.0h0M342.0 156.3h0M334.0 159.2h0M326.2 162.1h0" stroke="#34618d" stroke-opacity="0.38"/><path d="M432.5 168.3h0M425.4 167.7h0M417.9 163.7h0M410.0 161.8h0M401.9 160.5h0M393.5 161.2h0M384.9 162.3h0M376.2 159.6h0M350.4 163.6h0M342.0 164.0h0M326.3 164.0h0M318.9 167.3h0" stroke="#31688e" stroke-opacity="0.38"/><path d="M425.4 163.8h0M417.9 165.6h0M410.0 163.7h0M401.9 162.4h0M393.5 163.1h0M376.2 161.5h0M367.5 159.6h0M358.9 159.9h0M350.3 159.8h0M334.0 163.0h0M326.3 165.9h0M318.9 169.2h0" stroke="#31688e" stroke-opacity="0.38"/><path d="M432.5 166.4h0M425.4 165.7h0M401.8 164.3h0M393.5 159.3h0M384.9 160.4h0M367.5 161.5h0M358.9 161.8h0M350.4 161.7h0M342.0 162.1h0M334.0 165.0h0M326.3 167.8h0M318.9 165.3h0" stroke="#31688e" stroke-opacity="0.38"/><path d="M439.2 175.0h0M432.5 174.2h0M417.9 169.4h0M410.0 167.6h0M401.8 166.2h0M393.4 166.9h0M376.2 165.3h0M367.5 163.4h0M358.9 163.7h0M342.1 169.7h0M334.0 166.9h0M326.3 169.8h0M319.0 173.1h0M312.0 173.0h0" stroke="#2e6e8e" stroke-opacity="0.38"/><path d="M439.1 176.9h0M432.5 170.3h0M425.4 169.6h0M417.9 171.4h0M410.0 169.5h0M401.8 168.1h0M384.9 164.2h0M376.2 167.2h0M367.5 165.3h0M358.9 165.6h0M350.4 165.5h0M342.1 165.9h0M334.0 168.8h0M326.3 171.7h0M312.0 174.9h0" stroke="#2e6e8e" stroke-opacity="0.38"/><path d="M439.2 173.0h0M432.5 172.2h0M425.4 171.5h0M417.9 167.5h0M410.0 165.6h0M393.4 165.0h0M384.9 166.0h0M376.2 163.4h0M367.5 167.2h0M358.9 167.5h0M350.4 167.4h0M342.1 167.8h0M334.0 170.7h0M318.9 171.2h0M312.1 176.9h0" stroke="#2e6e8e" stroke-opacity="0.38"/><path d="M445.3 183.6h0M439.1 180.8h0M425.4 173.5h0M417.8 175.2h0M410.0 173.3h0M401.8 172.0h0M384.9 167.9h0M358.9 169.4h0M350.4 169.3h0M334.0 172.6h0M326.3 175.6h0M319.0 178.9h0M312.1 178.8h0" stroke="#2b748e" stroke-opacity="0.38"/><path d="M432.5 176.1h0M425.4 175.4h0M393.4 168.8h0M350.4 171.2h0M342.1 171.6h0M334.0 174.5h0M326.3 177.5h0M319.0 175.1h0M312.1 180.8h0" stroke="#2b748e" stroke-opacity="0.38"/><path d="M439.1 178.9h0M432.5 178.0h0M425.3 177.3h0M417.8 173.3h0M410.0 171.4h0M401.8 170.1h0M393.4 170.7h0M350.4 173.1h0M342.1 173.5h0M326.3 173.6h0M319.0 177.0h0M305.7 182.3h0" stroke="#2b748e" stroke-opacity="0.38"/><path d="M432.4 180.0h0M425.3 179.2h0M342.1 175.5h0M334.1 178.4h0M326.4 181.4h0M312.1 184.7h0M305.7 184.2h0" stroke="#297b8e" stroke-opacity="0.38"/><path d="M445.3 185.6h0M439.1 182.8h0M432.4 181.9h0M425.3 181.2h0M417.8 177.1h0M410.0 175.2h0M401.8 173.9h0M342.1 177.4h0M334.1 180.3h0M319.0 180.9h0M305.7 186.2h0" stroke="#297b8e" stroke-opacity="0.38"/><path d="M445.2 187.6h0M439.1 184.7h0M432.4 183.9h0M417.8 179.0h0M410.0 177.1h0M334.1 176.5h0M326.3 179.4h0M319.0 182.8h0M312.1 182.8h0M305.7 188.2h0" stroke="#297b8e" stroke-opacity="0.38"/><path d="M450.8 194.4h0M445.2 189.5h0M439.1 186.7h0M432.4 185.8h0M425.3 185.0h0M417.8 180.9h0M326.4 187.1h0M319.0 184.8h0M312.2 190.6h0M305.7 190.2h0M299.9 196.1h0" stroke="#26818e" stroke-opacity="0.38"/><path d="M450.8 196.4h0M445.2 191.5h0M439.1 188.6h0M432.4 187.8h0M425.3 187.0h0M417.8 182.9h0M326.4 183.3h0M319.0 186.7h0M312.1 186.7h0M305.8 192.1h0" stroke="#26818e" stroke-opacity="0.38"/><path d="M445.2 193.5h0M439.0 190.6h0M425.3 183.1h0M334.1 182.2h0M326.4 185.2h0M319.1 188.6h0M312.2 188.6h0M299.9 194.1h0" stroke="#26818e" stroke-opacity="0.38"/><path d="M450.8 200.3h0M445.2 195.4h0M439.0 192.6h0M432.4 191.6h0M425.3 190.8h0M319.1 190.6h0M305.8 196.1h0" stroke="#24878e" stroke-opacity="0.38"/><path d="M445.2 197.4h0M439.0 194.5h0M432.4 193.6h0M326.4 189.1h0M319.1 192.5h0M312.2 192.5h0M305.8 198.0h0M299.9 198.1h0" stroke="#24878e" stroke-opacity="0.38"/><path d="M450.8 198.4h0M432.4 189.7h0M425.3 188.9h0M312.2 194.5h0M305.8 194.1h0M299.9 200.0h0" stroke="#24878e" stroke-opacity="0.38"/><path d="M455.8 207.0h0M450.7 206.3h0M445.1 201.3h0M439.0 198.4h0M432.3 197.5h0M319.1 196.4h0M312.2 196.4h0M305.8 202.0h0M299.9 202.0h0M294.7 208.3h0" stroke="#228d8d" stroke-opacity="0.38"/><path d="M455.8 209.0h0M450.8 202.3h0M445.1 203.3h0M439.0 200.4h0M319.1 198.3h0M312.2 198.4h0M300.0 204.0h0" stroke="#228d8d" stroke-opacity="0.38"/><path d="M455.8 205.0h0M450.7 204.3h0M445.1 199.4h0M439.0 196.5h0M432.3 195.5h0M319.1 194.5h0M312.2 200.3h0M305.8 200.0h0M300.0 206.0h0M294.7 206.3h0" stroke="#228d8d" stroke-opacity="0.38"/><path d="M455.7 213.0h0M445.1 207.3h0M438.9 204.3h0M312.3 202.3h0M305.9 207.9h0M300.0 208.0h0" stroke="#20938c" stroke-opacity="0.38"/><path d="M450.7 208.3h0M312.3 204.2h0M305.8 203.9h0M300.0 209.9h0M294.7 210.3h0" stroke="#20938c" stroke-opacity="0.38"/><path d="M455.8 211.0h0M450.7 210.3h0M445.1 205.3h0M439.0 202.3h0M305.9 205.9h0M294.7 212.3h0" stroke="#20938c" stroke-opacity="0.38"/><path d="M460.1 219.9h0M455.7 219.0h0M450.7 212.2h0M445.0 213.2h0M300.0 213.9h0M294.7 214.3h0M290.1 220.5h0" stroke="#1f998a" stroke-opacity="0.38"/><path d="M460.1 221.9h0M455.7 215.0h0M450.7 214.2h0M445.1 209.2h0M438.9 206.2h0M305.9 209.8h0M300.1 215.9h0M294.8 216.3h0" stroke="#1f998a" stroke-opacity="0.38"/><path d="M460.2 217.9h0M455.7 217.0h0M445.1 211.2h0M312.3 206.2h0M305.9 211.8h0M300.0 211.9h0M294.8 218.3h0M290.1 218.5h0" stroke="#1f998a" stroke-opacity="0.38"/><path d="M460.1 226.0h0M450.6 218.2h0M305.9 213.8h0M300.1 219.9h0M294.8 220.3h0M290.2 226.6h0" stroke="#1fa088" stroke-opacity="0.38"/><path d="M455.7 221.0h0M450.6 220.2h0M445.0 215.1h0M305.9 215.7h0M294.8 222.3h0M290.1 222.5h0" stroke="#1fa088" stroke-opacity="0.38"/><path d="M460.1 224.0h0M455.6 223.0h0M450.6 216.2h0M445.0 217.1h0M306.0 217.7h0M300.1 217.9h0M290.2 224.5h0" stroke="#1fa088" stroke-opacity="0.38"/><path d="M463.8 234.8h0M460.0 232.0h0M455.6 225.0h0M450.6 224.1h0M300.2 225.8h0M294.9 226.3h0M286.2 231.8h0" stroke="#21a585" stroke-opacity="0.38"/><path d="M460.1 228.0h0M455.6 227.0h0M300.1 221.8h0M294.9 228.3h0M290.2 228.6h0M286.2 233.9h0" stroke="#21a585" stroke-opacity="0.38"/><path d="M463.8 232.8h0M460.0 230.0h0M455.6 229.0h0M450.6 222.2h0M300.1 223.8h0M294.8 224.3h0M290.2 230.6h0" stroke="#21a585" stroke-opacity="0.38"/><path d="M455.6 231.0h0M294.9 232.3h0M290.2 232.6h0M286.3 237.9h0" stroke="#25ac82" stroke-opacity="0.38"/><path d="M463.8 236.8h0M460.0 234.0h0M455.5 233.0h0M450.6 226.1h0M300.2 227.8h0M290.3 234.6h0M286.3 240.0h0" stroke="#25ac82" stroke-opacity="0.38"/><path d="M463.8 238.9h0M460.0 236.1h0M450.5 228.1h0M300.2 229.8h0M294.9 230.3h0M290.3 236.7h0M286.2 235.9h0" stroke="#25ac82" stroke-opacity="0.38"/><path d="M463.8 240.9h0M460.0 238.1h0M455.5 237.0h0M295.0 238.3h0M290.3 238.7h0M286.3 244.1h0" stroke="#2db27d" stroke-opacity="0.38"/><path d="M466.9 247.6h0M463.7 243.0h0M459.9 240.1h0M294.9 234.3h0M290.3 240.7h0M283.0 246.9h0" stroke="#2db27d" stroke-opacity="0.38"/><path d="M463.7 245.0h0M459.9 242.1h0M455.5 235.0h0M294.9 236.3h0M286.3 242.0h0M283.0 249.0h0" stroke="#2db27d" stroke-opacity="0.38"/><path d="M466.8 251.7h0M463.7 247.0h0M459.9 244.1h0M290.4 244.7h0M286.4 250.2h0M283.0 251.0h0" stroke="#35b779" stroke-opacity="0.38"/><path d="M466.8 253.7h0M463.7 249.1h0M459.9 246.1h0M455.5 239.0h0M295.0 240.3h0M290.4 246.7h0M286.3 246.1h0M283.1 253.1h0" stroke="#35b779" stroke-opacity="0.38"/><path d="M466.8 249.6h0M455.5 241.0h0M290.3 242.7h0M286.4 248.1h0" stroke="#35b779" stroke-opacity="0.38"/><path d="M466.7 257.8h0M463.6 253.1h0M459.8 250.2h0M290.4 250.8h0M283.1 257.2h0" stroke="#40bd72" stroke-opacity="0.38"/><path d="M469.2 262.3h0M463.6 255.2h0M286.4 252.2h0M283.1 259.3h0M280.5 262.7h0" stroke="#40bd72" stroke-opacity="0.38"/><path d="M466.8 255.8h0M463.6 251.1h0M459.9 248.2h0M290.4 248.8h0M286.4 254.2h0M283.1 255.2h0" stroke="#40bd72" stroke-opacity="0.38"/><path d="M469.2 266.4h0M466.7 264.0h0M463.6 259.2h0M286.4 256.3h0M283.2 263.4h0M280.6 266.8h0" stroke="#4cc26c" stroke-opacity="0.38"/><path d="M469.1 268.5h0M466.7 259.9h0M459.8 252.2h0M290.4 252.8h0M286.5 258.3h0" stroke="#4cc26c" stroke-opacity="0.38"/><path d="M469.2 264.4h0M466.7 262.0h0M463.6 257.2h0M459.8 254.2h0M290.4 254.8h0M286.5 260.3h0M283.1 261.3h0M280.5 264.7h0" stroke="#4cc26c" stroke-opacity="0.38"/><path d="M469.1 272.7h0M463.5 265.4h0M286.5 262.4h0M283.2 269.5h0M280.6 273.0h0" stroke="#5ac864" stroke-opacity="0.38"/><path d="M466.7 266.1h0M463.5 261.3h0M286.5 264.4h0M283.2 265.4h0M280.6 268.9h0" stroke="#5ac864" stroke-opacity="0.38"/><path d="M469.1 270.6h0M466.6 268.1h0M463.5 263.3h0M283.2 267.5h0M280.6 271.0h0" stroke="#5ac864" stroke-opacity="0.38"/><path d="M470.8 279.0h0M469.0 278.9h0M466.6 270.2h0M286.6 268.5h0M278.8 280.6h0" stroke="#67cc5c" stroke-opacity="0.38"/><path d="M470.8 281.1h0M469.1 274.7h0M466.6 272.2h0M463.5 267.4h0M283.3 271.6h0M280.7 275.1h0M278.8 282.7h0" stroke="#67cc5c" stroke-opacity="0.38"/><path d="M469.0 276.8h0M466.6 274.3h0M463.5 269.4h0M286.5 266.5h0M283.3 273.7h0M280.7 277.2h0M278.8 278.6h0" stroke="#67cc5c" stroke-opacity="0.38"/><path d="M470.8 285.3h0M466.6 276.3h0M283.3 275.7h0M280.7 279.3h0M278.9 286.9h0" stroke="#77d153" stroke-opacity="0.38"/><path d="M470.7 287.4h0M469.0 281.0h0M466.5 278.4h0M283.3 277.8h0M280.7 281.3h0" stroke="#77d153" stroke-opacity="0.38"/><path d="M470.8 283.2h0M469.0 283.0h0M283.3 279.8h0M280.7 283.4h0M278.8 284.8h0" stroke="#77d153" stroke-opacity="0.38"/><path d="M471.8 295.7h0M470.7 291.6h0M469.0 285.1h0M466.5 282.5h0M283.4 281.9h0M280.8 285.5h0M278.9 293.2h0" stroke="#89d548" stroke-opacity="0.38"/><path d="M471.7 297.8h0M468.9 287.2h0M466.5 284.6h0M283.4 283.9h0M280.8 287.6h0M278.9 289.0h0M277.8 294.5h0" stroke="#89d548" stroke-opacity="0.38"/><path d="M470.7 289.5h0M466.5 280.5h0M278.9 291.1h0M277.8 296.6h0" stroke="#89d548" stroke-opacity="0.38"/><path d="M471.7 302.0h0M470.6 297.9h0M468.9 291.3h0M280.8 291.7h0M277.8 298.7h0" stroke="#98d83e" stroke-opacity="0.38"/><path d="M470.7 293.7h0M468.9 293.4h0M280.9 293.8h0M279.0 295.3h0M277.8 300.8h0" stroke="#98d83e" stroke-opacity="0.38"/><path d="M471.7 299.9h0M470.6 295.8h0M468.9 289.3h0M280.8 289.6h0M279.0 297.4h0M277.9 302.9h0" stroke="#98d83e" stroke-opacity="0.38"/><path d="M468.8 297.6h0M280.9 298.0h0M279.0 299.5h0M277.9 305.0h0" stroke="#aadc32" stroke-opacity="0.38"/><path d="M472.0 312.3h0M471.7 304.1h0M470.6 300.0h0M279.0 301.6h0M277.9 307.2h0" stroke="#aadc32" stroke-opacity="0.38"/><path d="M471.6 306.3h0M470.6 302.1h0M468.8 295.5h0M280.9 295.9h0M279.0 303.7h0M277.5 311.2h0" stroke="#aadc32" stroke-opacity="0.38"/><path d="M471.9 316.6h0M471.6 308.4h0M470.6 304.2h0M279.1 305.8h0M278.0 311.4h0M277.6 313.4h0" stroke="#bade28" stroke-opacity="0.38"/><path d="M471.6 310.5h0M470.5 306.3h0M468.8 299.6h0M280.9 300.0h0M279.1 307.9h0M277.6 315.5h0" stroke="#bade28" stroke-opacity="0.38"/><path d="M472.0 314.4h0M471.6 312.6h0M470.5 308.4h0M277.9 309.3h0M277.6 317.7h0" stroke="#bade28" stroke-opacity="0.38"/><path d="M471.5 314.7h0M470.5 310.4h0M279.1 312.1h0M278.0 317.8h0M277.6 319.8h0" stroke="#cde11d" stroke-opacity="0.38"/><path d="M471.9 318.7h0M471.5 316.8h0M470.5 312.5h0M278.0 313.5h0M277.6 321.9h0" stroke="#cde11d" stroke-opacity="0.38"/><path d="M471.9 320.8h0M279.1 310.0h0M278.0 315.6h0" stroke="#cde11d" stroke-opacity="0.38"/><path d="M471.5 321.1h0M277.7 326.2h0" stroke="#dde318" stroke-opacity="0.38"/><path d="M279.2 314.2h0M278.0 319.9h0M277.7 328.4h0" stroke="#dde318" stroke-opacity="0.38"/><path d="M471.5 319.0h0M470.4 314.6h0M279.2 316.3h0M278.1 322.0h0M277.7 324.1h0" stroke="#dde318" stroke-opacity="0.38"/><path d="M278.1 324.1h0M277.8 332.6h0" stroke="#efe51c" stroke-opacity="0.38"/><path d="M278.1 326.2h0" stroke="#efe51c" stroke-opacity="0.38"/><path d="M278.1 328.3h0M277.7 330.5h0" stroke="#efe51c" stroke-opacity="0.38"/><path d="M278.2 330.5h0" stroke="#fde725" stroke-opacity="0.38"/><path d="M278.2 332.6h0" stroke="#fde725" stroke-opacity="0.38"/><path d="M277.6 315.0h0" stroke="#35b779" stroke-opacity="0.61"/><path d="M277.6 320.8h0" stroke="#40bd72" stroke-opacity="0.61"/><path d="M277.7 326.9h0" stroke="#4cc26c" stroke-opacity="0.61"/><path d="M278.0 329.9h0" stroke="#4cc26c" stroke-opacity="0.61"/><path d="M277.8 333.2h0" stroke="#5ac864" stroke-opacity="0.61"/><path d="M471.9 306.9h0" stroke="#aadc32" stroke-opacity="0.61"/><path d="M471.9 315.0h0" stroke="#bade28" stroke-opacity="0.61"/><path d="M471.9 314.8h0M471.9 312.6h0" stroke="#bade28" stroke-opacity="0.61"/><path d="M471.9 320.7h0M471.8 318.5h0" stroke="#cde11d" stroke-opacity="0.61"/><path d="M471.8 323.0h0" stroke="#cde11d" stroke-opacity="0.61"/><path d="M471.9 320.3h0" stroke="#cde11d" stroke-opacity="0.61"/><path d="M287.4 339.1h0M300.3 338.3h0M313.2 337.6h0M326.2 336.9h0M339.1 336.1h0M352.0 335.4h0M365.0 334.7h0M377.9 333.9h0M390.8 333.2h0M403.7 332.4h0M416.7 331.7h0M429.6 331.0h0M442.5 330.2h0M455.4 329.5h0M468.4 328.8h0M286.9 335.0h0M299.9 334.3h0M312.8 333.6h0M325.7 332.8h0M338.6 332.1h0M351.6 331.3h0M364.5 330.6h0M377.4 329.9h0M390.4 329.1h0M403.3 328.4h0M416.2 327.7h0M429.1 326.9h0M442.1 326.2h0M455.0 325.5h0M467.9 324.7h0M471.8 325.8h0" stroke="#dde318" stroke-opacity="0.61"/><path d="M291.7 338.8h0M304.6 338.1h0M317.6 337.4h0M330.5 336.6h0M343.4 335.9h0M356.3 335.1h0M369.3 334.4h0M382.2 333.7h0M395.1 332.9h0M408.0 332.2h0M421.0 331.5h0M433.9 330.7h0M446.8 330.0h0M459.8 329.3h0M472.7 328.5h0M291.2 334.8h0M304.2 334.0h0M317.1 333.3h0M330.0 332.6h0M343.0 331.8h0M355.9 331.1h0M368.8 330.4h0M381.7 329.6h0M394.7 328.9h0M407.6 328.2h0M420.5 327.4h0M433.5 326.7h0M446.4 325.9h0M459.3 325.2h0M472.2 324.5h0" stroke="#dde318" stroke-opacity="0.61"/><path d="M283.1 339.3h0M296.0 338.6h0M308.9 337.9h0M321.9 337.1h0M334.8 336.4h0M347.7 335.6h0M360.6 334.9h0M373.6 334.2h0M386.5 333.4h0M399.4 332.7h0M412.4 332.0h0M425.3 331.2h0M438.2 330.5h0M451.1 329.7h0M464.1 329.0h0M282.6 335.3h0M295.6 334.5h0M308.5 333.8h0M321.4 333.1h0M334.3 332.3h0M347.3 331.6h0M360.2 330.9h0M373.1 330.1h0M386.1 329.4h0M399.0 328.6h0M411.9 327.9h0M424.8 327.2h0M437.8 326.4h0M450.7 325.7h0M463.6 325.0h0M471.6 329.3h0" stroke="#dde318" stroke-opacity="0.61"/><path d="M471.5 331.5h0" stroke="#efe51c" stroke-opacity="0.61"/><path d="M471.8 331.4h0M471.8 326.8h0M471.7 324.5h0" stroke="#efe51c" stroke-opacity="0.61"/><path d="M471.7 329.1h0" stroke="#efe51c" stroke-opacity="0.61"/><path d="M471.5 334.9h0M471.7 335.5h0" stroke="#fde725" stroke-opacity="0.61"/><path d="M471.8 333.1h0M471.7 330.8h0" stroke="#fde725" stroke-opacity="0.61"/><path d="M294.3 346.8h0M307.2 346.1h0M320.1 345.4h0M333.0 344.6h0M346.0 343.9h0M358.9 343.1h0M371.8 342.4h0M384.8 341.7h0M397.7 340.9h0M410.6 340.2h0M423.5 339.5h0M436.5 338.7h0M449.4 338.0h0M462.3 337.3h0M284.1 343.3h0M297.0 342.6h0M309.9 341.9h0M322.9 341.1h0M335.8 340.4h0M348.7 339.7h0M361.6 338.9h0M374.6 338.2h0M387.5 337.4h0M400.4 336.7h0M413.4 336.0h0M426.3 335.2h0M439.2 334.5h0M452.1 333.8h0M465.1 333.0h0" stroke="#dde318" stroke-opacity="0.69"/><path d="M285.6 347.3h0M298.6 346.6h0M311.5 345.8h0M324.4 345.1h0M337.4 344.4h0M350.3 343.6h0M363.2 342.9h0M376.1 342.2h0M389.1 341.4h0M402.0 340.7h0M414.9 340.0h0M427.8 339.2h0M440.8 338.5h0M453.7 337.7h0M466.6 337.0h0M288.4 343.1h0M301.3 342.4h0M314.2 341.6h0M327.2 340.9h0M340.1 340.1h0M353.0 339.4h0M366.0 338.7h0M378.9 337.9h0M391.8 337.2h0M404.7 336.5h0M417.7 335.7h0M430.6 335.0h0M443.5 334.3h0M456.4 333.5h0M469.4 332.8h0" stroke="#dde318" stroke-opacity="0.69"/><path d="M289.9 347.1h0M302.9 346.3h0M315.8 345.6h0M328.7 344.9h0M341.7 344.1h0M354.6 343.4h0M367.5 342.7h0M380.4 341.9h0M393.4 341.2h0M406.3 340.4h0M419.2 339.7h0M432.2 339.0h0M445.1 338.2h0M458.0 337.5h0M470.9 336.8h0M292.7 342.8h0M305.6 342.1h0M318.6 341.4h0M331.5 340.6h0M344.4 339.9h0M357.3 339.2h0M370.3 338.4h0M383.2 337.7h0M396.1 337.0h0M409.0 336.2h0M422.0 335.5h0M434.9 334.7h0M447.8 334.0h0M460.8 333.3h0" stroke="#dde318" stroke-opacity="0.69"/><path d="M425.6 138.7h0" stroke="#433d84" stroke-opacity="0.38"/><path d="M418.0 136.8h0" stroke="#433d84" stroke-opacity="0.38"/><path d="M425.6 136.8h0M410.1 137.0h0" stroke="#433d84" stroke-opacity="0.38"/><path d="M432.7 145.1h0M418.0 140.6h0M410.1 138.9h0M401.9 137.7h0" stroke="#404588" stroke-opacity="0.38"/><path d="M425.6 140.7h0M418.0 142.6h0M410.1 140.8h0" stroke="#404588" stroke-opacity="0.38"/><path d="M425.6 142.6h0M418.0 138.7h0" stroke="#404588" stroke-opacity="0.38"/><path d="M432.6 150.9h0M425.5 144.5h0M418.0 146.4h0" stroke="#3d4d8a" stroke-opacity="0.38"/><path d="M432.7 147.0h0M425.5 146.4h0" stroke="#3d4d8a" stroke-opacity="0.38"/><path d="M432.7 148.9h0M425.5 148.4h0M418.0 144.5h0M410.1 142.7h0" stroke="#3d4d8a" stroke-opacity="0.38"/><path d="M439.3 157.4h0M425.5 150.3h0" stroke="#3a538b" stroke-opacity="0.38"/><path d="M439.3 153.5h0M432.6 152.8h0M425.5 152.2h0M418.0 148.3h0" stroke="#3a538b" stroke-opacity="0.38"/><path d="M439.3 155.4h0M432.6 154.8h0" stroke="#3a538b" stroke-opacity="0.38"/><path d="M432.6 156.7h0M311.9 161.3h0" stroke="#375b8d" stroke-opacity="0.38"/><path d="M439.3 159.3h0M432.6 158.6h0M326.2 154.3h0M318.9 157.6h0" stroke="#375b8d" stroke-opacity="0.38"/><path d="M445.4 164.0h0M439.3 161.3h0M425.5 154.2h0M318.9 159.5h0M305.5 164.6h0" stroke="#375b8d" stroke-opacity="0.38"/><path d="M445.4 165.9h0M439.3 163.3h0M432.6 162.5h0M318.9 161.5h0M312.0 167.1h0M305.5 166.5h0" stroke="#34618d" stroke-opacity="0.38"/><path d="M445.4 167.9h0M439.2 165.2h0M312.0 163.2h0M305.6 168.5h0" stroke="#34618d" stroke-opacity="0.38"/><path d="M439.2 167.2h0M432.6 160.6h0M312.0 165.2h0" stroke="#34618d" stroke-opacity="0.38"/><path d="M451.0 176.5h0M445.4 171.8h0M439.2 169.1h0M305.6 172.4h0" stroke="#31688e" stroke-opacity="0.38"/><path d="M445.4 173.8h0M439.2 171.1h0M312.0 169.1h0M305.6 174.4h0M299.7 174.3h0" stroke="#31688e" stroke-opacity="0.38"/><path d="M451.0 174.6h0M445.4 169.9h0M312.0 171.0h0M305.6 170.5h0M299.7 176.2h0" stroke="#31688e" stroke-opacity="0.38"/><path d="M445.3 177.7h0M305.6 178.3h0M299.7 178.2h0" stroke="#2e6e8e" stroke-opacity="0.38"/><path d="M451.0 178.5h0M299.8 180.2h0" stroke="#2e6e8e" stroke-opacity="0.38"/><path d="M451.0 180.5h0M445.3 175.8h0M305.6 176.4h0" stroke="#2e6e8e" stroke-opacity="0.38"/><path d="M456.0 189.0h0M450.9 182.5h0M299.8 184.2h0" stroke="#2b748e" stroke-opacity="0.38"/><path d="M450.9 184.5h0M445.3 179.7h0M305.7 180.3h0M299.8 186.2h0M294.5 186.3h0" stroke="#2b748e" stroke-opacity="0.38"/><path d="M456.0 187.0h0M450.9 186.5h0M445.3 181.7h0M299.8 182.2h0M294.5 188.3h0" stroke="#2b748e" stroke-opacity="0.38"/><path d="M450.9 188.4h0M299.8 190.1h0M294.5 190.3h0" stroke="#297b8e" stroke-opacity="0.38"/><path d="M455.9 191.0h0M450.9 190.4h0M294.5 192.3h0" stroke="#297b8e" stroke-opacity="0.38"/><path d="M455.9 193.0h0M299.8 188.1h0M294.6 194.3h0" stroke="#297b8e" stroke-opacity="0.38"/><path d="M460.3 201.8h0M455.9 195.0h0M294.6 196.3h0M289.9 202.4h0" stroke="#26818e" stroke-opacity="0.38"/><path d="M455.9 197.0h0M299.9 192.1h0M294.6 198.3h0" stroke="#26818e" stroke-opacity="0.38"/><path d="M460.3 199.7h0M455.9 199.0h0M450.9 192.4h0M289.9 200.3h0" stroke="#26818e" stroke-opacity="0.38"/><path d="M455.8 201.0h0M294.6 202.3h0" stroke="#24878e" stroke-opacity="0.38"/><path d="M460.3 203.8h0M455.8 203.0h0M294.7 204.3h0M290.0 204.4h0" stroke="#24878e" stroke-opacity="0.38"/><path d="M460.3 205.8h0M294.6 200.3h0M290.0 206.4h0" stroke="#24878e" stroke-opacity="0.38"/><path d="M460.3 207.8h0M290.0 208.4h0M286.0 213.5h0" stroke="#228d8d" stroke-opacity="0.38"/><path d="M464.0 212.4h0M460.2 209.8h0M290.0 210.4h0M286.0 215.5h0" stroke="#228d8d" stroke-opacity="0.38"/><path d="M464.0 214.4h0M460.2 211.8h0" stroke="#228d8d" stroke-opacity="0.38"/><path d="M464.0 216.5h0M460.2 213.9h0M290.1 214.5h0M286.1 219.6h0" stroke="#20938c" stroke-opacity="0.38"/><path d="M464.0 218.5h0M460.2 215.9h0M290.1 216.5h0" stroke="#20938c" stroke-opacity="0.38"/><path d="M464.0 220.6h0M290.0 212.4h0M286.0 217.6h0" stroke="#20938c" stroke-opacity="0.38"/><path d="M467.1 227.0h0M463.9 222.6h0" stroke="#1f998a" stroke-opacity="0.38"/><path d="M467.0 229.1h0M463.9 224.6h0M286.1 221.7h0M282.8 228.4h0" stroke="#1f998a" stroke-opacity="0.38"/><path d="M286.1 223.7h0" stroke="#1f998a" stroke-opacity="0.38"/><path d="M467.0 233.2h0M463.9 228.7h0M286.1 225.7h0M282.8 232.5h0" stroke="#1fa088" stroke-opacity="0.38"/><path d="M286.1 227.8h0" stroke="#1fa088" stroke-opacity="0.38"/><path d="M467.0 231.1h0M463.9 226.7h0M286.2 229.8h0M282.8 230.5h0" stroke="#1fa088" stroke-opacity="0.38"/><path d="M466.9 239.3h0M282.9 238.7h0M280.3 241.9h0" stroke="#21a585" stroke-opacity="0.38"/><path d="M467.0 235.2h0M463.9 230.7h0M282.9 234.6h0" stroke="#21a585" stroke-opacity="0.38"/><path d="M467.0 237.3h0M282.9 236.6h0" stroke="#21a585" stroke-opacity="0.38"/><path d="M469.4 247.7h0M280.4 248.1h0" stroke="#25ac82" stroke-opacity="0.38"/><path d="M469.4 243.6h0M466.9 241.4h0M282.9 240.8h0M280.3 244.0h0" stroke="#25ac82" stroke-opacity="0.38"/><path d="M469.4 245.7h0M466.9 243.5h0M283.0 242.8h0M280.3 246.1h0" stroke="#25ac82" stroke-opacity="0.38"/><path d="M466.9 245.5h0M283.0 244.9h0" stroke="#2db27d" stroke-opacity="0.38"/><path d="M469.3 249.8h0M280.4 250.2h0" stroke="#2db27d" stroke-opacity="0.38"/><path d="M469.3 251.9h0M280.4 252.3h0" stroke="#2db27d" stroke-opacity="0.38"/><path d="M471.0 260.1h0M469.3 254.0h0M280.4 254.4h0M278.6 261.8h0" stroke="#35b779" stroke-opacity="0.38"/><path d="M471.0 262.2h0M469.3 256.1h0M280.5 256.4h0M278.6 257.6h0" stroke="#35b779" stroke-opacity="0.38"/><path d="M471.1 258.0h0M469.2 258.1h0M278.6 259.7h0" stroke="#35b779" stroke-opacity="0.38"/><path d="M471.0 266.4h0M469.2 260.2h0M280.5 260.6h0" stroke="#40bd72" stroke-opacity="0.38"/><path d="M278.6 263.9h0" stroke="#40bd72" stroke-opacity="0.38"/><path d="M471.0 264.3h0M280.5 258.5h0M278.6 266.0h0" stroke="#40bd72" stroke-opacity="0.38"/><path d="M472.0 276.6h0M470.9 272.7h0M278.7 268.1h0" stroke="#4cc26c" stroke-opacity="0.38"/><path d="M470.9 268.5h0M278.7 270.2h0M277.6 275.4h0" stroke="#4cc26c" stroke-opacity="0.38"/><path d="M472.0 274.5h0M470.9 270.6h0M278.7 272.3h0" stroke="#4cc26c" stroke-opacity="0.38"/><path d="M278.7 274.4h0M277.6 279.6h0" stroke="#5ac864" stroke-opacity="0.38"/><path d="M471.9 278.7h0M470.9 274.8h0M278.8 276.5h0M277.6 281.8h0" stroke="#5ac864" stroke-opacity="0.38"/><path d="M471.9 280.9h0M470.8 276.9h0M277.6 277.5h0" stroke="#5ac864" stroke-opacity="0.38"/><path d="M472.2 290.9h0M471.9 283.0h0M277.7 286.0h0" stroke="#67cc5c" stroke-opacity="0.38"/><path d="M471.9 285.1h0" stroke="#67cc5c" stroke-opacity="0.38"/><path d="M471.8 287.2h0M277.7 283.9h0" stroke="#67cc5c" stroke-opacity="0.38"/><path d="M471.8 289.3h0M277.8 292.3h0M277.4 294.1h0" stroke="#77d153" stroke-opacity="0.38"/><path d="M472.2 293.0h0M471.8 291.4h0M277.7 288.1h0M277.4 296.3h0" stroke="#77d153" stroke-opacity="0.38"/><path d="M472.2 295.2h0M277.7 290.2h0M277.3 292.0h0" stroke="#77d153" stroke-opacity="0.38"/><path d="M472.1 297.3h0M277.4 300.6h0" stroke="#89d548" stroke-opacity="0.38"/><path d="M472.1 299.4h0" stroke="#89d548" stroke-opacity="0.38"/><path d="M472.1 301.6h0M471.8 293.6h0M277.4 298.4h0" stroke="#89d548" stroke-opacity="0.38"/><path d="M472.1 303.7h0M277.5 307.0h0" stroke="#98d83e" stroke-opacity="0.38"/><path d="M472.0 305.9h0M277.4 302.7h0" stroke="#98d83e" stroke-opacity="0.38"/><path d="M277.5 304.8h0" stroke="#98d83e" stroke-opacity="0.38"/><path d="M472.0 310.1h0" stroke="#aadc32" stroke-opacity="0.38"/><path d="M277.5 309.1h0" stroke="#aadc32" stroke-opacity="0.38"/><path d="M472.0 308.0h0" stroke="#aadc32" stroke-opacity="0.38"/><path d="M445.7 138.4h0" stroke="#453581" stroke-opacity="0.46"/><path d="M445.6 140.4h0M439.4 137.9h0" stroke="#453581" stroke-opacity="0.46"/><path d="M451.3 146.8h0M445.6 142.3h0M439.4 139.8h0M432.7 139.2h0" stroke="#433d84" stroke-opacity="0.46"/><path d="M445.6 144.3h0M439.4 141.8h0M432.7 141.2h0" stroke="#433d84" stroke-opacity="0.46"/><path d="M451.3 144.8h0M432.7 137.3h0" stroke="#433d84" stroke-opacity="0.46"/><path d="M445.6 148.2h0M439.4 145.7h0" stroke="#404588" stroke-opacity="0.46"/><path d="M451.2 148.8h0M439.4 147.6h0" stroke="#404588" stroke-opacity="0.46"/><path d="M451.2 150.8h0M445.6 146.3h0M439.4 143.7h0M432.7 143.1h0" stroke="#404588" stroke-opacity="0.46"/><path d="M456.2 159.0h0M451.2 152.7h0M445.5 154.1h0M439.3 151.5h0" stroke="#3d4d8a" stroke-opacity="0.46"/><path d="M451.2 154.7h0M445.6 150.2h0" stroke="#3d4d8a" stroke-opacity="0.46"/><path d="M456.3 157.0h0M451.2 156.7h0M445.5 152.2h0M439.4 149.6h0" stroke="#3d4d8a" stroke-opacity="0.46"/><path d="M451.1 158.7h0" stroke="#3a538b" stroke-opacity="0.46"/><path d="M456.2 161.0h0M451.1 160.7h0M445.5 156.1h0" stroke="#3a538b" stroke-opacity="0.46"/><path d="M456.2 163.0h0M445.5 158.1h0" stroke="#3a538b" stroke-opacity="0.46"/><path d="M460.6 171.5h0M456.2 165.0h0M451.1 164.6h0M445.5 160.0h0" stroke="#375b8d" stroke-opacity="0.46"/><path d="M456.2 167.0h0M451.1 166.6h0M445.5 162.0h0" stroke="#375b8d" stroke-opacity="0.46"/><path d="M460.6 169.5h0M456.1 169.0h0M451.1 162.7h0" stroke="#375b8d" stroke-opacity="0.46"/><path d="M456.1 171.0h0M451.0 170.6h0M294.4 172.3h0" stroke="#34618d" stroke-opacity="0.46"/><path d="M460.6 173.5h0M456.1 173.0h0M299.6 168.3h0M294.4 174.3h0" stroke="#34618d" stroke-opacity="0.46"/><path d="M460.6 175.5h0M451.1 168.6h0M299.7 170.3h0M289.7 176.1h0" stroke="#34618d" stroke-opacity="0.46"/><path d="M460.5 177.5h0M456.1 177.0h0M299.7 172.3h0M294.4 178.3h0M289.7 178.1h0M285.7 183.0h0" stroke="#31688e" stroke-opacity="0.46"/><path d="M464.4 181.9h0M460.5 179.6h0M456.1 179.0h0M451.0 172.6h0M289.7 180.2h0M285.7 185.0h0" stroke="#31688e" stroke-opacity="0.46"/><path d="M464.3 183.9h0M460.5 181.6h0M456.1 175.0h0M294.4 176.3h0M289.7 182.2h0" stroke="#31688e" stroke-opacity="0.46"/><path d="M464.3 185.9h0M460.5 183.6h0M456.0 183.0h0M294.5 184.3h0M289.8 184.2h0M285.8 189.1h0" stroke="#2e6e8e" stroke-opacity="0.46"/><path d="M464.3 188.0h0M460.5 185.6h0M294.4 180.3h0M289.8 186.2h0" stroke="#2e6e8e" stroke-opacity="0.46"/><path d="M464.3 190.0h0M456.0 181.0h0M294.4 182.3h0M285.7 187.0h0" stroke="#2e6e8e" stroke-opacity="0.46"/><path d="M467.4 196.2h0M464.2 192.0h0M460.4 189.7h0M289.8 190.2h0M285.8 195.2h0" stroke="#2b748e" stroke-opacity="0.46"/><path d="M467.4 198.2h0M464.2 194.1h0M460.4 191.7h0M456.0 185.0h0M289.8 192.3h0M285.8 191.1h0M282.5 197.6h0" stroke="#2b748e" stroke-opacity="0.46"/><path d="M460.4 187.6h0M289.8 188.2h0M285.8 193.1h0" stroke="#2b748e" stroke-opacity="0.46"/><path d="M467.3 202.3h0M464.2 198.2h0M460.4 195.7h0M289.9 196.3h0M282.5 201.7h0" stroke="#297b8e" stroke-opacity="0.46"/><path d="M464.2 200.2h0M285.8 197.2h0M282.5 203.8h0" stroke="#297b8e" stroke-opacity="0.46"/><path d="M467.4 200.3h0M464.2 196.1h0M460.4 193.7h0M289.9 194.3h0M285.9 199.3h0M282.5 199.6h0" stroke="#297b8e" stroke-opacity="0.46"/><path d="M467.3 208.5h0M464.1 204.3h0M285.9 201.3h0M282.6 207.9h0" stroke="#26818e" stroke-opacity="0.46"/><path d="M467.3 204.4h0M460.4 197.7h0M289.9 198.3h0M285.9 203.3h0" stroke="#26818e" stroke-opacity="0.46"/><path d="M467.3 206.4h0M464.1 202.2h0M285.9 205.4h0M282.6 205.8h0" stroke="#26818e" stroke-opacity="0.46"/><path d="M469.7 216.6h0M464.1 210.4h0M285.9 207.4h0M280.0 217.0h0" stroke="#24878e" stroke-opacity="0.46"/><path d="M469.7 212.5h0M467.2 210.6h0M464.1 206.3h0M286.0 209.4h0M282.6 209.9h0M280.0 212.8h0" stroke="#24878e" stroke-opacity="0.46"/><path d="M469.7 214.5h0M467.2 212.6h0M464.1 208.3h0M282.6 212.0h0M280.0 214.9h0" stroke="#24878e" stroke-opacity="0.46"/><path d="M467.2 214.7h0M282.7 214.0h0" stroke="#228d8d" stroke-opacity="0.46"/><path d="M469.7 218.7h0M467.2 216.7h0M282.7 216.1h0M280.1 219.1h0" stroke="#228d8d" stroke-opacity="0.46"/><path d="M469.6 220.8h0M467.2 218.8h0M286.0 211.5h0M282.7 218.1h0M280.1 221.1h0" stroke="#228d8d" stroke-opacity="0.46"/><path d="M471.4 228.7h0M469.6 222.8h0M467.1 220.8h0M282.7 220.2h0M280.1 223.2h0M278.3 230.3h0" stroke="#20938c" stroke-opacity="0.46"/><path d="M471.3 230.8h0M469.6 224.9h0M467.1 222.9h0M282.7 222.3h0M280.1 225.3h0" stroke="#20938c" stroke-opacity="0.46"/><path d="M471.4 226.6h0M469.6 227.0h0M280.1 227.4h0M278.2 228.2h0" stroke="#20938c" stroke-opacity="0.46"/><path d="M471.3 235.0h0M469.6 229.1h0M282.8 226.4h0M280.2 229.4h0" stroke="#1f998a" stroke-opacity="0.46"/><path d="M469.5 231.1h0M280.2 231.5h0M278.3 232.4h0" stroke="#1f998a" stroke-opacity="0.46"/><path d="M471.3 232.9h0M467.1 224.9h0M282.8 224.3h0M278.3 234.5h0" stroke="#1f998a" stroke-opacity="0.46"/><path d="M472.3 244.9h0M471.2 241.3h0M469.5 235.3h0M280.2 235.7h0M278.3 236.6h0" stroke="#1fa088" stroke-opacity="0.46"/><path d="M471.3 237.1h0M469.5 237.4h0M280.3 237.8h0M278.3 238.7h0M277.2 243.6h0" stroke="#1fa088" stroke-opacity="0.46"/><path d="M472.3 242.7h0M471.3 239.2h0M469.5 233.2h0M280.2 233.6h0M278.4 240.8h0" stroke="#1fa088" stroke-opacity="0.46"/><path d="M469.4 241.5h0M278.4 242.9h0M277.3 247.9h0" stroke="#21a585" stroke-opacity="0.46"/><path d="M472.3 247.0h0M471.2 243.4h0M278.4 245.0h0M277.3 250.0h0" stroke="#21a585" stroke-opacity="0.46"/><path d="M472.3 249.1h0M471.2 245.5h0M469.4 239.4h0M280.3 239.8h0M277.3 245.8h0" stroke="#21a585" stroke-opacity="0.46"/><path d="M472.5 258.8h0M472.2 251.2h0M471.2 247.6h0M278.5 249.2h0M277.3 254.2h0" stroke="#25ac82" stroke-opacity="0.46"/><path d="M472.2 253.3h0M471.1 249.7h0M278.5 251.3h0" stroke="#25ac82" stroke-opacity="0.46"/><path d="M472.2 255.4h0M471.1 251.7h0M278.4 247.1h0M277.3 252.1h0M277.0 259.9h0" stroke="#25ac82" stroke-opacity="0.46"/><path d="M472.5 265.2h0M472.2 257.6h0M471.1 253.8h0M278.5 255.5h0M277.4 260.6h0M277.0 262.1h0" stroke="#2db27d" stroke-opacity="0.46"/><path d="M472.5 261.0h0M472.1 259.7h0M471.1 255.9h0M277.4 256.4h0M277.0 264.2h0" stroke="#2db27d" stroke-opacity="0.46"/><path d="M472.5 263.1h0M278.5 253.4h0M277.4 258.5h0" stroke="#2db27d" stroke-opacity="0.46"/><path d="M472.1 263.9h0M277.1 268.5h0" stroke="#35b779" stroke-opacity="0.46"/><path d="M472.5 267.4h0M472.1 266.0h0M277.4 262.7h0" stroke="#35b779" stroke-opacity="0.46"/><path d="M472.4 269.5h0M472.1 261.8h0M277.5 264.8h0M277.1 266.3h0" stroke="#35b779" stroke-opacity="0.46"/><path d="M472.4 271.6h0M472.0 270.3h0M277.5 266.9h0M277.1 274.9h0" stroke="#40bd72" stroke-opacity="0.46"/><path d="M472.4 273.8h0M277.5 269.1h0M277.1 270.6h0" stroke="#40bd72" stroke-opacity="0.46"/><path d="M472.0 268.1h0M277.5 271.2h0M277.1 272.8h0" stroke="#40bd72" stroke-opacity="0.46"/><path d="M472.3 278.1h0M277.5 273.3h0" stroke="#4cc26c" stroke-opacity="0.46"/><path d="M472.3 280.2h0M472.0 272.4h0M277.2 277.0h0" stroke="#4cc26c" stroke-opacity="0.46"/><path d="M472.4 275.9h0M277.2 279.2h0" stroke="#4cc26c" stroke-opacity="0.46"/><path d="M472.3 284.5h0M277.2 281.3h0" stroke="#5ac864" stroke-opacity="0.46"/><path d="M277.2 283.4h0" stroke="#5ac864" stroke-opacity="0.46"/><path d="M472.3 282.3h0M277.3 285.6h0" stroke="#5ac864" stroke-opacity="0.46"/><path d="M277.3 287.7h0" stroke="#67cc5c" stroke-opacity="0.46"/><path d="M472.3 286.6h0M277.3 289.9h0" stroke="#67cc5c" stroke-opacity="0.46"/><path d="M472.2 288.8h0" stroke="#67cc5c" stroke-opacity="0.46"/><path d="M277.0 265.3h0" stroke="#24878e" stroke-opacity="0.69"/><path d="M277.1 269.6h0" stroke="#228d8d" stroke-opacity="0.69"/><path d="M277.4 276.7h0" stroke="#20938c" stroke-opacity="0.69"/><path d="M277.1 274.0h0M277.5 281.3h0" stroke="#20938c" stroke-opacity="0.69"/><path d="M277.2 278.6h0M277.5 286.1h0" stroke="#1f998a" stroke-opacity="0.69"/><path d="M277.2 283.3h0" stroke="#1f998a" stroke-opacity="0.69"/><path d="M278.4 289.5h0" stroke="#1f998a" stroke-opacity="0.69"/><path d="M278.5 294.5h0M280.7 298.7h0" stroke="#1fa088" stroke-opacity="0.69"/><path d="M277.6 291.0h0" stroke="#1fa088" stroke-opacity="0.69"/><path d="M277.3 288.2h0" stroke="#1fa088" stroke-opacity="0.69"/><path d="M277.3 293.2h0M472.5 259.0h0" stroke="#21a585" stroke-opacity="0.69"/><path d="M278.6 299.6h0M280.8 303.9h0M283.6 309.1h0" stroke="#21a585" stroke-opacity="0.69"/><path d="M277.6 296.0h0" stroke="#21a585" stroke-opacity="0.69"/><path d="M277.7 301.2h0" stroke="#25ac82" stroke-opacity="0.69"/><path d="M277.4 298.4h0M472.5 261.9h0M472.5 263.9h0" stroke="#25ac82" stroke-opacity="0.69"/><path d="M278.6 304.8h0M281.0 309.2h0M283.8 314.5h0" stroke="#25ac82" stroke-opacity="0.69"/><path d="M277.5 309.3h0M278.7 310.3h0M281.1 314.8h0M284.0 320.2h0M472.2 272.5h0M472.4 269.6h0" stroke="#2db27d" stroke-opacity="0.69"/><path d="M277.7 306.6h0M287.0 320.8h0" stroke="#2db27d" stroke-opacity="0.69"/><path d="M277.5 303.7h0M277.8 312.2h0M472.5 265.7h0M472.4 269.1h0" stroke="#2db27d" stroke-opacity="0.69"/><path d="M277.9 317.9h0M472.3 274.3h0" stroke="#35b779" stroke-opacity="0.69"/><path d="M278.8 315.9h0M281.3 320.5h0M284.2 326.0h0M291.1 334.1h0M472.2 276.5h0M472.4 273.6h0" stroke="#35b779" stroke-opacity="0.69"/><path d="M278.9 321.7h0M287.3 326.6h0M472.4 269.0h0" stroke="#35b779" stroke-opacity="0.69"/><path d="M278.9 327.7h0M287.6 332.5h0M471.9 281.7h0M472.4 274.4h0" stroke="#40bd72" stroke-opacity="0.69"/><path d="M277.9 323.8h0M295.4 343.1h0M472.3 279.8h0" stroke="#40bd72" stroke-opacity="0.69"/><path d="M281.4 326.3h0M284.4 332.0h0M291.4 340.2h0M471.6 284.4h0M472.3 277.7h0" stroke="#40bd72" stroke-opacity="0.69"/><path d="M281.5 332.4h0M284.6 338.1h0M291.8 346.5h0M471.6 288.7h0M472.3 281.9h0" stroke="#4cc26c" stroke-opacity="0.69"/><path d="M279.0 333.8h0M287.9 338.7h0" stroke="#4cc26c" stroke-opacity="0.69"/><path d="M295.8 349.5h0M472.1 284.9h0" stroke="#4cc26c" stroke-opacity="0.69"/><path d="M296.3 356.1h0M472.2 293.4h0M472.2 296.4h0M471.9 292.2h0M472.1 285.9h0" stroke="#5ac864" stroke-opacity="0.69"/><path d="M284.8 344.5h0M292.2 353.1h0M300.2 354.0h0M471.5 293.1h0M472.2 286.2h0M471.6 294.3h0M472.1 290.1h0" stroke="#5ac864" stroke-opacity="0.69"/><path d="M288.1 345.0h0" stroke="#5ac864" stroke-opacity="0.69"/><path d="M472.0 293.8h0" stroke="#67cc5c" stroke-opacity="0.69"/><path d="M305.7 366.4h0M472.2 297.9h0" stroke="#67cc5c" stroke-opacity="0.69"/><path d="M300.8 360.6h0M471.5 297.7h0M472.2 290.7h0" stroke="#67cc5c" stroke-opacity="0.69"/><path d="M472.7 304.1h0M471.5 302.4h0M472.2 295.3h0" stroke="#77d153" stroke-opacity="0.69"/><path d="M471.9 298.5h0M472.6 303.7h0M472.2 301.6h0M471.8 297.3h0M472.2 293.0h0M472.1 290.9h0" stroke="#77d153" stroke-opacity="0.69"/><path d="M472.2 302.6h0M471.5 299.5h0M472.1 295.2h0" stroke="#77d153" stroke-opacity="0.69"/><path d="M472.2 307.4h0M471.5 304.7h0M472.0 300.4h0" stroke="#89d548" stroke-opacity="0.69"/><path d="M473.1 312.1h0M472.7 308.9h0M471.4 307.2h0M472.1 300.0h0M473.0 311.1h0" stroke="#89d548" stroke-opacity="0.69"/><path d="M471.9 303.2h0M472.7 309.0h0M472.2 306.9h0M472.1 298.2h0M472.0 296.1h0" stroke="#89d548" stroke-opacity="0.69"/><path d="M473.4 322.3h0M471.8 308.2h0M472.2 312.3h0M472.1 303.6h0M472.0 301.4h0" stroke="#98d83e" stroke-opacity="0.69"/><path d="M472.2 312.3h0M473.3 318.7h0M471.4 310.2h0M472.0 305.8h0" stroke="#98d83e" stroke-opacity="0.69"/><path d="M472.8 313.8h0M471.3 312.2h0M472.0 304.9h0M473.1 316.6h0M471.7 308.0h0" stroke="#98d83e" stroke-opacity="0.69"/><path d="M472.8 318.9h0M471.3 317.3h0M472.0 309.9h0M473.2 322.3h0M472.7 320.2h0M471.7 313.6h0" stroke="#aadc32" stroke-opacity="0.69"/><path d="M473.6 327.6h0M473.5 326.6h0M472.1 318.0h0M472.0 309.1h0" stroke="#aadc32" stroke-opacity="0.69"/><path d="M473.3 322.2h0M471.4 315.8h0M471.9 311.4h0" stroke="#aadc32" stroke-opacity="0.69"/><path d="M473.4 327.4h0M471.3 321.6h0M471.9 317.1h0" stroke="#bade28" stroke-opacity="0.69"/><path d="M471.2 322.6h0M471.7 318.4h0M472.8 326.0h0M471.6 319.4h0" stroke="#bade28" stroke-opacity="0.69"/><path d="M472.1 322.6h0M472.1 323.8h0" stroke="#bade28" stroke-opacity="0.69"/><path d="M472.1 329.8h0" stroke="#cde11d" stroke-opacity="0.69"/><path d="M472.9 329.5h0M471.3 327.6h0" stroke="#cde11d" stroke-opacity="0.69"/><path d="M472.8 332.1h0M471.5 325.3h0" stroke="#cde11d" stroke-opacity="0.69"/><path d="M472.1 333.5h0" stroke="#dde318" stroke-opacity="0.69"/><path d="M471.2 328.0h0" stroke="#dde318" stroke-opacity="0.69"/><path d="M471.1 333.6h0" stroke="#efe51c" stroke-opacity="0.69"/><path d="M471.2 333.7h0" stroke="#efe51c" stroke-opacity="0.69"/><path d="M299.2 354.7h0M312.1 354.0h0M325.1 353.2h0M338.0 352.5h0M350.9 351.7h0M363.9 351.0h0M376.8 350.3h0M389.7 349.5h0M402.6 348.8h0M415.6 348.1h0M428.5 347.3h0M441.4 346.6h0M454.3 345.8h0M287.8 351.3h0M300.7 350.5h0M313.7 349.8h0M326.6 349.1h0M339.5 348.3h0M352.4 347.6h0M365.4 346.8h0M378.3 346.1h0M391.2 345.4h0M404.1 344.6h0M417.1 343.9h0M430.0 343.2h0M442.9 342.4h0M455.9 341.7h0M468.8 341.0h0" stroke="#dde318" stroke-opacity="0.77"/><path d="M290.6 355.2h0M303.5 354.4h0M316.4 353.7h0M329.4 353.0h0M342.3 352.2h0M355.2 351.5h0M368.2 350.8h0M381.1 350.0h0M394.0 349.3h0M406.9 348.5h0M419.9 347.8h0M432.8 347.1h0M445.7 346.3h0M458.7 345.6h0M292.1 351.0h0M305.0 350.3h0M318.0 349.6h0M330.9 348.8h0M343.8 348.1h0M356.7 347.3h0M369.7 346.6h0M382.6 345.9h0M395.5 345.1h0M408.5 344.4h0M421.4 343.7h0M434.3 342.9h0M447.2 342.2h0M460.2 341.4h0" stroke="#dde318" stroke-opacity="0.77"/><path d="M294.9 354.9h0M307.8 354.2h0M320.8 353.5h0M333.7 352.7h0M346.6 352.0h0M359.5 351.3h0M372.5 350.5h0M385.4 349.8h0M398.3 349.0h0M411.3 348.3h0M424.2 347.6h0M437.1 346.8h0M450.0 346.1h0M463.0 345.4h0M296.4 350.8h0M309.3 350.0h0M322.3 349.3h0M335.2 348.6h0M348.1 347.8h0M361.1 347.1h0M374.0 346.4h0M386.9 345.6h0M399.8 344.9h0M412.8 344.1h0M425.7 343.4h0M438.6 342.7h0M451.5 341.9h0M464.5 341.2h0" stroke="#dde318" stroke-opacity="0.77"/><path d="M307.9 366.4h0M320.8 365.7h0M307.0 362.4h0M319.9 361.7h0M332.9 360.9h0M345.8 360.2h0M358.7 359.4h0M371.6 358.7h0M384.6 358.0h0M397.5 357.2h0M410.4 356.5h0M423.4 355.8h0M436.3 355.0h0M449.2 354.3h0M294.1 359.1h0M307.0 358.3h0M319.9 357.6h0M332.9 356.8h0M345.8 356.1h0M358.7 355.4h0M371.7 354.6h0M384.6 353.9h0M397.5 353.2h0M410.4 352.4h0M423.4 351.7h0M436.3 350.9h0M449.2 350.2h0M462.2 349.5h0" stroke="#dde318" stroke-opacity="0.84"/><path d="M312.2 366.2h0M298.4 362.9h0M311.3 362.1h0M324.2 361.4h0M337.2 360.7h0M350.1 359.9h0M363.0 359.2h0M376.0 358.5h0M388.9 357.7h0M401.8 357.0h0M414.7 356.2h0M427.7 355.5h0M440.6 354.8h0M453.5 354.0h0M298.4 358.8h0M311.3 358.1h0M324.3 357.3h0M337.2 356.6h0M350.1 355.9h0M363.0 355.1h0M376.0 354.4h0M388.9 353.7h0M401.8 352.9h0M414.8 352.2h0M427.7 351.4h0M440.6 350.7h0M453.5 350.0h0" stroke="#dde318" stroke-opacity="0.84"/><path d="M303.6 366.7h0M316.5 365.9h0M302.7 362.6h0M315.6 361.9h0M328.5 361.2h0M341.5 360.4h0M354.4 359.7h0M367.3 359.0h0M380.3 358.2h0M393.2 357.5h0M406.1 356.7h0M419.0 356.0h0M432.0 355.3h0M444.9 354.5h0M457.8 353.8h0M302.7 358.6h0M315.6 357.8h0M328.6 357.1h0M341.5 356.4h0M354.4 355.6h0M367.3 354.9h0M380.3 354.1h0M393.2 353.4h0M406.1 352.7h0M419.1 351.9h0M432.0 351.2h0M444.9 350.5h0M457.8 349.7h0" stroke="#dde318" stroke-opacity="0.84"/><path d="M464.7 145.2h0" stroke="#472d7b" stroke-opacity="0.46"/><path d="M467.8 153.0h0M464.7 149.3h0M460.8 147.3h0M456.4 141.0h0M451.3 140.8h0" stroke="#453581" stroke-opacity="0.46"/><path d="M460.9 143.2h0M456.4 143.0h0" stroke="#453581" stroke-opacity="0.46"/><path d="M464.7 147.2h0M460.9 145.3h0M456.4 145.0h0M451.3 138.9h0" stroke="#453581" stroke-opacity="0.46"/><path d="M456.4 147.0h0" stroke="#433d84" stroke-opacity="0.46"/><path d="M467.8 155.1h0M464.7 151.3h0M460.8 149.3h0M456.3 149.0h0M451.3 142.8h0" stroke="#433d84" stroke-opacity="0.46"/><path d="M467.8 157.1h0M464.6 153.4h0M460.8 151.3h0" stroke="#433d84" stroke-opacity="0.46"/><path d="M467.8 159.2h0M464.6 155.4h0M460.8 153.3h0M456.3 153.0h0" stroke="#404588" stroke-opacity="0.46"/><path d="M467.8 161.2h0M464.6 157.4h0M460.8 155.4h0" stroke="#404588" stroke-opacity="0.46"/><path d="M464.6 159.5h0M460.7 157.4h0M456.3 151.0h0" stroke="#404588" stroke-opacity="0.46"/><path d="M470.2 166.8h0M467.7 165.3h0M464.6 161.5h0M460.7 159.4h0" stroke="#3d4d8a" stroke-opacity="0.46"/><path d="M470.2 168.9h0M467.7 167.4h0M464.5 163.5h0M460.7 161.4h0M456.3 155.0h0" stroke="#3d4d8a" stroke-opacity="0.46"/><path d="M470.2 170.9h0M467.7 163.3h0" stroke="#3d4d8a" stroke-opacity="0.46"/><path d="M470.1 173.0h0M467.7 171.5h0M464.5 167.6h0M460.7 165.4h0" stroke="#3a538b" stroke-opacity="0.46"/><path d="M470.1 175.1h0M464.5 169.6h0M460.6 167.5h0" stroke="#3a538b" stroke-opacity="0.46"/><path d="M467.7 169.4h0M464.5 165.6h0M460.7 163.4h0" stroke="#3a538b" stroke-opacity="0.46"/><path d="M471.8 184.7h0M470.1 179.2h0M467.6 177.7h0M464.4 173.7h0" stroke="#375b8d" stroke-opacity="0.46"/><path d="M470.1 181.3h0M467.6 173.6h0" stroke="#375b8d" stroke-opacity="0.46"/><path d="M471.9 182.6h0M470.1 177.2h0M467.6 175.6h0M464.5 171.7h0" stroke="#375b8d" stroke-opacity="0.46"/><path d="M470.0 185.5h0M464.4 179.8h0M282.3 183.2h0M279.7 185.9h0M277.8 186.3h0" stroke="#34618d" stroke-opacity="0.46"/><path d="M471.8 186.8h0M467.6 179.7h0M464.4 175.8h0M285.7 178.9h0M277.8 188.4h0" stroke="#34618d" stroke-opacity="0.46"/><path d="M471.8 188.9h0M470.0 183.4h0M467.5 181.8h0M464.4 177.8h0M282.3 181.1h0M279.7 183.8h0" stroke="#34618d" stroke-opacity="0.46"/><path d="M471.8 191.0h0M469.9 191.7h0M467.5 183.8h0M277.9 192.6h0M276.7 197.1h0" stroke="#31688e" stroke-opacity="0.46"/><path d="M471.7 193.0h0M470.0 187.5h0M467.5 185.9h0M282.3 185.3h0M279.7 187.9h0M277.9 194.7h0" stroke="#31688e" stroke-opacity="0.46"/><path d="M472.8 198.3h0M471.7 195.1h0M470.0 189.6h0M467.5 187.9h0M285.7 180.9h0M282.4 187.3h0M279.7 190.0h0M277.8 190.5h0" stroke="#31688e" stroke-opacity="0.46"/><path d="M472.8 200.4h0M471.7 197.2h0M467.5 190.0h0M282.4 189.4h0M279.8 192.1h0M277.9 198.9h0M276.8 203.4h0" stroke="#2e6e8e" stroke-opacity="0.46"/><path d="M472.8 202.5h0M471.7 199.3h0M469.9 193.8h0M467.4 192.1h0M282.4 191.4h0M279.8 194.2h0M276.8 199.2h0" stroke="#2e6e8e" stroke-opacity="0.46"/><path d="M469.9 195.8h0M282.4 193.5h0M279.8 196.2h0M277.9 196.8h0M276.8 201.3h0" stroke="#2e6e8e" stroke-opacity="0.46"/><path d="M472.7 206.7h0M471.6 203.5h0M469.9 197.9h0M282.5 195.5h0M279.8 198.3h0M278.0 205.2h0" stroke="#2b748e" stroke-opacity="0.46"/><path d="M472.7 208.9h0M469.9 200.0h0M279.9 200.4h0M277.9 201.0h0M276.8 205.5h0" stroke="#2b748e" stroke-opacity="0.46"/><path d="M472.7 204.6h0M471.7 201.4h0M469.8 202.1h0M467.4 194.1h0M278.0 203.1h0M276.8 207.7h0" stroke="#2b748e" stroke-opacity="0.46"/><path d="M473.0 213.9h0M472.6 213.1h0M471.6 209.8h0M469.8 204.2h0M279.9 204.5h0M276.9 209.8h0M276.5 217.2h0" stroke="#297b8e" stroke-opacity="0.46"/><path d="M473.0 216.1h0M471.6 205.6h0M469.8 206.2h0M279.9 206.6h0M278.0 207.3h0M276.9 211.9h0M276.5 212.9h0" stroke="#297b8e" stroke-opacity="0.46"/><path d="M472.7 211.0h0M471.6 207.7h0M279.9 202.5h0M278.0 209.4h0M276.9 214.0h0M276.5 215.0h0" stroke="#297b8e" stroke-opacity="0.46"/><path d="M473.0 220.3h0M469.7 210.4h0M280.0 210.8h0M278.1 211.5h0M276.9 216.1h0" stroke="#26818e" stroke-opacity="0.46"/><path d="M472.9 222.5h0M472.6 215.2h0M471.5 211.9h0M278.1 213.6h0M277.0 218.2h0M276.5 219.3h0" stroke="#26818e" stroke-opacity="0.46"/><path d="M473.0 218.2h0M472.6 217.3h0M471.5 214.0h0M469.8 208.3h0M279.9 208.7h0M278.1 215.7h0M276.6 221.4h0" stroke="#26818e" stroke-opacity="0.46"/><path d="M472.9 226.7h0M472.6 219.4h0M471.5 216.1h0M278.1 217.8h0M277.0 222.5h0M276.6 223.6h0" stroke="#24878e" stroke-opacity="0.46"/><path d="M472.6 221.6h0M471.5 218.2h0M278.1 219.9h0M277.0 224.6h0M276.6 225.7h0" stroke="#24878e" stroke-opacity="0.46"/><path d="M472.9 224.6h0M472.5 223.7h0M471.5 220.3h0M277.0 220.4h0M276.6 227.9h0" stroke="#24878e" stroke-opacity="0.46"/><path d="M472.8 233.2h0M472.5 225.8h0M471.4 222.4h0M278.2 224.0h0M277.1 228.8h0M276.7 230.0h0" stroke="#228d8d" stroke-opacity="0.46"/><path d="M472.9 228.9h0M472.5 227.9h0M471.4 224.5h0M278.2 226.1h0M276.7 232.1h0" stroke="#228d8d" stroke-opacity="0.46"/><path d="M472.8 231.0h0M278.2 221.9h0M277.0 226.7h0" stroke="#228d8d" stroke-opacity="0.46"/><path d="M472.4 232.2h0M276.7 236.4h0" stroke="#20938c" stroke-opacity="0.46"/><path d="M472.8 235.3h0M472.4 234.3h0M277.1 230.9h0M276.8 238.5h0" stroke="#20938c" stroke-opacity="0.46"/><path d="M472.8 237.4h0M472.5 230.0h0M277.1 233.1h0M276.7 234.3h0" stroke="#20938c" stroke-opacity="0.46"/><path d="M472.8 239.6h0M472.4 238.5h0M277.1 235.2h0M276.8 242.8h0" stroke="#1f998a" stroke-opacity="0.46"/><path d="M472.7 241.7h0M277.2 237.3h0" stroke="#1f998a" stroke-opacity="0.46"/><path d="M472.7 243.8h0M472.4 236.4h0M277.2 239.4h0M276.8 240.7h0" stroke="#1f998a" stroke-opacity="0.46"/><path d="M472.7 246.0h0M277.2 241.5h0M276.9 249.2h0" stroke="#1fa088" stroke-opacity="0.46"/><path d="M472.7 248.1h0M472.3 240.6h0M276.8 245.0h0" stroke="#1fa088" stroke-opacity="0.46"/><path d="M276.8 247.1h0" stroke="#1fa088" stroke-opacity="0.46"/><path d="M472.6 252.4h0" stroke="#21a585" stroke-opacity="0.46"/><path d="M472.6 254.5h0M276.9 251.4h0" stroke="#21a585" stroke-opacity="0.46"/><path d="M472.6 250.3h0M276.9 253.5h0" stroke="#21a585" stroke-opacity="0.46"/><path d="M276.9 255.7h0" stroke="#25ac82" stroke-opacity="0.46"/><path d="M277.0 257.8h0" stroke="#25ac82" stroke-opacity="0.46"/><path d="M472.6 256.7h0" stroke="#25ac82" stroke-opacity="0.46"/><path d="M467.9 146.8h0" stroke="#472d7b" stroke-opacity="0.53"/><path d="M467.9 148.9h0" stroke="#453581" stroke-opacity="0.53"/><path d="M467.9 150.9h0" stroke="#453581" stroke-opacity="0.53"/><path d="M470.3 160.6h0" stroke="#433d84" stroke-opacity="0.53"/><path d="M470.3 158.5h0" stroke="#433d84" stroke-opacity="0.53"/><path d="M470.3 162.6h0" stroke="#404588" stroke-opacity="0.53"/><path d="M470.2 164.7h0" stroke="#404588" stroke-opacity="0.53"/><path d="M472.0 174.2h0" stroke="#3d4d8a" stroke-opacity="0.53"/><path d="M471.9 178.4h0" stroke="#3a538b" stroke-opacity="0.53"/><path d="M471.9 176.3h0" stroke="#3a538b" stroke-opacity="0.53"/><path d="M471.9 180.5h0" stroke="#375b8d" stroke-opacity="0.53"/><path d="M276.7 190.7h0" stroke="#34618d" stroke-opacity="0.53"/><path d="M472.9 189.8h0M276.7 192.8h0" stroke="#34618d" stroke-opacity="0.53"/><path d="M472.9 191.9h0M276.6 188.6h0" stroke="#34618d" stroke-opacity="0.53"/><path d="M472.8 194.0h0" stroke="#31688e" stroke-opacity="0.53"/><path d="M472.8 196.2h0" stroke="#31688e" stroke-opacity="0.53"/><path d="M276.7 194.9h0" stroke="#31688e" stroke-opacity="0.53"/><path d="M276.4 204.3h0" stroke="#2e6e8e" stroke-opacity="0.53"/><path d="M276.4 206.5h0" stroke="#2e6e8e" stroke-opacity="0.53"/><path d="M473.1 205.4h0" stroke="#2e6e8e" stroke-opacity="0.53"/><path d="M473.1 207.5h0M276.5 210.7h0" stroke="#2b748e" stroke-opacity="0.53"/><path d="M473.1 209.6h0" stroke="#2b748e" stroke-opacity="0.53"/><path d="M473.1 211.8h0M276.4 208.6h0" stroke="#2b748e" stroke-opacity="0.53"/><path d="M277.0 257.1h0" stroke="#26818e" stroke-opacity="0.69"/><path d="M277.0 261.1h0M277.3 268.0h0" stroke="#24878e" stroke-opacity="0.69"/><path d="M277.4 272.3h0" stroke="#228d8d" stroke-opacity="0.69"/><path d="M278.3 280.1h0" stroke="#20938c" stroke-opacity="0.69"/><path d="M278.4 284.7h0" stroke="#1f998a" stroke-opacity="0.69"/><path d="M280.6 293.7h0M472.6 254.2h0" stroke="#1fa088" stroke-opacity="0.69"/><path d="M283.4 303.8h0M472.5 258.3h0" stroke="#21a585" stroke-opacity="0.69"/><path d="M286.8 315.2h0" stroke="#25ac82" stroke-opacity="0.69"/><path d="M472.4 264.0h0" stroke="#25ac82" stroke-opacity="0.69"/><path d="M472.2 268.6h0" stroke="#2db27d" stroke-opacity="0.69"/><path d="M290.7 328.1h0M295.0 336.9h0M471.7 276.1h0" stroke="#35b779" stroke-opacity="0.69"/><path d="M472.0 276.2h0" stroke="#35b779" stroke-opacity="0.69"/><path d="M471.9 284.3h0" stroke="#40bd72" stroke-opacity="0.69"/><path d="M471.7 280.2h0" stroke="#40bd72" stroke-opacity="0.69"/><path d="M299.7 347.5h0" stroke="#4cc26c" stroke-opacity="0.69"/><path d="M472.2 289.0h0" stroke="#4cc26c" stroke-opacity="0.69"/><path d="M305.1 359.6h0" stroke="#5ac864" stroke-opacity="0.69"/><path d="M472.7 299.4h0" stroke="#67cc5c" stroke-opacity="0.69"/><path d="M473.0 307.2h0M472.9 305.8h0" stroke="#77d153" stroke-opacity="0.69"/><path d="M473.3 317.2h0" stroke="#89d548" stroke-opacity="0.69"/><path d="M473.4 320.8h0" stroke="#98d83e" stroke-opacity="0.69"/><path d="M473.5 328.7h0" stroke="#aadc32" stroke-opacity="0.69"/><path d="M276.4 207.2h0" stroke="#3d4d8a" stroke-opacity="0.77"/><path d="M276.5 209.7h0" stroke="#3d4d8a" stroke-opacity="0.77"/><path d="M276.5 214.8h0" stroke="#3a538b" stroke-opacity="0.77"/><path d="M276.6 214.6h0" stroke="#3a538b" stroke-opacity="0.77"/><path d="M276.5 212.2h0M276.6 217.2h0" stroke="#3a538b" stroke-opacity="0.77"/><path d="M276.8 219.8h0M276.7 219.9h0M277.2 225.4h0" stroke="#375b8d" stroke-opacity="0.77"/><path d="M276.5 217.4h0M276.9 222.6h0M276.7 222.8h0" stroke="#375b8d" stroke-opacity="0.77"/><path d="M276.6 220.2h0" stroke="#375b8d" stroke-opacity="0.77"/><path d="M276.6 223.1h0M276.9 228.4h0M276.8 228.6h0M473.1 207.4h0M473.1 203.4h0" stroke="#34618d" stroke-opacity="0.77"/><path d="M276.6 226.0h0M277.2 228.3h0M473.1 206.2h0" stroke="#34618d" stroke-opacity="0.77"/><path d="M276.9 225.5h0M277.7 231.3h0M276.7 225.7h0M277.3 231.3h0" stroke="#34618d" stroke-opacity="0.77"/><path d="M276.7 232.2h0M277.7 234.4h0M277.3 234.4h0M278.6 237.6h0M473.0 212.8h0M473.0 212.2h0" stroke="#31688e" stroke-opacity="0.77"/><path d="M277.0 231.5h0M277.8 237.6h0M279.3 240.9h0M276.8 231.7h0M277.3 237.6h0M278.6 240.8h0M473.1 209.6h0" stroke="#31688e" stroke-opacity="0.77"/><path d="M276.7 229.0h0M277.0 234.6h0M276.8 234.9h0M473.0 211.9h0M473.1 209.2h0" stroke="#31688e" stroke-opacity="0.77"/><path d="M277.0 237.9h0M277.8 244.2h0M279.5 247.7h0M276.9 238.2h0M277.4 244.4h0M278.8 247.7h0M280.5 248.0h0M472.8 216.6h0M473.0 214.2h0" stroke="#2e6e8e" stroke-opacity="0.77"/><path d="M276.7 235.4h0M277.1 241.3h0M276.9 241.6h0M472.8 219.0h0M473.0 216.6h0M472.9 216.0h0M473.0 215.3h0" stroke="#2e6e8e" stroke-opacity="0.77"/><path d="M276.8 238.7h0M277.8 240.8h0M279.4 244.3h0M277.4 241.0h0M278.7 244.2h0M472.9 219.2h0" stroke="#2e6e8e" stroke-opacity="0.77"/><path d="M276.8 242.2h0M277.1 248.3h0M281.5 251.8h0M472.2 226.9h0M472.7 224.0h0M472.9 221.6h0M472.9 222.5h0" stroke="#2b748e" stroke-opacity="0.77"/><path d="M276.8 245.7h0M277.9 247.7h0M279.6 251.3h0M281.7 255.4h0M277.4 247.9h0M278.8 251.2h0M280.6 251.5h0" stroke="#2b748e" stroke-opacity="0.77"/><path d="M277.1 244.7h0M277.9 251.3h0M279.6 254.9h0M276.9 245.1h0M280.8 255.1h0M472.7 221.5h0M473.0 219.0h0M472.5 224.3h0M473.0 218.6h0" stroke="#2b748e" stroke-opacity="0.77"/><path d="M276.9 253.2h0M278.0 255.1h0M279.7 258.7h0M281.9 263.0h0M472.5 227.8h0M472.9 222.0h0" stroke="#297b8e" stroke-opacity="0.77"/><path d="M277.2 252.0h0M278.0 258.9h0M284.4 264.0h0M472.2 229.6h0M472.7 226.7h0M472.9 224.2h0M472.8 226.0h0M472.9 225.5h0" stroke="#297b8e" stroke-opacity="0.77"/><path d="M276.9 249.4h0M277.2 255.8h0M281.8 259.1h0M472.7 229.4h0M472.9 226.8h0" stroke="#297b8e" stroke-opacity="0.77"/><path d="M277.3 259.7h0M284.7 272.0h0M472.2 235.9h0M472.2 235.2h0M472.6 232.2h0M472.9 229.6h0M472.2 237.5h0M472.7 233.4h0" stroke="#26818e" stroke-opacity="0.77"/><path d="M279.8 262.6h0M282.1 267.0h0M472.2 238.8h0M472.5 231.4h0" stroke="#26818e" stroke-opacity="0.77"/><path d="M278.1 262.9h0M279.9 266.7h0M284.5 268.0h0M472.2 232.3h0M472.2 233.7h0M472.4 235.2h0M472.8 229.6h0M472.9 229.1h0" stroke="#26818e" stroke-opacity="0.77"/><path d="M278.1 267.0h0M280.0 270.8h0M282.4 275.3h0M288.1 282.2h0M472.2 244.5h0M472.4 239.1h0M472.8 232.9h0" stroke="#24878e" stroke-opacity="0.77"/><path d="M277.3 263.8h0M278.2 271.2h0M284.9 276.3h0M472.1 238.1h0M472.6 235.0h0M472.8 232.4h0M472.2 241.4h0M472.7 237.3h0" stroke="#24878e" stroke-opacity="0.77"/><path d="M282.2 271.1h0M287.9 277.9h0M472.2 241.7h0M472.1 241.0h0M472.6 238.0h0M472.8 235.4h0" stroke="#24878e" stroke-opacity="0.77"/><path d="M285.3 285.1h0M291.7 289.3h0M472.2 244.8h0M472.1 244.1h0M472.5 241.0h0M472.8 238.4h0" stroke="#228d8d" stroke-opacity="0.77"/><path d="M280.1 275.1h0M282.5 279.7h0M288.4 286.7h0M472.2 246.3h0M472.2 247.9h0M472.5 244.1h0M472.7 241.4h0M472.2 248.6h0M472.3 243.1h0M472.8 236.9h0" stroke="#228d8d" stroke-opacity="0.77"/><path d="M278.3 275.6h0M280.3 279.5h0M285.1 280.6h0M472.2 249.5h0M472.1 245.5h0M472.7 241.3h0" stroke="#228d8d" stroke-opacity="0.77"/><path d="M280.4 284.1h0M282.9 288.9h0M295.9 297.6h0M472.0 255.3h0M472.2 252.7h0M472.1 249.7h0M472.6 245.5h0M472.7 245.2h0" stroke="#20938c" stroke-opacity="0.77"/><path d="M285.6 289.7h0M292.1 293.9h0M472.0 247.3h0" stroke="#20938c" stroke-opacity="0.77"/><path d="M282.7 284.2h0M288.6 291.3h0M472.2 251.2h0M472.0 250.5h0M472.5 247.3h0M472.7 244.6h0M472.1 252.8h0M472.3 252.9h0M472.3 247.3h0M472.7 241.0h0" stroke="#20938c" stroke-opacity="0.77"/><path d="M288.9 296.1h0M292.7 303.7h0M300.5 307.1h0M472.2 254.5h0M472.0 253.9h0M472.4 250.6h0M472.7 247.9h0M472.2 257.2h0M472.3 257.4h0M472.2 251.7h0" stroke="#1f998a" stroke-opacity="0.77"/><path d="M280.5 288.8h0M283.0 293.7h0M289.2 301.0h0M296.2 302.5h0M472.1 258.7h0M472.3 256.0h0M472.2 257.9h0M472.6 251.3h0M472.0 262.8h0M472.1 254.1h0M472.6 249.9h0M472.6 249.6h0" stroke="#1f998a" stroke-opacity="0.77"/><path d="M285.8 294.5h0M292.4 298.7h0M472.1 262.1h0M472.3 259.4h0" stroke="#1f998a" stroke-opacity="0.77"/><path d="M286.0 299.4h0M297.0 312.7h0M471.8 266.3h0M472.2 265.7h0M472.3 262.9h0" stroke="#1fa088" stroke-opacity="0.77"/><path d="M286.3 304.5h0M293.1 308.8h0M300.9 312.3h0M471.9 269.9h0M471.9 257.3h0M472.4 254.0h0M472.3 261.7h0M472.3 262.0h0M472.2 256.2h0" stroke="#1fa088" stroke-opacity="0.77"/><path d="M283.2 298.7h0M289.5 306.1h0M296.6 307.5h0M472.2 261.4h0M472.4 257.5h0M472.6 254.7h0M471.6 270.0h0M472.1 267.5h0M472.3 266.5h0M472.1 258.7h0M472.5 254.4h0" stroke="#1fa088" stroke-opacity="0.77"/><path d="M289.8 311.3h0M472.2 265.0h0M471.8 264.5h0M472.3 261.1h0M471.8 275.0h0M472.2 272.4h0M472.0 263.4h0M472.5 259.1h0" stroke="#21a585" stroke-opacity="0.77"/><path d="M297.4 318.1h0M471.5 275.8h0M472.3 269.3h0M472.4 266.5h0" stroke="#21a585" stroke-opacity="0.77"/><path d="M286.5 309.8h0M293.4 314.1h0M301.4 317.5h0M472.0 273.6h0M471.9 260.9h0M472.3 266.8h0M472.1 260.9h0" stroke="#21a585" stroke-opacity="0.77"/><path d="M293.8 319.5h0M301.8 323.0h0M314.3 328.0h0M470.9 283.8h0M472.1 277.4h0M472.4 276.9h0M471.2 279.4h0M472.4 271.4h0M472.3 271.8h0M472.1 265.8h0" stroke="#25ac82" stroke-opacity="0.77"/><path d="M290.1 316.8h0M302.3 328.6h0M472.2 268.7h0M471.8 268.3h0M472.3 264.8h0M472.0 280.1h0M472.0 268.3h0" stroke="#25ac82" stroke-opacity="0.77"/><path d="M297.9 323.6h0M310.3 327.5h0M471.6 279.7h0M472.4 273.1h0M472.4 274.1h0M472.2 272.6h0" stroke="#25ac82" stroke-opacity="0.77"/><path d="M298.3 329.3h0M310.9 333.2h0M472.5 278.0h0M472.2 276.5h0" stroke="#2db27d" stroke-opacity="0.77"/><path d="M294.2 325.1h0M471.1 287.9h0M472.5 280.9h0M471.4 284.6h0M472.4 282.7h0M472.5 276.5h0M472.0 270.9h0" stroke="#2db27d" stroke-opacity="0.77"/><path d="M290.4 322.3h0M302.9 334.4h0M471.8 272.1h0M472.1 285.4h0" stroke="#2db27d" stroke-opacity="0.77"/><path d="M303.4 340.4h0M470.8 291.3h0" stroke="#35b779" stroke-opacity="0.77"/><path d="M298.8 335.2h0M311.5 339.1h0M315.7 337.7h0M472.4 285.4h0M472.5 282.1h0M472.4 282.4h0" stroke="#35b779" stroke-opacity="0.77"/><path d="M294.6 330.9h0M319.4 339.2h0M470.4 294.3h0M471.3 292.0h0M472.6 285.0h0M472.5 281.8h0M471.9 278.8h0" stroke="#35b779" stroke-opacity="0.77"/><path d="M320.1 345.1h0M470.6 298.6h0M471.5 296.3h0M472.3 296.2h0M472.6 293.9h0M472.7 289.2h0M472.3 291.0h0" stroke="#40bd72" stroke-opacity="0.77"/><path d="M303.9 346.6h0M472.2 284.7h0M471.1 296.9h0" stroke="#40bd72" stroke-opacity="0.77"/><path d="M299.3 341.2h0M312.2 345.1h0M317.1 347.9h0M472.5 289.6h0M472.5 286.2h0M470.1 299.4h0M471.9 295.7h0M472.4 288.0h0" stroke="#40bd72" stroke-opacity="0.77"/><path d="M312.8 351.4h0M472.6 290.5h0" stroke="#4cc26c" stroke-opacity="0.77"/><path d="M320.8 351.3h0M469.8 305.2h0M470.9 303.0h0M471.8 300.7h0M472.4 300.7h0M472.7 298.3h0M472.7 293.5h0" stroke="#4cc26c" stroke-opacity="0.77"/><path d="M304.5 353.0h0" stroke="#4cc26c" stroke-opacity="0.77"/><path d="M318.6 358.7h0M471.5 310.4h0" stroke="#5ac864" stroke-opacity="0.77"/><path d="M313.5 357.8h0M472.6 294.9h0M470.7 312.3h0M472.8 304.6h0" stroke="#5ac864" stroke-opacity="0.77"/><path d="M321.5 357.7h0M468.9 313.4h0M470.1 309.7h0M471.2 307.6h0M472.0 305.2h0M472.6 305.2h0M472.9 302.8h0M472.8 297.9h0M472.6 306.6h0M472.9 302.6h0M472.8 300.6h0" stroke="#5ac864" stroke-opacity="0.77"/><path d="M322.3 364.3h0M468.0 323.9h0M470.4 314.4h0M471.4 312.2h0M472.2 309.9h0M472.8 309.9h0M473.0 307.5h0" stroke="#67cc5c" stroke-opacity="0.77"/><path d="M314.2 364.4h0M467.6 319.0h0" stroke="#67cc5c" stroke-opacity="0.77"/><path d="M314.9 371.3h0M469.6 323.0h0M472.8 311.9h0M473.0 307.8h0" stroke="#77d153" stroke-opacity="0.77"/><path d="M323.1 371.1h0M320.2 370.0h0M466.7 331.7h0M468.4 328.9h0M470.7 319.3h0M471.7 317.0h0M472.4 314.7h0M473.0 314.8h0M473.1 312.3h0M471.8 315.7h0" stroke="#77d153" stroke-opacity="0.77"/><path d="M471.0 317.6h0M472.4 313.8h0" stroke="#77d153" stroke-opacity="0.77"/><path d="M471.4 323.1h0" stroke="#89d548" stroke-opacity="0.77"/><path d="M465.1 337.5h0M470.0 328.1h0M473.0 317.3h0" stroke="#89d548" stroke-opacity="0.77"/><path d="M467.2 336.9h0M468.8 334.1h0M471.1 324.3h0M472.0 322.0h0M472.7 319.6h0M473.2 319.7h0M472.1 321.2h0M473.2 315.3h0" stroke="#89d548" stroke-opacity="0.77"/><path d="M467.7 342.3h0M471.4 329.4h0M472.3 327.1h0M472.9 324.7h0M473.4 324.8h0M472.4 326.9h0M472.9 324.9h0" stroke="#98d83e" stroke-opacity="0.77"/><path d="M463.4 346.0h0M471.7 328.8h0" stroke="#98d83e" stroke-opacity="0.77"/><path d="M465.6 342.9h0M470.4 333.3h0M473.2 322.9h0" stroke="#98d83e" stroke-opacity="0.77"/><path d="M469.3 339.4h0" stroke="#aadc32" stroke-opacity="0.77"/><path d="M471.7 334.6h0M472.6 332.3h0M473.1 329.9h0M472.7 332.7h0M473.2 330.7h0" stroke="#aadc32" stroke-opacity="0.77"/><path d="M472.1 334.6h0" stroke="#aadc32" stroke-opacity="0.77"/><path d="M333.8 364.9h0M346.7 364.2h0M359.6 363.5h0M372.6 362.7h0M385.5 362.0h0M398.4 361.3h0M411.3 360.5h0M424.3 359.8h0M437.2 359.0h0M450.1 358.3h0" stroke="#dde318" stroke-opacity="0.84"/><path d="M325.2 365.4h0M338.1 364.7h0M351.0 364.0h0M363.9 363.2h0M376.9 362.5h0M389.8 361.7h0M402.7 361.0h0M415.6 360.3h0M428.6 359.5h0M441.5 358.8h0" stroke="#dde318" stroke-opacity="0.84"/><path d="M329.5 365.2h0M342.4 364.4h0M355.3 363.7h0M368.2 363.0h0M381.2 362.2h0M394.1 361.5h0M407.0 360.8h0M420.0 360.0h0M432.9 359.3h0M445.8 358.5h0" stroke="#dde318" stroke-opacity="0.84"/><path d="M326.5 373.5h0M339.4 372.8h0M352.3 372.0h0M365.2 371.3h0M378.2 370.5h0M391.1 369.8h0M404.0 369.1h0M417.0 368.3h0M429.9 367.6h0M310.0 370.4h0M322.9 369.6h0M335.8 368.9h0M348.8 368.2h0M361.7 367.4h0M374.6 366.7h0M387.5 365.9h0M400.5 365.2h0M413.4 364.5h0M426.3 363.7h0M439.2 363.0h0" stroke="#dde318" stroke-opacity="0.92"/><path d="M317.8 374.0h0M330.8 373.2h0M343.7 372.5h0M356.6 371.8h0M369.6 371.0h0M382.5 370.3h0M395.4 369.6h0M408.3 368.8h0M421.3 368.1h0M434.2 367.4h0M314.3 370.1h0M327.2 369.4h0M340.1 368.6h0M353.1 367.9h0M366.0 367.2h0M378.9 366.4h0M391.8 365.7h0M404.8 365.0h0M417.7 364.2h0M430.6 363.5h0M443.6 362.7h0" stroke="#dde318" stroke-opacity="0.92"/><path d="M322.2 373.7h0M335.1 373.0h0M348.0 372.3h0M360.9 371.5h0M373.9 370.8h0M386.8 370.1h0M399.7 369.3h0M412.6 368.6h0M425.6 367.8h0M438.5 367.1h0M318.6 369.9h0M331.5 369.1h0M344.4 368.4h0M357.4 367.7h0M370.3 366.9h0M383.2 366.2h0M396.2 365.5h0M409.1 364.7h0M422.0 364.0h0M434.9 363.2h0" stroke="#dde318" stroke-opacity="0.92"/><path d="M346.3 380.5h0M359.2 379.8h0M372.1 379.0h0M385.1 378.3h0M398.0 377.6h0M410.9 376.8h0M336.5 377.0h0M349.5 376.3h0M362.4 375.5h0M375.3 374.8h0M388.2 374.0h0M401.2 373.3h0M414.1 372.6h0M427.0 371.8h0" stroke="#dde318" stroke-opacity="1.00"/><path d="M378.4 382.8h0M350.6 380.3h0M363.5 379.5h0M376.4 378.8h0M389.4 378.1h0M402.3 377.3h0M327.9 377.5h0M340.8 376.7h0M353.8 376.0h0M366.7 375.3h0M379.6 374.5h0M392.6 373.8h0M405.5 373.1h0M418.4 372.3h0" stroke="#dde318" stroke-opacity="1.00"/><path d="M342.0 380.8h0M354.9 380.0h0M367.8 379.3h0M380.8 378.5h0M393.7 377.8h0M406.6 377.1h0M332.2 377.2h0M345.2 376.5h0M358.1 375.8h0M371.0 375.0h0M383.9 374.3h0M396.9 373.6h0M409.8 372.8h0M422.7 372.1h0" stroke="#dde318" stroke-opacity="1.00"/><path d="M473.3 149.6h0" stroke="#482576" stroke-opacity="0.53"/><path d="M473.3 155.9h0M472.2 153.2h0M470.4 148.1h0" stroke="#472d7b" stroke-opacity="0.53"/><path d="M473.3 151.7h0M472.2 149.0h0M470.4 150.2h0" stroke="#472d7b" stroke-opacity="0.53"/><path d="M473.3 153.8h0M472.2 151.1h0" stroke="#472d7b" stroke-opacity="0.53"/><path d="M473.6 162.6h0M470.3 154.3h0" stroke="#453581" stroke-opacity="0.53"/><path d="M473.6 164.7h0M473.2 158.0h0M472.2 155.3h0" stroke="#453581" stroke-opacity="0.53"/><path d="M473.2 160.2h0M472.1 157.4h0M470.4 152.3h0" stroke="#453581" stroke-opacity="0.53"/><path d="M473.5 169.0h0M473.2 162.3h0M472.1 159.5h0" stroke="#433d84" stroke-opacity="0.53"/><path d="M473.2 164.4h0M472.1 161.6h0M470.3 156.4h0" stroke="#433d84" stroke-opacity="0.53"/><path d="M473.5 166.9h0M473.1 166.5h0M472.1 163.7h0" stroke="#433d84" stroke-opacity="0.53"/><path d="M473.4 175.4h0M473.1 168.6h0M472.0 165.8h0" stroke="#404588" stroke-opacity="0.53"/><path d="M473.5 171.1h0M473.1 170.7h0M472.0 167.9h0" stroke="#404588" stroke-opacity="0.53"/><path d="M473.5 173.3h0" stroke="#404588" stroke-opacity="0.53"/><path d="M473.1 175.0h0M472.0 172.1h0" stroke="#3d4d8a" stroke-opacity="0.53"/><path d="M473.4 177.6h0M473.0 177.1h0" stroke="#3d4d8a" stroke-opacity="0.53"/><path d="M473.4 179.7h0M473.1 172.9h0M472.0 170.0h0" stroke="#3d4d8a" stroke-opacity="0.53"/><path d="M473.4 181.8h0M473.0 181.3h0" stroke="#3a538b" stroke-opacity="0.53"/><path d="M473.3 184.0h0" stroke="#3a538b" stroke-opacity="0.53"/><path d="M473.0 179.2h0" stroke="#3a538b" stroke-opacity="0.53"/><path d="M473.3 188.3h0M472.9 187.7h0" stroke="#375b8d" stroke-opacity="0.53"/><path d="M473.3 190.4h0M473.0 183.5h0" stroke="#375b8d" stroke-opacity="0.53"/><path d="M473.3 186.1h0M472.9 185.6h0M276.2 189.4h0" stroke="#375b8d" stroke-opacity="0.53"/><path d="M473.2 194.7h0M276.3 191.5h0" stroke="#34618d" stroke-opacity="0.53"/><path d="M276.3 193.6h0" stroke="#34618d" stroke-opacity="0.53"/><path d="M473.3 192.5h0M276.3 195.8h0" stroke="#34618d" stroke-opacity="0.53"/><path d="M473.2 201.1h0M276.3 197.9h0" stroke="#31688e" stroke-opacity="0.53"/><path d="M473.2 196.8h0M276.3 200.1h0" stroke="#31688e" stroke-opacity="0.53"/><path d="M473.2 198.9h0" stroke="#31688e" stroke-opacity="0.53"/><path d="M473.1 203.2h0" stroke="#2e6e8e" stroke-opacity="0.53"/><path d="M276.4 202.2h0" stroke="#2e6e8e" stroke-opacity="0.53"/><path d="M276.3 196.1h0" stroke="#433d84" stroke-opacity="0.77"/><path d="M276.4 200.4h0M276.7 204.9h0M276.5 204.8h0M473.3 188.6h0" stroke="#404588" stroke-opacity="0.77"/><path d="M276.4 202.6h0M276.5 200.4h0" stroke="#404588" stroke-opacity="0.77"/><path d="M276.3 198.2h0M276.5 202.6h0" stroke="#404588" stroke-opacity="0.77"/><path d="M276.7 212.0h0" stroke="#3d4d8a" stroke-opacity="0.77"/><path d="M276.7 207.2h0M276.5 207.2h0M277.1 212.1h0M473.3 190.9h0" stroke="#3d4d8a" stroke-opacity="0.77"/><path d="M276.4 204.9h0M276.7 209.6h0M277.5 214.7h0M276.6 209.6h0M473.2 193.7h0M473.2 193.2h0" stroke="#3d4d8a" stroke-opacity="0.77"/><path d="M277.5 217.2h0M276.6 212.0h0M277.1 217.2h0M473.2 195.5h0M473.2 195.6h0" stroke="#3a538b" stroke-opacity="0.77"/><path d="M276.8 214.5h0M277.5 219.9h0M277.1 219.8h0M473.2 197.3h0M473.1 199.0h0M473.2 198.1h0" stroke="#3a538b" stroke-opacity="0.77"/><path d="M276.8 217.1h0M277.1 214.6h0M473.2 199.2h0" stroke="#3a538b" stroke-opacity="0.77"/><path d="M277.6 225.4h0M279.0 228.6h0M278.4 228.4h0M472.9 203.4h0M473.2 201.2h0M473.1 204.2h0" stroke="#375b8d" stroke-opacity="0.77"/><path d="M278.3 222.8h0M472.9 205.5h0M473.1 203.2h0" stroke="#375b8d" stroke-opacity="0.77"/><path d="M277.6 222.6h0M277.2 222.6h0M278.3 225.6h0M473.1 201.5h0M473.2 200.7h0" stroke="#375b8d" stroke-opacity="0.77"/><path d="M472.4 212.4h0M472.9 209.7h0M472.7 208.7h0" stroke="#34618d" stroke-opacity="0.77"/><path d="M277.6 228.3h0M279.1 231.6h0M278.4 231.4h0M472.7 211.6h0M473.0 207.0h0" stroke="#34618d" stroke-opacity="0.77"/><path d="M279.1 234.6h0M281.0 238.4h0M278.5 234.4h0M280.1 234.9h0M472.9 207.6h0M473.1 205.3h0M473.0 209.9h0" stroke="#34618d" stroke-opacity="0.77"/><path d="M279.2 237.7h0M281.2 241.6h0M280.2 238.0h0M282.5 245.4h0M472.3 216.8h0" stroke="#31688e" stroke-opacity="0.77"/><path d="M281.3 244.9h0M280.3 241.2h0M472.4 214.7h0M472.8 212.0h0" stroke="#31688e" stroke-opacity="0.77"/><path d="M472.3 217.0h0M472.8 214.2h0M472.6 214.6h0" stroke="#31688e" stroke-opacity="0.77"/><path d="M283.7 249.4h0M472.3 219.4h0M472.6 217.7h0" stroke="#2e6e8e" stroke-opacity="0.77"/><path d="M283.8 252.9h0M282.7 248.8h0M472.2 222.7h0M472.3 221.8h0M472.3 219.9h0M472.6 220.9h0" stroke="#2e6e8e" stroke-opacity="0.77"/><path d="M281.4 248.3h0M280.4 244.6h0M282.8 252.3h0M472.3 223.1h0" stroke="#2e6e8e" stroke-opacity="0.77"/><path d="M284.2 260.2h0M283.0 255.9h0M472.2 227.7h0M472.3 226.5h0" stroke="#2b748e" stroke-opacity="0.77"/><path d="M286.9 261.8h0M285.5 257.3h0M472.1 226.0h0" stroke="#2b748e" stroke-opacity="0.77"/><path d="M284.0 256.5h0M472.2 225.2h0M472.3 224.3h0M472.2 229.4h0" stroke="#2b748e" stroke-opacity="0.77"/><path d="M287.4 269.6h0M472.1 234.6h0M472.2 233.0h0" stroke="#297b8e" stroke-opacity="0.77"/><path d="M472.2 230.4h0M471.9 236.7h0M472.2 230.0h0" stroke="#297b8e" stroke-opacity="0.77"/><path d="M287.2 265.6h0M290.6 272.1h0M472.0 231.9h0M472.2 233.1h0" stroke="#297b8e" stroke-opacity="0.77"/><path d="M290.8 276.2h0" stroke="#26818e" stroke-opacity="0.77"/><path d="M287.6 273.7h0M472.1 237.4h0M472.2 236.7h0" stroke="#26818e" stroke-opacity="0.77"/><path d="M471.8 242.8h0M472.1 240.3h0M472.0 240.5h0" stroke="#26818e" stroke-opacity="0.77"/><path d="M294.8 283.9h0M471.8 245.8h0M472.1 243.3h0M471.6 245.6h0M472.0 244.5h0" stroke="#24878e" stroke-opacity="0.77"/><path d="M291.1 280.4h0M471.3 249.6h0" stroke="#24878e" stroke-opacity="0.77"/><path d="M291.4 284.8h0M472.2 240.5h0" stroke="#24878e" stroke-opacity="0.77"/><path d="M299.2 292.7h0" stroke="#228d8d" stroke-opacity="0.77"/><path d="M295.1 288.4h0M471.9 248.9h0M471.7 249.6h0M472.1 248.5h0" stroke="#228d8d" stroke-opacity="0.77"/><path d="M295.5 292.9h0M471.4 252.8h0M472.0 252.1h0M471.2 256.3h0M471.8 253.8h0" stroke="#228d8d" stroke-opacity="0.77"/><path d="M470.9 261.5h0M471.5 256.0h0M471.3 260.7h0M471.9 258.2h0" stroke="#20938c" stroke-opacity="0.77"/><path d="M299.6 297.4h0M471.6 259.3h0" stroke="#20938c" stroke-opacity="0.77"/><path d="M300.0 302.2h0" stroke="#20938c" stroke-opacity="0.77"/><path d="M470.6 264.8h0" stroke="#1f998a" stroke-opacity="0.77"/><path d="M311.8 310.1h0M471.1 264.9h0M471.5 265.3h0" stroke="#1f998a" stroke-opacity="0.77"/><path d="M470.2 268.8h0M471.7 262.7h0" stroke="#1f998a" stroke-opacity="0.77"/><path d="M309.2 316.7h0M470.4 272.4h0" stroke="#1fa088" stroke-opacity="0.77"/><path d="M470.8 269.5h0" stroke="#1fa088" stroke-opacity="0.77"/><path d="M308.6 311.5h0M471.2 268.4h0" stroke="#1fa088" stroke-opacity="0.77"/><path d="M471.3 272.1h0M470.0 275.6h0" stroke="#21a585" stroke-opacity="0.77"/><path d="M309.7 322.0h0M469.5 278.3h0M470.6 276.1h0" stroke="#21a585" stroke-opacity="0.77"/><path d="M313.0 318.8h0M471.0 274.3h0" stroke="#21a585" stroke-opacity="0.77"/><path d="M318.0 327.7h0M468.7 288.1h0M469.9 286.0h0M469.1 283.0h0" stroke="#25ac82" stroke-opacity="0.77"/><path d="M470.2 280.6h0" stroke="#25ac82" stroke-opacity="0.77"/><path d="M469.7 282.1h0M470.8 279.9h0" stroke="#25ac82" stroke-opacity="0.77"/><path d="M318.7 333.4h0M468.9 292.2h0M470.2 290.1h0" stroke="#2db27d" stroke-opacity="0.77"/><path d="M467.5 295.6h0M468.0 290.7h0M470.5 285.8h0" stroke="#2db27d" stroke-opacity="0.77"/><path d="M468.4 296.2h0" stroke="#35b779" stroke-opacity="0.77"/><path d="M469.7 293.7h0" stroke="#35b779" stroke-opacity="0.77"/><path d="M469.2 296.4h0M467.0 300.6h0" stroke="#35b779" stroke-opacity="0.77"/><path d="M466.4 305.1h0M468.2 304.2h0M469.5 300.7h0" stroke="#40bd72" stroke-opacity="0.77"/><path d="M468.8 302.0h0" stroke="#40bd72" stroke-opacity="0.77"/><path d="M468.5 308.7h0" stroke="#4cc26c" stroke-opacity="0.77"/><path d="M465.4 316.9h0M467.2 314.3h0" stroke="#5ac864" stroke-opacity="0.77"/><path d="M465.8 321.7h0" stroke="#5ac864" stroke-opacity="0.77"/><path d="M466.3 326.6h0" stroke="#67cc5c" stroke-opacity="0.77"/><path d="M461.7 330.2h0" stroke="#67cc5c" stroke-opacity="0.77"/><path d="M464.1 327.3h0" stroke="#67cc5c" stroke-opacity="0.77"/><path d="M354.0 370.4h0M459.4 337.9h0M464.6 332.3h0" stroke="#77d153" stroke-opacity="0.77"/><path d="M455.6 343.7h0" stroke="#77d153" stroke-opacity="0.77"/><path d="M462.2 335.3h0" stroke="#77d153" stroke-opacity="0.77"/><path d="M447.4 353.9h0M462.8 340.6h0" stroke="#89d548" stroke-opacity="0.77"/><path d="M460.0 343.2h0" stroke="#89d548" stroke-opacity="0.77"/><path d="M451.5 350.6h0M456.2 349.1h0" stroke="#89d548" stroke-opacity="0.77"/><path d="M452.2 356.2h0M456.9 354.7h0" stroke="#98d83e" stroke-opacity="0.77"/><path d="M354.9 377.2h0M448.0 359.6h0" stroke="#98d83e" stroke-opacity="0.77"/><path d="M443.7 363.0h0M460.7 348.7h0" stroke="#98d83e" stroke-opacity="0.77"/><path d="M367.7 382.5h0M374.6 381.8h0" stroke="#aadc32" stroke-opacity="0.77"/><path d="M473.6 163.5h0" stroke="#481c6e" stroke-opacity="0.84"/><path d="M473.6 161.1h0M473.5 164.7h0" stroke="#481c6e" stroke-opacity="0.84"/><path d="M473.5 165.6h0M473.6 162.2h0" stroke="#481c6e" stroke-opacity="0.84"/><path d="M473.5 166.6h0M473.5 169.7h0M473.5 167.4h0" stroke="#482576" stroke-opacity="0.84"/><path d="M473.5 167.6h0M473.5 170.8h0M473.4 170.0h0M473.5 168.8h0" stroke="#482576" stroke-opacity="0.84"/><path d="M473.5 168.6h0M473.4 171.5h0M473.5 166.1h0" stroke="#482576" stroke-opacity="0.84"/><path d="M473.2 175.2h0M473.5 173.1h0M473.4 173.0h0M473.5 171.9h0" stroke="#472d7b" stroke-opacity="0.84"/><path d="M473.2 176.4h0M473.4 174.4h0M473.4 174.6h0M473.5 173.5h0" stroke="#472d7b" stroke-opacity="0.84"/><path d="M473.2 177.6h0M473.5 172.0h0M473.4 175.6h0M473.4 176.2h0M473.5 170.3h0" stroke="#472d7b" stroke-opacity="0.84"/><path d="M473.2 178.9h0M473.4 176.9h0M473.0 181.4h0M473.3 177.9h0M473.4 176.8h0" stroke="#453581" stroke-opacity="0.84"/><path d="M473.2 180.3h0M473.4 178.2h0M473.0 183.2h0M473.3 179.7h0M473.4 178.6h0" stroke="#453581" stroke-opacity="0.84"/><path d="M277.8 197.3h0M473.2 181.6h0M473.4 179.6h0M473.0 179.6h0M473.4 175.1h0" stroke="#453581" stroke-opacity="0.84"/><path d="M276.6 198.4h0M277.2 196.9h0M278.3 199.7h0M276.4 198.3h0M276.9 196.6h0M277.8 199.3h0M472.7 185.3h0M473.2 183.0h0M473.4 180.9h0M472.9 187.1h0M473.3 183.4h0M473.4 182.4h0" stroke="#433d84" stroke-opacity="0.84"/><path d="M277.3 198.9h0M278.3 201.7h0M276.9 198.6h0M277.8 201.3h0M472.7 186.8h0M473.1 184.5h0M473.4 182.4h0M472.5 189.1h0M473.3 185.4h0" stroke="#433d84" stroke-opacity="0.84"/><path d="M276.6 196.4h0M277.3 200.9h0M278.4 203.8h0M276.4 196.2h0M276.9 200.7h0M277.9 203.4h0M279.2 204.3h0M472.6 188.3h0M473.1 186.0h0M473.3 183.9h0M472.9 185.1h0M473.3 181.5h0M473.4 180.5h0" stroke="#433d84" stroke-opacity="0.84"/><path d="M277.3 203.1h0M278.4 205.9h0M280.0 209.2h0M277.0 202.8h0M277.9 205.6h0M279.2 206.5h0M472.6 189.9h0M473.1 187.5h0M473.3 185.4h0M472.5 193.3h0M473.2 189.6h0" stroke="#404588" stroke-opacity="0.84"/><path d="M276.6 200.5h0M277.3 205.2h0M278.5 208.1h0M280.1 211.4h0M277.0 205.0h0M278.0 207.8h0M279.3 208.7h0M472.6 191.5h0M473.1 189.1h0M473.3 186.9h0M472.9 189.1h0M473.3 184.4h0" stroke="#404588" stroke-opacity="0.84"/><path d="M276.6 202.7h0M277.4 207.5h0M278.6 210.4h0M277.0 207.3h0M279.4 210.9h0M472.3 194.2h0M472.6 193.1h0M473.1 190.7h0M473.3 188.5h0M472.5 191.1h0M472.9 191.3h0M473.2 187.4h0M473.3 186.5h0" stroke="#404588" stroke-opacity="0.84"/><path d="M277.4 209.8h0M278.6 212.8h0M280.3 216.1h0M277.0 209.7h0M278.1 212.5h0M279.5 213.3h0M281.4 219.3h0M472.3 195.9h0M472.6 194.8h0M473.1 192.4h0M473.3 190.2h0M472.9 193.5h0" stroke="#3d4d8a" stroke-opacity="0.84"/><path d="M277.4 212.2h0M278.7 215.2h0M280.3 218.6h0M278.1 214.9h0M279.5 215.7h0M472.3 197.6h0M472.6 196.6h0M473.0 194.1h0M473.3 191.9h0M472.0 200.3h0M472.4 195.5h0M472.8 195.8h0M473.2 191.8h0" stroke="#3d4d8a" stroke-opacity="0.84"/><path d="M280.2 213.7h0M278.0 210.1h0M279.6 218.2h0M281.3 216.8h0M472.3 199.4h0M472.5 198.3h0M473.0 195.9h0M472.4 197.8h0M473.2 194.1h0" stroke="#3d4d8a" stroke-opacity="0.84"/><path d="M278.8 220.3h0M280.5 223.8h0M282.4 222.5h0M278.2 220.1h0M279.7 220.8h0M281.8 227.2h0M471.8 206.6h0M472.3 201.2h0M472.5 200.2h0M473.0 197.7h0M472.1 205.3h0M472.4 200.2h0M472.8 200.7h0M473.1 196.5h0" stroke="#3a538b" stroke-opacity="0.84"/><path d="M278.9 223.0h0M282.5 225.1h0M279.8 223.4h0M281.5 221.9h0M284.0 228.7h0M471.8 202.8h0M472.3 203.1h0M472.5 202.1h0M473.0 199.5h0M472.4 202.7h0" stroke="#3a538b" stroke-opacity="0.84"/><path d="M278.7 217.7h0M280.4 221.2h0M282.7 227.8h0M278.2 217.5h0M281.6 224.5h0M471.8 204.7h0M472.3 205.1h0M472.1 202.7h0M472.8 198.2h0" stroke="#3a538b" stroke-opacity="0.84"/><path d="M280.8 232.3h0M282.8 230.6h0M279.9 229.0h0M284.3 234.4h0M472.3 207.0h0M472.5 206.0h0M472.4 208.0h0" stroke="#375b8d" stroke-opacity="0.84"/><path d="M280.6 226.6h0M282.9 233.5h0M285.2 232.3h0M281.9 230.0h0M471.8 208.6h0M472.3 209.1h0M472.4 208.1h0M471.5 208.4h0M472.1 207.9h0M472.7 203.3h0" stroke="#375b8d" stroke-opacity="0.84"/><path d="M278.9 225.8h0M280.7 229.4h0M285.4 235.1h0M279.9 226.2h0M282.0 232.9h0M284.1 231.5h0M471.2 212.9h0M471.9 210.6h0M472.5 204.0h0M473.0 201.5h0M471.6 211.1h0M472.1 210.6h0M472.4 205.3h0M472.7 205.9h0" stroke="#375b8d" stroke-opacity="0.84"/><path d="M283.2 239.5h0M285.6 238.1h0M288.6 243.5h0M282.1 235.9h0M287.4 242.4h0M471.3 215.0h0M471.9 212.7h0M472.2 213.4h0M471.6 213.9h0M472.1 213.5h0" stroke="#34618d" stroke-opacity="0.84"/><path d="M280.9 235.3h0M285.7 241.2h0M280.0 231.9h0M282.2 239.0h0M284.5 237.4h0M471.3 217.2h0M471.9 214.9h0M470.9 218.0h0M471.6 216.8h0M472.3 210.8h0" stroke="#34618d" stroke-opacity="0.84"/><path d="M283.1 236.5h0M284.6 240.4h0M287.2 239.3h0M472.3 211.2h0M472.4 210.2h0M472.3 213.7h0" stroke="#34618d" stroke-opacity="0.84"/><path d="M286.1 247.6h0M284.8 243.6h0M290.7 248.4h0M470.6 222.7h0M471.4 221.8h0M471.9 219.4h0M470.2 226.4h0M471.1 224.2h0" stroke="#31688e" stroke-opacity="0.84"/><path d="M283.4 242.7h0M288.8 246.7h0M292.4 253.1h0M285.0 246.9h0M287.6 245.5h0M290.9 251.7h0M470.6 225.0h0M472.0 221.8h0M472.2 215.6h0M472.1 216.4h0" stroke="#31688e" stroke-opacity="0.84"/><path d="M283.5 246.0h0M285.9 244.4h0M289.1 250.0h0M282.4 242.2h0M287.8 248.8h0M471.3 219.5h0M471.9 217.1h0M472.2 217.9h0M471.0 221.1h0M471.7 219.8h0M472.1 219.5h0" stroke="#31688e" stroke-opacity="0.84"/><path d="M289.3 253.4h0M292.9 260.1h0M285.3 253.7h0M288.0 252.2h0M291.4 258.6h0M294.7 258.6h0M470.8 230.0h0M472.2 220.3h0M471.7 223.0h0M472.1 222.7h0" stroke="#2e6e8e" stroke-opacity="0.84"/><path d="M286.3 251.0h0M289.5 256.9h0M288.2 255.7h0M295.0 262.2h0M471.4 224.1h0M470.3 229.6h0M471.1 227.4h0M471.8 226.2h0" stroke="#2e6e8e" stroke-opacity="0.84"/><path d="M286.5 254.5h0M292.7 256.5h0M285.1 250.2h0M291.2 255.1h0M469.8 232.0h0M470.7 227.5h0M471.5 226.6h0M472.0 224.2h0" stroke="#2e6e8e" stroke-opacity="0.84"/><path d="M286.7 258.1h0M290.0 264.2h0M297.0 267.6h0M288.7 263.0h0M469.9 234.6h0M471.5 229.1h0M472.0 226.7h0M470.5 236.5h0M471.3 234.3h0" stroke="#2b748e" stroke-opacity="0.84"/><path d="M293.2 263.8h0M291.7 262.3h0M470.0 237.2h0M470.8 232.6h0M471.6 231.7h0M472.0 229.3h0" stroke="#2b748e" stroke-opacity="0.84"/><path d="M289.8 260.5h0M293.5 267.5h0M296.7 263.9h0M288.4 259.3h0M295.3 265.9h0M470.9 235.2h0M469.4 236.5h0M470.4 233.0h0M471.2 230.8h0M471.8 229.6h0" stroke="#2b748e" stroke-opacity="0.84"/><path d="M293.8 271.5h0M469.0 243.4h0M471.0 237.9h0M471.7 237.1h0M469.5 240.1h0M471.9 233.1h0" stroke="#297b8e" stroke-opacity="0.84"/><path d="M290.3 268.1h0M297.3 271.5h0M470.6 240.2h0M471.4 237.9h0" stroke="#297b8e" stroke-opacity="0.84"/><path d="M297.7 275.5h0M468.9 240.6h0M470.1 240.0h0M471.6 234.4h0M468.4 245.1h0" stroke="#297b8e" stroke-opacity="0.84"/><path d="M298.0 279.6h0M470.2 242.8h0M468.6 249.0h0" stroke="#26818e" stroke-opacity="0.84"/><path d="M294.1 275.5h0M469.1 246.2h0M470.3 245.7h0M471.1 240.7h0M471.7 239.9h0M469.7 243.9h0" stroke="#26818e" stroke-opacity="0.84"/><path d="M294.5 279.6h0M305.7 283.7h0M467.9 251.2h0M469.3 249.2h0M471.2 243.6h0M469.8 247.7h0M470.7 244.0h0M471.5 241.6h0" stroke="#26818e" stroke-opacity="0.84"/><path d="M306.2 288.0h0M468.1 254.3h0M469.4 252.2h0M470.5 251.7h0M471.2 246.6h0M467.4 255.2h0M470.0 251.8h0M470.9 247.9h0" stroke="#24878e" stroke-opacity="0.84"/><path d="M298.4 283.8h0M308.5 286.6h0M468.8 253.0h0" stroke="#24878e" stroke-opacity="0.84"/><path d="M298.8 288.2h0M470.4 248.7h0" stroke="#24878e" stroke-opacity="0.84"/><path d="M314.5 297.5h0M467.0 262.6h0" stroke="#228d8d" stroke-opacity="0.84"/><path d="M306.6 292.4h0M316.9 294.8h0M468.3 257.4h0M469.6 255.4h0M470.7 254.9h0M467.6 259.4h0M470.2 255.9h0M471.0 252.0h0" stroke="#228d8d" stroke-opacity="0.84"/><path d="M307.1 296.9h0M309.6 294.0h0M466.8 259.3h0M468.5 260.6h0M469.7 258.6h0M469.0 257.2h0" stroke="#228d8d" stroke-opacity="0.84"/><path d="M307.6 301.6h0M310.7 301.9h0M468.7 264.0h0M469.9 261.9h0M466.3 266.1h0M469.2 261.5h0" stroke="#20938c" stroke-opacity="0.84"/><path d="M315.0 302.2h0M467.2 265.9h0" stroke="#20938c" stroke-opacity="0.84"/><path d="M318.1 302.5h0M465.5 269.0h0M470.8 258.1h0M467.9 263.8h0M470.4 260.3h0" stroke="#20938c" stroke-opacity="0.84"/><path d="M464.9 274.5h0M468.2 268.3h0" stroke="#1f998a" stroke-opacity="0.84"/><path d="M308.1 306.5h0M468.9 267.4h0M470.1 265.3h0M466.6 270.6h0M469.5 266.0h0" stroke="#1f998a" stroke-opacity="0.84"/><path d="M315.6 307.0h0M464.1 277.0h0M467.4 269.4h0M469.1 270.9h0" stroke="#1f998a" stroke-opacity="0.84"/><path d="M316.2 311.9h0M464.4 280.7h0M466.1 276.0h0M467.9 276.6h0M469.3 274.5h0M461.3 286.5h0M463.2 279.8h0" stroke="#1fa088" stroke-opacity="0.84"/><path d="M316.8 317.0h0M462.3 283.1h0M466.3 279.7h0M465.3 279.3h0M468.5 273.0h0" stroke="#1fa088" stroke-opacity="0.84"/><path d="M467.0 275.4h0M469.7 270.7h0" stroke="#1fa088" stroke-opacity="0.84"/><path d="M463.0 290.8h0M467.3 280.3h0" stroke="#21a585" stroke-opacity="0.84"/><path d="M460.5 291.6h0M464.7 284.5h0M468.1 280.3h0M461.8 291.7h0" stroke="#21a585" stroke-opacity="0.84"/><path d="M317.4 322.3h0M462.6 286.9h0M465.0 288.4h0M466.6 283.5h0M465.7 284.3h0M468.8 277.9h0" stroke="#21a585" stroke-opacity="0.84"/><path d="M465.4 292.4h0M466.9 287.4h0M466.1 289.5h0" stroke="#25ac82" stroke-opacity="0.84"/><path d="M463.3 294.9h0M464.1 289.9h0M467.7 285.4h0" stroke="#25ac82" stroke-opacity="0.84"/><path d="M460.9 295.6h0M468.4 284.2h0M459.5 295.5h0M462.3 297.1h0" stroke="#25ac82" stroke-opacity="0.84"/><path d="M461.3 299.7h0M460.0 301.0h0" stroke="#2db27d" stroke-opacity="0.84"/><path d="M465.7 296.5h0M467.2 291.5h0M457.3 303.6h0M466.6 294.9h0" stroke="#2db27d" stroke-opacity="0.84"/><path d="M463.7 299.0h0M464.5 295.3h0" stroke="#2db27d" stroke-opacity="0.84"/><path d="M459.6 311.2h0M464.1 303.3h0M454.3 311.5h0M462.9 302.8h0M465.0 300.9h0" stroke="#35b779" stroke-opacity="0.84"/><path d="M452.3 314.1h0M461.7 304.0h0M460.6 306.7h0" stroke="#35b779" stroke-opacity="0.84"/><path d="M456.7 313.5h0M462.2 308.4h0M466.1 300.8h0M457.9 309.4h0" stroke="#35b779" stroke-opacity="0.84"/><path d="M448.6 324.8h0M457.2 318.1h0M462.6 312.9h0" stroke="#40bd72" stroke-opacity="0.84"/><path d="M444.4 327.8h0M460.1 315.7h0M463.4 308.6h0M465.5 306.7h0" stroke="#40bd72" stroke-opacity="0.84"/><path d="M350.9 345.3h0M448.0 320.1h0M452.8 318.7h0" stroke="#40bd72" stroke-opacity="0.84"/><path d="M351.6 351.3h0M440.6 335.8h0M453.3 323.4h0" stroke="#4cc26c" stroke-opacity="0.84"/><path d="M435.8 335.5h0M449.1 329.7h0M463.1 317.6h0" stroke="#4cc26c" stroke-opacity="0.84"/><path d="M431.4 340.3h0M445.0 332.7h0M460.6 320.4h0" stroke="#4cc26c" stroke-opacity="0.84"/><path d="M375.5 350.8h0M420.5 352.9h0M427.0 346.9h0M432.0 345.5h0M445.5 337.8h0M461.2 325.3h0" stroke="#5ac864" stroke-opacity="0.84"/><path d="M352.4 357.5h0M432.4 348.7h0M441.2 341.0h0M453.9 328.3h0M458.3 327.7h0" stroke="#5ac864" stroke-opacity="0.84"/><path d="M363.8 350.1h0M407.4 354.0h0M415.0 350.3h0M421.4 347.9h0M436.4 340.6h0M449.7 334.7h0M454.4 333.3h0" stroke="#5ac864" stroke-opacity="0.84"/><path d="M364.5 356.2h0M371.4 355.7h0M383.5 356.3h0M386.1 357.8h0M406.7 359.2h0M408.2 360.2h0M415.7 356.4h0M422.1 353.9h0M437.0 345.8h0M450.3 339.8h0M455.0 338.4h0" stroke="#67cc5c" stroke-opacity="0.84"/><path d="M394.1 358.9h0M401.1 356.0h0M427.6 355.3h0M427.7 352.9h0M432.7 350.9h0M446.1 343.0h0" stroke="#67cc5c" stroke-opacity="0.84"/><path d="M353.2 363.8h0M378.6 356.7h0M399.0 357.3h0M441.8 346.2h0M458.9 332.8h0" stroke="#67cc5c" stroke-opacity="0.84"/><path d="M379.4 363.0h0M442.4 351.7h0" stroke="#77d153" stroke-opacity="0.84"/><path d="M365.3 362.4h0M372.2 361.9h0M377.2 361.1h0M385.2 366.9h0M386.9 364.1h0M391.8 362.1h0M408.9 366.5h0M416.5 362.7h0M422.1 363.4h0M422.9 360.1h0M437.6 351.2h0M450.9 345.1h0" stroke="#77d153" stroke-opacity="0.84"/><path d="M394.9 365.3h0M401.8 362.2h0M413.8 362.1h0M428.4 359.1h0M434.0 359.0h0M433.3 356.4h0M446.7 348.4h0" stroke="#77d153" stroke-opacity="0.84"/><path d="M395.7 371.8h0M400.7 368.0h0M402.6 368.6h0M415.5 373.0h0M429.2 365.5h0M434.0 362.1h0" stroke="#89d548" stroke-opacity="0.84"/><path d="M380.2 369.4h0M408.4 370.0h0M443.1 357.3h0" stroke="#89d548" stroke-opacity="0.84"/><path d="M366.1 368.9h0M373.0 368.3h0M378.9 372.0h0M387.6 370.6h0M393.5 373.0h0M417.2 369.1h0M423.6 366.5h0M429.2 365.9h0M438.3 356.8h0" stroke="#89d548" stroke-opacity="0.84"/><path d="M366.9 375.6h0M373.8 375.0h0M388.4 377.3h0M418.0 375.8h0M424.4 373.2h0M438.9 362.5h0" stroke="#98d83e" stroke-opacity="0.84"/><path d="M396.5 378.5h0M402.4 379.2h0M403.4 375.2h0M434.7 367.9h0" stroke="#98d83e" stroke-opacity="0.84"/><path d="M381.0 376.1h0M386.9 378.1h0M409.7 373.1h0M423.8 374.4h0" stroke="#98d83e" stroke-opacity="0.84"/><path d="M381.8 383.0h0" stroke="#aadc32" stroke-opacity="0.84"/><path d="M473.7 149.8h0" stroke="#482576" stroke-opacity="0.53"/><path d="M473.7 151.9h0" stroke="#482576" stroke-opacity="0.53"/><path d="M473.7 154.0h0" stroke="#482576" stroke-opacity="0.53"/><path d="M473.6 156.2h0" stroke="#472d7b" stroke-opacity="0.53"/><path d="M473.6 158.3h0" stroke="#472d7b" stroke-opacity="0.53"/><path d="M473.6 160.5h0" stroke="#453581" stroke-opacity="0.53"/><path d="M473.0 152.7h0M473.0 154.3h0M473.5 152.4h0M473.3 152.9h0M473.6 152.8h0" stroke="#440154" stroke-opacity="0.84"/><path d="M473.0 153.2h0M473.0 154.9h0M473.5 151.4h0M473.5 153.0h0M473.7 151.2h0M473.3 151.5h0M473.3 153.6h0M473.6 151.3h0" stroke="#440154" stroke-opacity="0.84"/><path d="M473.0 153.8h0M473.0 155.5h0M473.5 151.9h0M473.5 153.6h0M473.7 151.8h0M473.3 152.2h0M473.3 154.4h0M473.6 152.0h0M473.7 150.6h0" stroke="#440154" stroke-opacity="0.84"/><path d="M473.0 156.1h0M473.0 158.0h0M472.9 160.1h0M473.5 154.2h0M473.4 156.1h0M473.4 158.2h0M473.7 152.4h0M473.7 154.3h0M473.6 156.3h0M472.7 158.7h0M473.3 155.2h0M473.2 157.8h0M473.6 155.3h0M473.7 151.4h0M473.7 153.9h0" stroke="#460a5d" stroke-opacity="0.84"/><path d="M473.0 156.7h0M473.0 158.7h0M473.5 154.8h0M473.4 156.8h0M473.7 153.0h0M473.7 154.9h0M472.7 159.6h0M473.2 156.1h0M473.2 158.7h0M473.6 153.6h0M473.6 156.2h0M473.7 152.2h0M473.7 154.8h0" stroke="#460a5d" stroke-opacity="0.84"/><path d="M473.0 157.4h0M472.9 159.4h0M473.4 155.5h0M473.4 157.5h0M473.7 153.6h0M473.6 155.6h0M472.7 157.8h0M472.7 160.5h0M473.2 156.9h0M473.6 154.4h0M473.6 157.1h0M473.7 153.1h0M473.6 155.8h0" stroke="#460a5d" stroke-opacity="0.84"/><path d="M472.3 163.8h0M472.3 166.3h0M472.9 162.4h0M472.9 164.9h0M473.4 160.4h0M473.4 162.9h0M473.6 158.6h0M473.6 161.0h0M471.9 167.8h0M472.6 161.5h0M472.6 164.7h0M473.2 160.7h0M473.2 164.0h0M473.6 158.1h0M473.5 161.2h0M473.6 156.8h0M473.6 159.9h0" stroke="#481467" stroke-opacity="0.84"/><path d="M472.3 162.3h0M472.3 164.6h0M472.9 160.9h0M472.9 163.2h0M473.4 158.9h0M473.4 161.2h0M473.6 157.1h0M473.6 159.4h0M472.6 162.5h0M472.6 165.8h0M473.2 161.8h0M473.5 159.1h0M473.5 162.3h0M473.6 157.8h0" stroke="#481467" stroke-opacity="0.84"/><path d="M472.3 163.0h0M472.3 165.4h0M472.9 161.7h0M472.9 164.1h0M473.4 159.7h0M473.4 162.1h0M473.6 157.8h0M473.6 160.2h0M471.9 166.7h0M472.6 163.6h0M473.2 159.7h0M473.2 162.8h0M473.5 160.1h0M473.6 158.8h0" stroke="#481467" stroke-opacity="0.84"/><path d="M471.5 172.5h0M472.3 169.0h0M472.9 167.7h0M473.3 165.6h0M473.6 163.7h0M471.9 171.5h0M472.6 168.2h0M473.1 167.6h0M473.5 164.7h0" stroke="#481c6e" stroke-opacity="0.84"/><path d="M471.5 173.5h0M472.3 167.2h0M472.3 169.9h0M472.9 165.8h0M472.9 168.6h0M473.4 163.8h0M473.3 166.5h0M473.6 161.9h0M473.5 164.6h0M471.9 169.0h0M472.6 169.5h0M473.1 165.1h0M473.1 168.9h0M473.5 165.9h0" stroke="#481c6e" stroke-opacity="0.84"/><path d="M471.5 171.5h0M472.3 168.1h0M472.3 170.9h0M472.9 166.7h0M472.8 169.6h0M473.3 164.7h0M473.3 167.5h0M473.6 162.8h0M471.9 170.2h0M472.6 167.0h0M472.6 170.8h0M473.1 166.4h0M473.5 163.5h0M473.5 167.3h0" stroke="#481c6e" stroke-opacity="0.84"/><path d="M471.5 175.6h0M472.3 171.9h0M472.3 175.1h0M472.8 170.6h0M472.8 173.8h0M473.3 168.5h0M473.3 171.7h0M471.1 176.7h0M471.9 175.7h0M472.6 172.1h0M473.1 171.7h0M473.4 168.6h0" stroke="#482576" stroke-opacity="0.84"/><path d="M471.5 176.7h0M472.3 172.9h0M472.3 176.2h0M472.8 171.7h0M473.3 169.5h0M473.3 172.8h0M471.1 178.2h0M471.9 172.9h0M472.0 177.2h0M472.6 173.6h0M473.1 173.2h0" stroke="#482576" stroke-opacity="0.84"/><path d="M471.5 174.5h0M471.6 177.8h0M472.3 174.0h0M472.8 172.7h0M473.3 170.6h0M471.9 174.2h0M472.6 175.0h0M473.1 170.3h0" stroke="#482576" stroke-opacity="0.84"/><path d="M470.6 180.9h0M470.7 184.6h0M471.6 179.0h0M471.6 182.6h0M472.3 178.6h0M472.8 177.4h0M471.1 181.3h0M472.0 180.3h0M472.6 176.6h0M473.0 176.3h0" stroke="#472d7b" stroke-opacity="0.84"/><path d="M470.6 182.1h0M471.6 180.2h0M472.3 179.8h0M472.8 175.0h0M472.7 178.6h0M471.2 182.9h0M472.0 182.0h0M472.5 178.2h0M473.0 177.9h0" stroke="#472d7b" stroke-opacity="0.84"/><path d="M470.7 183.4h0M471.6 181.4h0M472.3 177.4h0M472.3 181.1h0M472.8 176.2h0M473.3 174.0h0M471.1 179.7h0M472.0 178.7h0M472.5 179.8h0M473.0 174.7h0" stroke="#472d7b" stroke-opacity="0.84"/><path d="M281.5 202.2h0M283.5 202.0h0M280.6 199.6h0M285.0 205.0h0M469.6 189.8h0M470.8 188.7h0M471.6 186.7h0M472.3 182.4h0M472.7 181.2h0M470.2 187.8h0M471.2 186.4h0M472.0 185.6h0M472.5 181.5h0" stroke="#453581" stroke-opacity="0.84"/><path d="M279.6 198.9h0M283.6 203.9h0M280.7 201.6h0M282.5 201.2h0M469.7 191.3h0M470.7 185.9h0M471.6 183.9h0M472.3 183.7h0M472.7 182.5h0M470.2 189.6h0M471.2 188.3h0M472.5 183.3h0" stroke="#453581" stroke-opacity="0.84"/><path d="M278.2 197.7h0M281.4 200.3h0M279.0 198.3h0M282.6 203.1h0M470.7 187.3h0M471.6 185.3h0M472.3 185.1h0M472.7 179.9h0M472.7 183.9h0M470.1 186.0h0M471.2 184.6h0M472.0 183.8h0M472.5 185.2h0" stroke="#453581" stroke-opacity="0.84"/><path d="M279.8 202.8h0M281.8 208.3h0M283.8 207.9h0M286.5 212.1h0M279.1 200.3h0M280.8 205.6h0M282.8 205.1h0M285.4 211.1h0M469.7 194.2h0M470.8 193.1h0M471.7 191.0h0M472.3 186.5h0M469.1 195.5h0M470.3 193.5h0M471.3 192.2h0M472.0 191.4h0M472.5 187.1h0" stroke="#433d84" stroke-opacity="0.84"/><path d="M279.8 204.8h0M281.6 204.2h0M284.0 210.0h0M279.1 202.3h0M280.9 207.7h0M282.9 207.1h0M285.1 207.0h0M469.8 195.8h0M470.8 190.1h0M470.9 194.6h0M471.6 188.1h0M471.7 192.6h0M472.3 188.0h0M470.4 195.6h0M472.0 187.4h0" stroke="#433d84" stroke-opacity="0.84"/><path d="M279.7 200.8h0M281.7 206.2h0M283.7 205.9h0M286.4 210.0h0M280.8 203.5h0M283.0 209.2h0M285.2 209.0h0M469.7 192.7h0M470.8 191.6h0M471.7 189.5h0M472.3 189.5h0M470.3 191.5h0M471.3 190.2h0M472.0 189.4h0" stroke="#433d84" stroke-opacity="0.84"/><path d="M282.1 215.1h0M284.2 214.4h0M287.0 218.9h0M281.1 212.1h0M283.1 211.4h0M285.8 217.9h0M288.3 215.8h0M468.7 202.5h0M469.9 199.0h0M470.9 197.9h0M471.7 195.8h0M472.3 191.0h0M469.3 201.9h0M470.5 199.9h0M471.4 198.6h0" stroke="#404588" stroke-opacity="0.84"/><path d="M281.9 210.5h0M284.3 216.7h0M286.7 214.3h0M289.7 219.2h0M281.2 214.4h0M283.2 213.7h0M285.5 213.3h0M288.4 218.1h0M468.5 199.2h0M469.9 200.7h0M471.0 199.6h0M471.7 197.5h0M472.3 192.6h0M469.2 197.5h0M471.3 194.2h0M472.0 193.5h0" stroke="#404588" stroke-opacity="0.84"/><path d="M279.9 207.0h0M282.0 212.7h0M284.1 212.2h0M286.8 216.6h0M289.9 221.6h0M281.0 209.9h0M283.3 216.0h0M285.6 215.5h0M288.6 220.4h0M468.6 200.8h0M469.8 197.4h0M470.9 196.2h0M471.7 194.2h0M469.3 199.7h0M470.4 197.7h0M471.3 196.4h0M472.0 195.7h0" stroke="#404588" stroke-opacity="0.84"/><path d="M284.6 221.6h0M287.5 226.3h0M290.1 224.0h0M293.7 229.7h0M283.5 218.4h0M286.3 225.3h0M288.8 222.8h0M467.3 208.8h0M468.9 207.9h0M470.0 204.2h0M471.0 203.1h0M471.8 201.0h0M468.0 204.8h0M472.0 198.0h0" stroke="#3d4d8a" stroke-opacity="0.84"/><path d="M282.2 217.4h0M284.8 224.1h0M287.1 221.3h0M290.3 226.6h0M283.6 220.8h0M285.9 220.3h0M289.0 225.3h0M292.0 225.8h0M468.7 204.2h0M470.1 206.0h0M468.1 207.1h0M469.4 204.3h0M470.5 202.2h0M471.4 200.9h0" stroke="#3d4d8a" stroke-opacity="0.84"/><path d="M282.3 219.9h0M284.5 219.1h0M287.3 223.8h0M286.1 222.7h0M292.2 228.3h0M468.8 206.0h0M470.0 202.4h0M471.0 201.3h0M471.7 199.2h0M469.5 206.7h0M470.6 204.6h0M471.4 203.3h0" stroke="#3d4d8a" stroke-opacity="0.84"/><path d="M285.1 229.5h0M290.7 231.8h0M283.9 226.0h0M289.4 230.5h0M292.4 230.9h0M465.9 216.4h0M467.6 214.6h0M470.2 209.8h0M471.1 208.8h0M468.3 212.2h0M469.6 209.2h0M470.6 207.1h0M471.5 205.8h0" stroke="#3a538b" stroke-opacity="0.84"/><path d="M287.6 229.0h0M290.9 234.6h0M293.9 232.4h0M286.4 227.9h0M289.6 233.3h0M292.6 233.6h0M296.0 234.4h0M467.4 210.6h0M468.9 209.8h0M471.1 205.0h0M466.7 213.5h0M469.7 211.8h0M470.7 209.7h0" stroke="#3a538b" stroke-opacity="0.84"/><path d="M284.9 226.8h0M287.8 231.7h0M290.5 229.1h0M294.1 235.1h0M283.7 223.4h0M286.6 230.6h0M289.2 227.9h0M292.9 236.4h0M296.2 237.2h0M467.5 212.6h0M469.0 211.7h0M470.1 207.9h0M471.1 206.9h0M468.2 209.6h0" stroke="#3a538b" stroke-opacity="0.84"/><path d="M288.0 234.5h0M291.4 240.4h0M294.4 237.9h0M286.8 233.4h0M290.0 239.0h0M293.1 239.3h0M296.5 240.0h0M469.1 213.7h0M470.4 216.0h0M467.0 218.9h0M470.8 215.2h0" stroke="#375b8d" stroke-opacity="0.84"/><path d="M288.2 237.4h0M294.6 240.8h0M287.0 236.3h0M293.4 242.3h0M296.8 242.9h0M466.1 218.4h0M467.7 216.6h0M469.2 215.8h0M470.2 211.8h0M471.2 210.8h0M468.4 214.8h0" stroke="#375b8d" stroke-opacity="0.84"/><path d="M291.2 237.4h0M289.8 236.1h0M466.2 220.6h0M467.8 218.7h0M469.2 217.9h0M470.3 213.9h0M465.2 220.9h0M466.9 216.1h0M468.5 217.6h0M469.8 214.5h0M470.8 212.4h0" stroke="#375b8d" stroke-opacity="0.84"/><path d="M295.2 246.9h0M293.9 248.5h0M297.4 249.1h0M466.3 222.7h0M467.9 220.9h0M469.3 220.1h0M465.4 223.7h0M468.7 220.4h0M469.8 217.3h0" stroke="#34618d" stroke-opacity="0.84"/><path d="M291.6 243.4h0M295.5 250.1h0M290.2 242.1h0M302.0 247.6h0M303.4 249.4h0M466.4 225.0h0M468.0 223.1h0M469.4 222.3h0M470.4 218.2h0M465.6 226.7h0M467.1 221.8h0M468.8 223.4h0M469.9 220.2h0" stroke="#34618d" stroke-opacity="0.84"/><path d="M288.4 240.4h0M291.9 246.5h0M294.9 243.8h0M290.4 245.2h0M293.6 245.3h0M297.1 246.0h0M302.3 250.7h0M464.6 226.8h0M470.5 220.4h0M467.3 224.7h0" stroke="#34618d" stroke-opacity="0.84"/><path d="M292.1 249.8h0M296.0 256.8h0M302.6 253.9h0M464.7 229.1h0M466.7 229.6h0M468.3 227.7h0M469.6 227.0h0M463.9 231.9h0M467.5 227.8h0" stroke="#31688e" stroke-opacity="0.84"/><path d="M294.2 251.8h0M297.7 252.4h0M303.0 257.2h0M464.9 231.4h0" stroke="#31688e" stroke-opacity="0.84"/><path d="M295.7 253.4h0M294.4 255.1h0M298.0 255.7h0M304.1 254.8h0M462.9 234.0h0M466.6 227.3h0M468.1 225.4h0M469.5 224.6h0M465.8 229.8h0M468.9 226.5h0M470.0 223.2h0" stroke="#31688e" stroke-opacity="0.84"/><path d="M298.3 259.1h0M303.7 264.2h0M310.2 261.6h0M304.9 260.5h0M463.1 236.5h0M465.2 236.4h0M462.1 238.2h0M466.0 233.1h0M469.1 229.7h0" stroke="#2e6e8e" stroke-opacity="0.84"/><path d="M296.4 260.3h0M298.6 262.7h0M310.7 265.1h0M461.2 242.7h0M463.3 239.0h0M466.8 232.1h0M468.4 230.2h0M469.7 229.5h0M464.1 235.1h0M466.2 236.4h0M467.6 231.0h0M469.2 233.1h0" stroke="#2e6e8e" stroke-opacity="0.84"/><path d="M303.3 260.7h0M311.8 261.6h0M465.1 233.9h0M467.0 234.6h0M468.5 232.7h0M464.4 238.5h0M467.8 234.4h0" stroke="#2e6e8e" stroke-opacity="0.84"/><path d="M311.5 272.5h0M312.7 267.6h0M463.7 244.4h0M467.1 237.2h0M468.6 235.2h0M464.6 242.0h0M468.0 237.8h0" stroke="#2b748e" stroke-opacity="0.84"/><path d="M304.1 267.9h0M305.7 266.5h0M465.4 239.0h0M467.3 239.8h0M468.7 237.9h0M460.2 245.9h0M462.3 241.7h0" stroke="#2b748e" stroke-opacity="0.84"/><path d="M299.0 266.4h0M304.5 271.6h0M311.1 268.8h0M461.4 245.4h0M463.5 241.7h0M465.6 241.7h0M462.6 245.3h0M466.4 239.9h0" stroke="#2b748e" stroke-opacity="0.84"/><path d="M304.9 275.5h0M320.8 280.1h0M457.1 257.0h0M461.7 248.2h0M465.8 244.4h0M467.6 245.3h0M460.9 253.5h0M462.9 249.0h0M466.6 243.5h0" stroke="#297b8e" stroke-opacity="0.84"/><path d="M312.0 276.3h0M313.7 273.8h0M459.3 250.3h0M461.9 251.0h0M463.9 247.1h0M466.0 247.2h0M464.9 245.7h0M466.9 247.3h0M468.2 241.4h0" stroke="#297b8e" stroke-opacity="0.84"/><path d="M320.3 276.2h0M306.6 272.9h0M459.5 253.2h0M464.1 250.0h0M467.4 242.5h0M458.3 255.1h0M460.5 249.6h0M465.1 249.4h0" stroke="#297b8e" stroke-opacity="0.84"/><path d="M312.9 284.4h0M307.6 279.5h0M459.8 256.1h0M462.4 257.0h0M464.3 252.9h0M466.3 253.1h0M458.7 259.1h0M465.4 253.4h0" stroke="#26818e" stroke-opacity="0.84"/><path d="M305.3 279.5h0M321.3 284.1h0M457.4 260.0h0M460.1 259.2h0M467.8 248.2h0M461.2 257.4h0M463.2 252.8h0" stroke="#26818e" stroke-opacity="0.84"/><path d="M312.4 280.3h0M314.7 280.4h0M462.1 254.0h0M466.1 250.1h0M456.0 262.3h0M467.1 251.2h0" stroke="#26818e" stroke-opacity="0.84"/><path d="M322.4 292.5h0M315.8 287.4h0M455.1 268.7h0M458.0 266.3h0M456.5 266.5h0M463.9 261.0h0" stroke="#24878e" stroke-opacity="0.84"/><path d="M313.4 288.6h0M462.7 260.1h0M464.6 256.0h0M466.5 256.2h0M459.1 263.3h0M465.7 257.4h0" stroke="#24878e" stroke-opacity="0.84"/><path d="M321.8 288.2h0M454.7 265.4h0M457.7 263.1h0M460.4 262.3h0M464.8 259.1h0M461.6 261.6h0M463.5 256.8h0" stroke="#24878e" stroke-opacity="0.84"/><path d="M452.2 274.1h0M460.7 265.5h0M463.2 266.6h0M465.0 262.3h0M462.0 265.9h0" stroke="#228d8d" stroke-opacity="0.84"/><path d="M322.9 296.9h0M448.2 278.2h0M455.4 272.0h0M458.3 269.6h0M465.3 265.6h0M456.9 270.9h0M464.2 265.3h0" stroke="#228d8d" stroke-opacity="0.84"/><path d="M313.9 293.0h0M462.9 263.3h0M459.5 267.6h0M466.0 261.7h0" stroke="#228d8d" stroke-opacity="0.84"/><path d="M444.2 286.7h0M459.0 276.5h0M459.9 272.0h0" stroke="#20938c" stroke-opacity="0.84"/><path d="M452.6 277.5h0M461.3 272.2h0M463.5 270.0h0M454.4 277.8h0M460.4 276.7h0M462.3 270.3h0" stroke="#20938c" stroke-opacity="0.84"/><path d="M323.5 301.5h0M448.6 281.8h0M453.0 281.1h0M456.2 279.0h0M458.7 273.0h0M446.2 284.6h0M450.7 279.7h0M457.4 275.5h0M464.6 269.8h0" stroke="#20938c" stroke-opacity="0.84"/><path d="M324.1 306.2h0M436.0 295.6h0M449.0 285.4h0M453.4 284.8h0M461.9 279.4h0M438.2 294.7h0M446.8 289.5h0M451.3 284.6h0" stroke="#1f998a" stroke-opacity="0.84"/><path d="M449.4 289.2h0M459.4 280.1h0" stroke="#1f998a" stroke-opacity="0.84"/><path d="M461.6 275.7h0M442.3 289.6h0M460.9 281.5h0M462.7 275.0h0" stroke="#1f998a" stroke-opacity="0.84"/><path d="M432.1 303.5h0M440.8 297.0h0M457.0 286.4h0M460.1 287.6h0M442.9 294.7h0M458.4 285.1h0" stroke="#1fa088" stroke-opacity="0.84"/><path d="M359.1 312.5h0M445.1 294.3h0M453.8 288.5h0M457.4 290.2h0M433.9 298.7h0M438.9 300.0h0M447.4 294.7h0M451.8 289.5h0" stroke="#1fa088" stroke-opacity="0.84"/><path d="M449.9 293.1h0M454.3 292.4h0M459.7 283.8h0M434.6 304.1h0M455.5 287.5h0" stroke="#1fa088" stroke-opacity="0.84"/><path d="M423.2 314.6h0M426.9 312.6h0M427.6 307.6h0M450.3 297.0h0M454.7 296.4h0" stroke="#21a585" stroke-opacity="0.84"/><path d="M432.6 307.7h0M436.9 303.7h0M441.3 301.0h0M450.8 301.1h0M430.0 306.7h0M443.5 300.0h0M458.9 290.2h0" stroke="#21a585" stroke-opacity="0.84"/><path d="M359.7 317.4h0M366.7 317.1h0M377.7 319.0h0M411.2 317.7h0M414.9 316.2h0M417.6 315.6h0M422.7 309.8h0M437.4 307.9h0M441.8 305.2h0M445.6 298.3h0M457.8 294.2h0M439.5 305.5h0" stroke="#21a585" stroke-opacity="0.84"/><path d="M360.4 322.4h0M367.3 322.1h0M371.2 322.8h0M382.0 324.0h0M385.8 323.7h0M404.1 325.9h0M411.8 322.7h0M416.2 324.7h0M418.2 320.6h0M421.9 318.0h0M437.9 312.2h0M442.3 309.4h0M435.2 309.7h0M440.1 311.2h0M456.7 298.0h0" stroke="#25ac82" stroke-opacity="0.84"/><path d="M390.0 324.9h0M397.1 322.4h0M407.9 323.7h0M423.8 319.6h0M428.2 320.9h0M428.7 316.3h0" stroke="#25ac82" stroke-opacity="0.84"/><path d="M374.5 323.0h0M400.9 321.4h0M403.5 320.8h0M433.1 312.0h0M451.3 305.3h0M430.7 312.4h0M444.1 305.5h0M448.6 305.6h0" stroke="#25ac82" stroke-opacity="0.84"/><path d="M375.2 328.2h0M379.0 327.6h0M402.2 330.2h0M433.6 316.5h0M447.0 311.0h0M451.7 309.7h0M444.8 311.2h0M449.3 311.3h0" stroke="#2db27d" stroke-opacity="0.84"/><path d="M361.0 327.6h0M368.0 327.3h0M382.6 329.2h0M404.7 331.2h0M412.4 327.9h0M418.8 325.7h0M423.3 326.6h0M434.1 321.0h0M442.8 313.8h0M455.7 304.7h0M435.9 315.5h0M440.8 317.1h0" stroke="#2db27d" stroke-opacity="0.84"/><path d="M390.7 330.2h0M394.5 328.5h0M397.7 327.6h0M424.4 324.7h0M429.2 320.8h0M453.7 305.7h0" stroke="#2db27d" stroke-opacity="0.84"/><path d="M391.3 335.6h0M396.0 337.6h0M398.4 332.9h0M425.0 330.0h0" stroke="#35b779" stroke-opacity="0.84"/><path d="M372.5 331.7h0M375.8 333.5h0M380.5 336.7h0M387.2 332.6h0M417.5 333.6h0M438.9 321.3h0M447.5 315.5h0M445.5 317.2h0" stroke="#35b779" stroke-opacity="0.84"/><path d="M361.7 333.0h0M368.6 332.6h0M383.3 334.6h0M405.4 336.6h0M409.2 332.6h0M413.0 333.2h0M419.4 331.0h0M429.5 329.7h0M434.7 325.7h0M443.3 318.3h0" stroke="#35b779" stroke-opacity="0.84"/><path d="M362.3 338.5h0M369.3 338.1h0M384.0 340.1h0M406.0 342.2h0M410.7 341.9h0M413.7 338.8h0M420.1 336.5h0M430.3 330.3h0M435.2 330.5h0M443.8 323.0h0" stroke="#40bd72" stroke-opacity="0.84"/><path d="M392.0 341.1h0M399.0 338.4h0M403.6 339.3h0M425.7 335.5h0M430.9 335.2h0" stroke="#40bd72" stroke-opacity="0.84"/><path d="M374.0 341.0h0M376.5 339.1h0M388.7 341.9h0M419.0 343.0h0M424.6 335.6h0M439.5 326.0h0" stroke="#40bd72" stroke-opacity="0.84"/><path d="M377.2 344.7h0M426.1 345.2h0M430.9 338.9h0" stroke="#4cc26c" stroke-opacity="0.84"/><path d="M363.0 344.2h0M370.0 343.8h0M384.6 345.8h0M397.4 347.2h0M406.7 348.0h0M414.3 344.5h0M420.7 342.1h0" stroke="#4cc26c" stroke-opacity="0.84"/><path d="M382.0 346.2h0M392.7 346.9h0M399.7 344.1h0M405.1 349.0h0M426.3 341.1h0" stroke="#4cc26c" stroke-opacity="0.84"/><path d="M390.2 351.7h0M393.4 352.8h0M400.4 349.9h0" stroke="#5ac864" stroke-opacity="0.84"/><path d="M377.9 350.6h0M412.2 351.7h0" stroke="#5ac864" stroke-opacity="0.84"/><path d="M370.7 349.6h0M385.4 351.7h0" stroke="#5ac864" stroke-opacity="0.84"/><path d="M471.4 158.5h0M472.3 152.7h0M472.3 154.1h0M472.3 155.8h0M471.9 154.4h0M471.9 156.5h0M472.7 151.9h0M472.7 153.9h0M472.7 156.2h0" stroke="#440154" stroke-opacity="0.84"/><path d="M471.4 157.3h0M472.3 153.1h0M472.3 154.7h0M472.3 156.3h0M473.0 151.7h0M471.9 153.1h0M471.9 155.1h0M471.9 157.3h0M472.7 152.6h0M472.7 154.6h0" stroke="#440154" stroke-opacity="0.84"/><path d="M471.4 157.9h0M472.3 152.2h0M472.3 153.6h0M472.3 155.2h0M472.3 156.9h0M473.0 152.2h0M471.9 153.7h0M471.9 155.8h0M471.9 158.1h0M472.7 153.2h0M472.7 155.4h0" stroke="#440154" stroke-opacity="0.84"/><path d="M471.4 160.4h0M471.4 162.4h0M472.3 157.5h0M472.3 159.4h0M472.3 161.5h0M470.9 162.7h0M471.9 158.9h0M471.9 161.5h0" stroke="#460a5d" stroke-opacity="0.84"/><path d="M471.4 159.1h0M471.4 161.0h0M471.4 163.1h0M472.3 158.1h0M472.3 160.1h0M470.9 163.7h0M471.9 159.7h0M471.9 162.5h0M472.7 157.0h0" stroke="#460a5d" stroke-opacity="0.84"/><path d="M471.4 159.7h0M471.4 161.7h0M471.4 163.8h0M472.3 158.8h0M472.3 160.8h0M470.9 164.6h0M471.9 160.6h0" stroke="#460a5d" stroke-opacity="0.84"/><path d="M470.3 166.4h0M470.4 168.8h0M471.4 164.6h0M471.5 167.0h0M470.9 165.6h0M471.0 168.9h0M471.9 164.5h0" stroke="#481467" stroke-opacity="0.84"/><path d="M470.4 167.2h0M470.4 169.7h0M471.4 165.4h0M471.5 167.8h0M470.9 166.7h0M471.9 165.6h0" stroke="#481467" stroke-opacity="0.84"/><path d="M470.4 168.0h0M471.5 166.2h0M471.5 168.7h0M470.9 167.8h0M471.9 163.5h0" stroke="#481467" stroke-opacity="0.84"/><path d="M469.2 175.6h0M470.4 171.5h0M470.5 174.4h0M471.5 169.6h0M469.9 174.0h0M471.0 172.6h0" stroke="#481c6e" stroke-opacity="0.84"/><path d="M469.2 176.6h0M470.4 172.4h0M471.5 170.5h0M469.8 171.5h0M469.9 175.3h0M471.0 170.1h0M471.0 173.9h0" stroke="#481c6e" stroke-opacity="0.84"/><path d="M470.4 170.6h0M470.5 173.4h0M469.8 172.7h0M471.0 171.3h0" stroke="#481c6e" stroke-opacity="0.84"/><path d="M469.3 178.8h0M470.5 177.5h0M470.0 178.1h0" stroke="#482576" stroke-opacity="0.84"/><path d="M469.3 179.8h0M470.5 175.4h0M470.6 178.6h0M468.6 181.4h0M470.0 179.5h0" stroke="#482576" stroke-opacity="0.84"/><path d="M469.3 177.7h0M469.4 181.0h0M470.5 176.4h0M470.6 179.7h0M469.9 176.7h0M470.0 181.1h0M471.1 175.3h0" stroke="#482576" stroke-opacity="0.84"/><path d="M468.0 185.1h0M469.4 182.1h0M469.5 185.8h0M468.7 184.5h0M470.1 182.6h0" stroke="#472d7b" stroke-opacity="0.84"/><path d="M468.0 186.3h0M469.4 183.3h0M468.8 186.2h0M470.1 184.3h0" stroke="#472d7b" stroke-opacity="0.84"/><path d="M468.1 187.6h0M469.5 184.6h0M468.7 182.9h0" stroke="#472d7b" stroke-opacity="0.84"/><path d="M286.1 206.0h0M466.6 194.1h0M468.1 188.9h0M468.3 193.1h0M467.4 192.2h0M468.9 189.7h0" stroke="#453581" stroke-opacity="0.84"/><path d="M288.8 206.6h0M287.5 205.4h0M468.2 190.2h0M469.5 187.1h0M467.5 194.1h0M469.0 191.5h0" stroke="#453581" stroke-opacity="0.84"/><path d="M286.0 204.1h0M288.9 208.5h0M284.9 203.1h0M287.7 207.4h0M468.2 191.6h0M469.6 188.5h0M467.4 190.4h0M468.9 187.9h0" stroke="#453581" stroke-opacity="0.84"/><path d="M289.1 210.5h0M292.4 215.5h0M287.8 209.4h0M291.2 216.4h0M466.9 198.6h0M468.5 197.6h0M467.7 198.1h0" stroke="#433d84" stroke-opacity="0.84"/><path d="M286.2 208.0h0M289.2 212.6h0M288.0 211.5h0M290.8 212.1h0M466.7 195.5h0M466.9 200.1h0M468.3 194.5h0M466.0 199.5h0" stroke="#433d84" stroke-opacity="0.84"/><path d="M289.4 214.7h0M288.1 213.6h0M291.0 214.2h0M466.8 197.0h0M468.4 196.0h0M467.6 196.1h0M469.0 193.5h0" stroke="#433d84" stroke-opacity="0.84"/><path d="M289.6 217.0h0M293.0 222.3h0M291.8 223.3h0M295.0 224.2h0M465.3 205.2h0M467.1 203.4h0M466.2 203.8h0" stroke="#404588" stroke-opacity="0.84"/><path d="M292.6 217.7h0M291.4 218.6h0M467.8 200.3h0" stroke="#404588" stroke-opacity="0.84"/><path d="M292.8 219.9h0M291.6 220.9h0M294.8 221.8h0M465.2 203.5h0M467.0 201.8h0M466.1 201.6h0M467.9 202.5h0" stroke="#404588" stroke-opacity="0.84"/><path d="M465.6 210.6h0M464.4 208.0h0M466.6 210.9h0" stroke="#3d4d8a" stroke-opacity="0.84"/><path d="M293.2 224.7h0M295.3 226.6h0M463.6 212.3h0M465.4 206.9h0M467.2 205.2h0M464.6 210.4h0M466.3 206.1h0" stroke="#3d4d8a" stroke-opacity="0.84"/><path d="M293.4 227.2h0M295.5 229.1h0M465.5 208.7h0M467.3 206.9h0M466.4 208.5h0" stroke="#3d4d8a" stroke-opacity="0.84"/><path d="M295.7 231.7h0M300.7 236.0h0M463.9 216.1h0M464.9 215.4h0" stroke="#3a538b" stroke-opacity="0.84"/><path d="M301.0 238.8h0M301.3 234.8h0M464.0 218.1h0M465.7 212.5h0M462.9 217.3h0" stroke="#3a538b" stroke-opacity="0.84"/><path d="M300.5 233.4h0M302.0 239.4h0M463.8 214.2h0M465.8 214.4h0M464.7 212.8h0" stroke="#3a538b" stroke-opacity="0.84"/><path d="M301.6 244.5h0M302.6 244.3h0M462.1 222.6h0M464.3 222.3h0M463.2 222.8h0" stroke="#375b8d" stroke-opacity="0.84"/><path d="M462.2 224.7h0M465.1 218.1h0" stroke="#375b8d" stroke-opacity="0.84"/><path d="M301.3 241.6h0M461.9 220.5h0M464.2 220.2h0M461.1 225.7h0M463.0 220.0h0" stroke="#375b8d" stroke-opacity="0.84"/><path d="M309.1 251.8h0M310.1 250.6h0M462.6 229.2h0M459.0 232.5h0M461.3 228.6h0" stroke="#34618d" stroke-opacity="0.84"/><path d="M460.0 228.1h0M464.4 224.5h0M463.4 225.7h0" stroke="#34618d" stroke-opacity="0.84"/><path d="M308.7 248.7h0M460.2 230.3h0M462.4 227.0h0M463.7 228.7h0" stroke="#34618d" stroke-opacity="0.84"/><path d="M458.3 239.6h0M460.4 232.7h0" stroke="#31688e" stroke-opacity="0.84"/><path d="M309.5 255.0h0M311.0 256.0h0M460.6 235.1h0M462.7 231.6h0M456.9 240.6h0M459.3 235.7h0M461.6 231.7h0" stroke="#31688e" stroke-opacity="0.84"/><path d="M309.8 258.3h0M458.0 237.1h0M460.8 237.6h0M461.8 234.9h0" stroke="#31688e" stroke-opacity="0.84"/><path d="M320.1 261.9h0M461.0 240.1h0M459.9 242.4h0" stroke="#2e6e8e" stroke-opacity="0.84"/><path d="M318.5 261.8h0M321.0 267.7h0M455.7 243.0h0M458.5 242.1h0M454.4 246.9h0" stroke="#2e6e8e" stroke-opacity="0.84"/><path d="M318.9 265.2h0M455.9 245.7h0M458.8 244.8h0M457.3 244.0h0M459.6 239.0h0" stroke="#2e6e8e" stroke-opacity="0.84"/><path d="M319.4 268.7h0M453.1 250.5h0M456.2 248.4h0M459.0 247.5h0M457.6 247.6h0" stroke="#2b748e" stroke-opacity="0.84"/><path d="M319.8 272.4h0M453.4 253.3h0M456.5 251.2h0" stroke="#2b748e" stroke-opacity="0.84"/><path d="M454.8 250.5h0" stroke="#2b748e" stroke-opacity="0.84"/><path d="M450.7 261.2h0M454.1 259.2h0M455.2 254.3h0" stroke="#297b8e" stroke-opacity="0.84"/><path d="M452.1 256.4h0M455.6 258.2h0M458.0 251.3h0" stroke="#297b8e" stroke-opacity="0.84"/><path d="M450.4 258.2h0M453.8 256.2h0M456.8 254.0h0M448.7 262.2h0M452.5 260.4h0" stroke="#297b8e" stroke-opacity="0.84"/><path d="M446.7 265.0h0M449.2 266.3h0M453.0 264.5h0" stroke="#26818e" stroke-opacity="0.84"/><path d="M447.0 268.2h0M451.1 264.3h0M454.4 262.3h0M444.1 266.5h0" stroke="#26818e" stroke-opacity="0.84"/><path d="M438.7 278.4h0M443.0 276.0h0M440.7 275.3h0M445.1 275.2h0" stroke="#24878e" stroke-opacity="0.84"/><path d="M449.7 270.6h0" stroke="#24878e" stroke-opacity="0.84"/><path d="M447.4 271.4h0M451.4 267.4h0M444.6 270.8h0" stroke="#24878e" stroke-opacity="0.84"/><path d="M430.3 287.9h0M434.3 280.8h0M447.8 274.8h0M436.6 280.0h0" stroke="#228d8d" stroke-opacity="0.84"/><path d="M434.7 284.4h0M443.4 279.5h0M437.1 284.7h0M445.7 279.8h0" stroke="#228d8d" stroke-opacity="0.84"/><path d="M426.2 295.5h0" stroke="#20938c" stroke-opacity="0.84"/><path d="M357.5 298.7h0M424.6 297.2h0M439.5 285.5h0M428.2 290.9h0M441.7 284.6h0" stroke="#20938c" stroke-opacity="0.84"/><path d="M421.1 296.3h0M425.8 291.6h0M435.1 288.0h0M440.0 289.2h0M443.8 283.0h0M432.8 288.4h0M437.7 289.6h0" stroke="#20938c" stroke-opacity="0.84"/><path d="M358.6 307.8h0M365.5 307.5h0M398.4 305.3h0M416.5 306.1h0M421.6 300.7h0M433.3 293.4h0" stroke="#1f998a" stroke-opacity="0.84"/><path d="M368.6 306.5h0M372.2 303.8h0M383.3 307.4h0M395.4 307.9h0M419.5 302.1h0M426.7 299.4h0M431.2 295.5h0" stroke="#1f998a" stroke-opacity="0.84"/><path d="M358.0 303.2h0M365.0 303.0h0M372.8 308.4h0M401.8 306.4h0M405.4 307.4h0M409.5 303.5h0M416.0 301.6h0M431.6 299.5h0M428.8 296.0h0" stroke="#1f998a" stroke-opacity="0.84"/><path d="M373.3 313.1h0M380.2 309.3h0M391.9 311.7h0M402.3 311.0h0M410.0 308.1h0M429.4 301.2h0" stroke="#1fa088" stroke-opacity="0.84"/><path d="M366.1 312.2h0M376.4 310.9h0M380.8 314.1h0M388.3 310.2h0M399.6 313.2h0M410.6 312.8h0M413.7 308.2h0M417.1 310.8h0M422.1 305.2h0" stroke="#1fa088" stroke-opacity="0.84"/><path d="M395.9 312.6h0M420.7 309.9h0M425.7 304.7h0M427.2 303.4h0" stroke="#1fa088" stroke-opacity="0.84"/><path d="M389.4 319.9h0M396.5 317.4h0M406.6 315.3h0" stroke="#21a585" stroke-opacity="0.84"/><path d="M373.9 318.0h0M393.2 319.9h0M402.9 315.8h0" stroke="#21a585" stroke-opacity="0.84"/><path d="M369.8 314.5h0M381.4 318.9h0M384.5 315.4h0M388.9 314.9h0" stroke="#21a585" stroke-opacity="0.84"/><path d="M468.7 158.3h0M468.8 159.9h0M468.8 161.6h0M470.1 154.1h0M470.1 155.5h0M470.2 156.9h0M470.2 158.5h0M470.2 160.2h0M471.3 153.8h0M471.4 155.2h0M471.4 156.8h0M469.4 155.3h0M469.5 157.2h0M469.5 159.3h0M469.6 161.6h0M470.8 153.8h0M470.8 155.7h0M470.8 157.8h0M471.9 152.5h0" stroke="#440154" stroke-opacity="0.92"/><path d="M468.7 158.8h0M468.8 160.5h0M468.8 162.2h0M470.1 154.6h0M470.1 155.9h0M470.2 157.4h0M470.2 159.1h0M471.3 152.9h0M471.3 154.2h0M471.4 155.7h0M469.4 154.2h0M469.4 155.9h0M469.5 157.8h0M469.5 160.0h0M470.8 154.4h0M470.8 156.4h0M470.8 158.5h0" stroke="#440154" stroke-opacity="0.92"/><path d="M468.7 157.8h0M468.7 159.4h0M468.8 161.0h0M470.1 153.7h0M470.1 155.0h0M470.1 156.4h0M470.2 158.0h0M470.2 159.7h0M471.3 153.3h0M471.3 154.7h0M471.4 156.2h0M468.0 162.5h0M469.4 154.8h0M469.4 156.5h0M469.5 158.5h0M469.5 160.8h0M470.7 153.3h0M470.8 155.1h0M470.8 157.1h0M470.8 159.3h0" stroke="#440154" stroke-opacity="0.92"/><path d="M467.3 167.9h0M468.9 163.5h0M468.9 165.5h0M470.3 162.1h0M470.3 164.2h0M468.0 163.3h0M468.1 165.9h0M469.6 164.2h0M470.8 160.1h0" stroke="#460a5d" stroke-opacity="0.92"/><path d="M467.3 166.5h0M467.4 168.6h0M468.9 164.2h0M468.9 166.2h0M470.2 160.9h0M470.3 162.8h0M470.3 164.9h0M468.1 164.1h0M468.2 166.8h0M469.6 162.4h0M469.6 165.1h0M470.9 161.0h0" stroke="#460a5d" stroke-opacity="0.92"/><path d="M467.3 167.2h0M468.8 162.9h0M468.9 164.8h0M469.0 167.0h0M470.2 161.5h0M470.3 163.5h0M468.1 165.0h0M468.2 167.8h0M469.6 163.3h0M469.7 166.1h0M470.9 161.8h0" stroke="#460a5d" stroke-opacity="0.92"/><path d="M467.4 170.2h0M467.5 172.7h0M469.0 167.7h0M469.0 170.2h0M466.5 170.9h0M466.7 174.3h0M468.2 168.8h0M468.3 172.1h0M469.7 167.1h0M469.8 170.3h0" stroke="#481467" stroke-opacity="0.92"/><path d="M467.4 171.0h0M467.5 173.6h0M469.0 168.5h0M469.1 171.0h0M466.6 172.0h0M468.3 169.9h0M469.7 168.1h0" stroke="#481467" stroke-opacity="0.92"/><path d="M467.4 169.4h0M467.5 171.8h0M469.0 169.3h0M469.1 171.9h0M470.3 165.6h0M466.6 173.1h0M468.3 171.0h0M469.7 169.2h0" stroke="#481467" stroke-opacity="0.92"/><path d="M465.8 176.6h0M465.9 179.5h0M467.6 175.4h0M467.7 178.4h0M469.1 172.8h0M466.8 178.0h0M468.5 175.8h0" stroke="#481c6e" stroke-opacity="0.92"/><path d="M465.9 177.5h0M467.7 176.4h0M469.2 173.7h0M466.7 175.5h0M466.9 179.4h0M468.4 173.3h0M468.5 177.1h0" stroke="#481c6e" stroke-opacity="0.92"/><path d="M465.8 175.7h0M465.9 178.5h0M467.6 174.5h0M467.7 177.3h0M469.2 174.7h0M465.0 180.8h0M466.8 176.7h0M468.4 174.5h0" stroke="#481c6e" stroke-opacity="0.92"/><path d="M464.1 184.4h0M466.1 182.7h0M467.9 181.6h0M465.1 182.2h0M467.0 182.2h0M468.6 179.9h0" stroke="#482576" stroke-opacity="0.92"/><path d="M464.2 185.5h0M466.0 180.5h0M466.2 183.8h0M467.8 179.4h0M467.9 182.7h0M465.1 183.6h0M467.1 183.8h0" stroke="#482576" stroke-opacity="0.92"/><path d="M464.2 186.7h0M466.0 181.6h0M466.2 185.0h0M467.8 180.5h0M465.2 185.1h0M466.9 180.8h0M468.5 178.5h0" stroke="#482576" stroke-opacity="0.92"/><path d="M464.3 187.8h0M464.5 191.7h0M466.3 186.2h0M466.4 190.0h0M463.3 190.1h0M465.3 186.7h0M467.2 187.0h0" stroke="#472d7b" stroke-opacity="0.92"/><path d="M462.4 193.3h0M464.4 189.1h0M466.3 187.4h0M463.4 191.8h0M465.4 188.3h0M467.3 188.7h0" stroke="#472d7b" stroke-opacity="0.92"/><path d="M464.5 190.3h0M466.4 188.7h0M467.9 183.9h0M463.2 188.4h0M465.5 190.0h0M467.1 185.3h0" stroke="#472d7b" stroke-opacity="0.92"/><path d="M291.9 209.3h0M290.7 210.1h0M293.8 211.1h0M462.6 196.0h0M464.8 195.8h0M463.7 195.4h0M465.6 191.8h0" stroke="#453581" stroke-opacity="0.92"/><path d="M462.7 197.4h0M464.6 193.0h0M466.5 191.3h0M461.4 197.1h0M463.8 197.3h0M465.7 193.6h0" stroke="#453581" stroke-opacity="0.92"/><path d="M290.5 208.1h0M462.5 194.6h0M464.7 194.4h0M466.6 192.7h0M461.6 199.1h0M463.6 193.5h0M465.8 195.5h0" stroke="#453581" stroke-opacity="0.92"/><path d="M294.4 217.3h0M298.5 214.8h0M299.1 218.6h0M460.4 201.0h0M462.9 200.4h0M465.0 200.3h0M459.5 205.6h0M461.7 201.1h0M464.0 201.3h0M465.9 197.5h0" stroke="#433d84" stroke-opacity="0.92"/><path d="M292.1 211.3h0M294.0 213.1h0M298.7 216.9h0M460.6 202.5h0M463.0 202.0h0M464.9 197.3h0M465.1 201.9h0M461.9 203.1h0" stroke="#433d84" stroke-opacity="0.92"/><path d="M292.2 213.4h0M294.2 215.2h0M299.0 219.0h0M460.7 204.1h0M462.8 198.9h0M463.1 203.6h0M464.9 198.8h0M463.9 199.3h0" stroke="#433d84" stroke-opacity="0.92"/><path d="M299.2 221.2h0M460.8 205.7h0M463.2 205.2h0M462.2 207.5h0" stroke="#404588" stroke-opacity="0.92"/><path d="M294.6 219.5h0M299.4 223.5h0M299.6 222.3h0M306.6 227.7h0M458.5 210.3h0M460.9 207.4h0M463.3 206.9h0M459.7 207.8h0M464.2 203.4h0" stroke="#404588" stroke-opacity="0.92"/><path d="M299.7 225.8h0M300.1 226.3h0M458.6 212.0h0M461.1 209.1h0M459.8 210.1h0M462.0 205.3h0M464.3 205.7h0" stroke="#404588" stroke-opacity="0.92"/><path d="M299.9 228.3h0M300.7 230.4h0M458.8 213.8h0M461.2 210.9h0M463.5 210.4h0M457.6 215.7h0M460.0 212.4h0" stroke="#3d4d8a" stroke-opacity="0.92"/><path d="M300.2 230.8h0M306.5 229.6h0M459.0 215.7h0M461.3 212.7h0M457.8 218.3h0M460.2 214.9h0M462.3 209.8h0" stroke="#3d4d8a" stroke-opacity="0.92"/><path d="M306.8 232.1h0M307.3 231.8h0M456.3 217.5h0M461.5 214.6h0M463.4 208.7h0M457.3 213.3h0M462.5 212.2h0" stroke="#3d4d8a" stroke-opacity="0.92"/><path d="M307.1 234.6h0M307.9 236.1h0M456.4 219.5h0M459.3 219.6h0M461.6 216.5h0M460.6 220.1h0M462.7 214.7h0" stroke="#3a538b" stroke-opacity="0.92"/><path d="M307.4 237.3h0M308.6 240.7h0M456.6 221.4h0M459.4 221.6h0M461.8 218.5h0M455.2 222.4h0" stroke="#3a538b" stroke-opacity="0.92"/><path d="M307.7 240.0h0M453.8 224.5h0M456.8 223.5h0M459.1 217.6h0M455.5 225.2h0M458.0 220.9h0M460.4 217.4h0" stroke="#3a538b" stroke-opacity="0.92"/><path d="M308.0 242.8h0M317.5 246.1h0M454.0 226.6h0M457.0 225.6h0M459.8 225.9h0M455.7 228.0h0M458.2 223.6h0" stroke="#375b8d" stroke-opacity="0.92"/><path d="M308.4 245.7h0M316.2 243.3h0M454.2 228.7h0M457.2 227.8h0M452.5 227.7h0M458.5 226.5h0M460.8 222.8h0" stroke="#375b8d" stroke-opacity="0.92"/><path d="M316.5 246.1h0M309.4 245.5h0M451.3 232.9h0M454.5 230.9h0M459.6 223.7h0M452.8 230.6h0" stroke="#375b8d" stroke-opacity="0.92"/><path d="M316.9 249.1h0M324.2 252.6h0M451.5 235.2h0M454.7 233.2h0M457.6 232.3h0M453.1 233.6h0" stroke="#34618d" stroke-opacity="0.92"/><path d="M317.3 252.1h0M318.3 251.1h0M448.3 239.4h0M451.8 237.6h0M454.9 235.6h0M449.7 235.6h0M453.4 236.8h0M456.0 231.0h0" stroke="#34618d" stroke-opacity="0.92"/><path d="M457.4 230.0h0M450.1 238.7h0M456.3 234.1h0M458.8 229.4h0" stroke="#34618d" stroke-opacity="0.92"/><path d="M318.1 258.4h0M448.8 244.4h0M452.3 242.5h0M455.4 240.5h0M446.6 243.7h0M450.5 242.0h0M456.6 237.2h0" stroke="#31688e" stroke-opacity="0.92"/><path d="M324.6 255.6h0M457.8 234.6h0" stroke="#31688e" stroke-opacity="0.92"/><path d="M317.7 255.2h0M325.0 258.8h0M319.2 256.3h0M444.4 245.1h0M448.5 241.8h0M452.0 240.0h0M455.2 238.0h0M453.7 240.0h0" stroke="#31688e" stroke-opacity="0.92"/><path d="M325.4 262.1h0M436.2 256.5h0M440.2 251.6h0M444.7 247.7h0M442.4 250.9h0M454.1 243.4h0" stroke="#2e6e8e" stroke-opacity="0.92"/><path d="M325.8 265.5h0M440.5 254.3h0M445.0 250.4h0M449.1 247.0h0M452.6 245.1h0M447.0 247.1h0M450.8 245.4h0" stroke="#2e6e8e" stroke-opacity="0.92"/><path d="M449.4 249.6h0M452.9 247.8h0M438.3 254.9h0M447.4 250.7h0M451.2 248.9h0" stroke="#2e6e8e" stroke-opacity="0.92"/><path d="M432.0 261.5h0M441.2 260.1h0M445.6 256.0h0M449.7 252.4h0M438.8 258.7h0M447.8 254.4h0M451.6 252.6h0" stroke="#2b748e" stroke-opacity="0.92"/><path d="M436.5 259.3h0M450.1 255.2h0M434.1 258.9h0M442.8 254.6h0" stroke="#2b748e" stroke-opacity="0.92"/><path d="M326.2 269.0h0M436.9 262.3h0M440.9 257.2h0M445.3 253.2h0M434.6 262.8h0M443.2 258.4h0" stroke="#2b748e" stroke-opacity="0.92"/><path d="M437.2 265.3h0M430.7 270.2h0M435.0 266.9h0M443.7 262.4h0" stroke="#297b8e" stroke-opacity="0.92"/><path d="M423.4 270.9h0M427.9 267.6h0M432.4 264.5h0M441.5 263.1h0M446.0 258.9h0M426.0 272.4h0M439.2 262.6h0M448.3 258.2h0" stroke="#297b8e" stroke-opacity="0.92"/><path d="M355.0 278.5h0M432.7 267.6h0M446.3 261.9h0M430.2 266.0h0M439.7 266.7h0" stroke="#297b8e" stroke-opacity="0.92"/><path d="M355.4 282.3h0M362.5 282.2h0M407.1 282.7h0M413.6 281.0h0M418.8 276.4h0M433.1 270.7h0" stroke="#26818e" stroke-opacity="0.92"/><path d="M416.4 281.3h0M419.2 280.1h0M421.5 277.0h0M433.5 274.0h0M437.6 268.5h0M435.5 271.1h0" stroke="#26818e" stroke-opacity="0.92"/><path d="M423.7 274.1h0M428.7 274.0h0M437.9 271.7h0M441.9 266.2h0" stroke="#26818e" stroke-opacity="0.92"/><path d="M370.2 286.9h0M388.5 289.7h0M393.3 290.6h0M399.3 285.2h0M424.5 280.8h0M429.1 277.4h0" stroke="#24878e" stroke-opacity="0.92"/><path d="M355.9 286.2h0M362.9 286.1h0M365.2 285.1h0M373.0 288.9h0M377.6 287.8h0M396.2 290.9h0M399.7 289.2h0M407.5 286.6h0M410.3 286.5h0M414.0 284.8h0M424.9 284.3h0M429.5 280.8h0M431.7 279.0h0" stroke="#24878e" stroke-opacity="0.92"/><path d="M356.4 290.3h0M363.4 290.1h0M385.7 288.5h0M392.8 286.6h0M402.1 285.9h0M417.4 287.9h0M419.7 284.0h0M422.5 283.4h0M433.9 277.4h0M427.1 281.3h0M436.0 275.5h0" stroke="#24878e" stroke-opacity="0.92"/><path d="M356.9 294.4h0M363.9 294.3h0M378.6 296.0h0M386.2 292.6h0M403.1 292.7h0M408.5 294.8h0M415.0 292.9h0M420.1 287.9h0M423.5 290.1h0M427.6 286.0h0" stroke="#228d8d" stroke-opacity="0.92"/><path d="M370.6 291.0h0M386.7 296.8h0M389.6 296.6h0M393.8 294.7h0M420.6 292.1h0" stroke="#228d8d" stroke-opacity="0.92"/><path d="M366.3 291.9h0M371.2 295.1h0M374.1 295.8h0M378.1 291.8h0M381.0 292.7h0M400.2 293.3h0M408.0 290.6h0M411.4 293.3h0M414.5 288.8h0M429.9 284.3h0" stroke="#228d8d" stroke-opacity="0.92"/><path d="M367.4 299.0h0M371.7 299.4h0M382.1 299.9h0M400.7 297.5h0M412.5 300.6h0M418.4 294.8h0" stroke="#20938c" stroke-opacity="0.92"/><path d="M364.5 298.6h0M379.2 300.3h0M401.2 301.9h0M404.2 299.8h0M409.0 299.1h0M415.5 297.2h0" stroke="#20938c" stroke-opacity="0.92"/><path d="M387.2 301.1h0M394.3 299.0h0M397.3 297.9h0" stroke="#20938c" stroke-opacity="0.92"/><path d="M375.2 303.1h0M387.7 305.6h0M394.8 303.4h0" stroke="#1f998a" stroke-opacity="0.92"/><path d="M379.7 304.7h0M390.7 304.0h0" stroke="#1f998a" stroke-opacity="0.92"/><path d="M458.0 168.7h0M460.2 160.3h0M460.3 161.5h0M460.4 162.8h0M460.5 164.3h0M460.6 165.9h0M460.7 167.6h0M462.7 159.2h0M462.7 160.5h0M462.8 161.8h0M462.9 163.3h0M463.0 164.9h0M463.1 166.7h0M464.9 157.7h0M465.0 158.9h0M465.0 160.3h0M465.1 161.8h0M465.2 163.4h0M465.3 165.1h0M466.9 156.3h0M466.9 157.6h0M467.0 159.0h0M467.0 160.5h0M467.1 162.1h0M467.2 163.9h0M468.6 155.6h0M468.7 156.9h0M459.1 164.6h0M459.3 166.6h0M459.4 169.0h0M461.5 160.1h0M461.6 161.8h0M461.7 163.7h0M461.8 165.9h0M463.8 158.0h0M463.9 159.7h0M464.0 161.5h0M464.1 163.6h0M464.2 165.8h0M465.9 157.1h0M466.0 158.8h0M466.1 160.7h0M466.2 162.9h0M467.8 155.3h0M467.8 157.0h0M467.9 158.8h0M468.0 160.9h0" stroke="#440154" stroke-opacity="0.92"/><path d="M458.1 169.3h0M460.2 160.7h0M460.3 161.9h0M460.4 163.3h0M460.5 164.8h0M460.6 166.4h0M460.7 168.2h0M462.7 159.6h0M462.8 160.9h0M462.9 162.3h0M462.9 163.8h0M463.0 165.5h0M464.9 158.1h0M465.0 159.4h0M465.0 160.8h0M465.1 162.3h0M465.2 164.0h0M466.9 156.7h0M466.9 158.0h0M467.0 159.4h0M467.1 161.0h0M467.1 162.7h0M468.6 154.7h0M468.6 156.0h0M468.7 157.4h0M459.2 165.2h0M459.3 167.4h0M461.5 160.6h0M461.6 162.4h0M461.8 164.4h0M461.9 166.6h0M463.8 158.6h0M463.9 160.3h0M464.0 162.2h0M464.1 164.3h0M465.9 157.7h0M466.0 159.4h0M466.1 161.4h0M466.2 163.6h0M467.8 155.9h0M467.8 157.6h0M467.9 159.5h0M468.0 161.7h0" stroke="#440154" stroke-opacity="0.92"/><path d="M458.0 168.1h0M458.1 169.9h0M460.2 161.1h0M460.3 162.4h0M460.4 163.8h0M460.5 165.3h0M460.6 167.0h0M462.6 158.8h0M462.7 160.0h0M462.8 161.4h0M462.9 162.8h0M463.0 164.4h0M463.1 166.1h0M464.9 157.3h0M464.9 158.5h0M465.0 159.8h0M465.1 161.3h0M465.1 162.8h0M465.2 164.5h0M466.9 155.9h0M466.9 157.2h0M467.0 158.5h0M467.0 159.9h0M467.1 161.5h0M467.1 163.3h0M468.6 155.1h0M468.7 156.4h0M459.1 163.9h0M459.2 165.9h0M459.4 168.2h0M461.4 159.5h0M461.6 161.2h0M461.7 163.0h0M461.8 165.1h0M461.9 167.4h0M463.8 159.1h0M463.9 160.9h0M464.1 162.8h0M464.2 165.1h0M465.9 156.6h0M466.0 158.2h0M466.1 160.1h0M466.1 162.1h0M466.2 164.4h0M467.8 156.4h0M467.9 158.2h0M467.9 160.2h0" stroke="#440154" stroke-opacity="0.92"/><path d="M458.2 170.5h0M458.3 172.5h0M458.5 174.7h0M460.8 169.5h0M460.9 171.5h0M463.2 168.6h0M463.3 170.7h0M465.3 167.1h0M465.4 169.1h0M467.2 165.8h0M456.8 171.6h0M457.0 174.4h0M459.6 171.6h0M462.0 168.3h0M462.2 170.9h0M464.3 168.4h0M464.5 171.3h0M466.3 165.3h0M466.4 167.9h0" stroke="#460a5d" stroke-opacity="0.92"/><path d="M458.2 171.2h0M458.4 173.2h0M460.8 170.2h0M461.0 172.3h0M463.1 167.3h0M463.3 169.3h0M463.4 171.5h0M465.3 165.8h0M465.4 167.7h0M465.5 169.9h0M467.2 164.5h0M456.9 172.5h0M457.1 175.4h0M459.5 169.8h0M459.7 172.5h0M462.0 169.1h0M462.2 171.9h0M464.3 166.7h0M464.4 169.3h0M466.3 166.1h0M466.4 168.9h0" stroke="#460a5d" stroke-opacity="0.92"/><path d="M455.6 176.0h0M458.3 171.8h0M458.4 174.0h0M460.8 168.8h0M460.9 170.8h0M461.0 173.0h0M463.2 168.0h0M463.3 170.0h0M465.3 166.4h0M465.4 168.4h0M467.2 165.1h0M456.9 173.4h0M459.6 170.7h0M459.8 173.5h0M462.1 170.0h0M462.3 172.9h0M464.3 167.5h0M464.4 170.3h0M466.4 167.0h0" stroke="#460a5d" stroke-opacity="0.92"/><path d="M455.7 176.7h0M455.9 179.2h0M458.7 177.1h0M458.8 179.7h0M461.1 173.8h0M461.2 176.2h0M463.5 173.0h0M463.6 175.5h0M465.6 171.4h0M465.7 173.9h0M454.4 179.7h0M457.2 177.5h0M457.5 180.9h0M459.8 174.5h0M460.1 177.8h0M462.3 174.0h0M462.6 177.3h0M464.7 174.5h0" stroke="#481467" stroke-opacity="0.92"/><path d="M455.8 177.5h0M456.0 180.1h0M458.5 175.5h0M458.7 178.0h0M461.1 174.6h0M461.3 177.0h0M463.5 173.8h0M463.7 176.4h0M465.6 172.2h0M465.7 174.8h0M454.5 180.8h0M457.3 178.6h0M459.9 175.6h0M460.1 179.0h0M462.4 175.0h0M464.6 172.3h0M464.7 175.7h0" stroke="#481467" stroke-opacity="0.92"/><path d="M455.8 178.4h0M456.0 181.0h0M458.6 176.3h0M458.8 178.8h0M461.2 175.4h0M461.4 177.9h0M463.4 172.2h0M463.6 174.6h0M465.5 170.6h0M465.6 173.0h0M454.6 182.0h0M457.2 176.4h0M457.4 179.7h0M460.0 176.7h0M462.5 176.2h0M464.6 173.4h0M466.5 169.9h0" stroke="#481467" stroke-opacity="0.92"/><path d="M453.3 185.3h0M453.6 188.4h0M456.1 181.9h0M456.4 184.8h0M459.1 182.6h0M461.4 178.8h0M461.6 181.7h0M463.8 178.2h0M463.9 181.1h0M454.7 183.3h0M455.1 187.3h0M457.8 184.8h0M460.3 181.5h0M462.8 181.1h0M464.9 178.1h0" stroke="#481c6e" stroke-opacity="0.92"/><path d="M453.1 183.4h0M453.4 186.3h0M456.2 182.8h0M456.5 185.8h0M458.9 180.6h0M459.1 183.6h0M461.5 179.8h0M461.7 182.7h0M463.8 179.2h0M451.8 187.3h0M454.8 184.5h0M457.6 182.2h0M460.4 182.8h0M462.6 178.5h0M462.9 182.5h0M464.9 179.4h0" stroke="#481c6e" stroke-opacity="0.92"/><path d="M453.2 184.4h0M453.5 187.4h0M456.3 183.8h0M456.5 186.9h0M459.0 181.6h0M459.2 184.6h0M461.5 180.7h0M463.7 177.3h0M463.9 180.1h0M452.0 188.7h0M454.9 185.9h0M457.7 183.5h0M460.2 180.2h0M460.5 184.1h0M462.7 179.8h0M464.8 176.9h0" stroke="#481c6e" stroke-opacity="0.92"/><path d="M450.7 192.9h0M453.9 191.8h0M456.6 188.0h0M456.9 191.4h0M459.3 185.7h0M459.5 189.0h0M461.8 184.8h0M462.0 188.3h0M452.1 190.1h0M455.5 191.8h0M458.2 189.2h0M460.6 185.6h0M463.0 185.3h0" stroke="#482576" stroke-opacity="0.92"/><path d="M450.4 190.6h0M450.8 194.1h0M453.7 189.5h0M454.0 193.0h0M456.7 189.1h0M459.4 186.7h0M459.6 190.2h0M461.9 185.9h0M464.0 182.2h0M449.1 195.1h0M452.2 191.6h0M455.2 188.7h0M457.9 186.2h0M458.3 190.7h0M460.7 187.0h0M463.1 186.9h0" stroke="#482576" stroke-opacity="0.92"/><path d="M450.6 191.7h0M453.8 190.7h0M456.8 190.2h0M459.5 187.9h0M461.8 183.8h0M462.0 187.1h0M464.1 183.3h0M452.4 193.2h0M455.3 190.2h0M458.1 187.7h0M460.8 188.6h0M463.0 183.9h0" stroke="#482576" stroke-opacity="0.92"/><path d="M447.5 198.2h0M451.0 196.6h0M454.2 195.5h0M457.2 195.2h0M459.8 192.7h0M462.3 192.0h0M449.4 198.5h0M452.5 194.8h0M455.9 196.8h0M458.6 194.0h0M460.9 190.1h0" stroke="#472d7b" stroke-opacity="0.92"/><path d="M447.7 199.5h0M451.2 197.9h0M454.3 196.8h0M457.0 192.6h0M457.3 196.5h0M459.9 194.0h0M462.1 189.5h0M449.6 200.2h0M452.7 196.5h0M455.6 193.4h0M458.7 195.8h0M461.1 191.8h0" stroke="#472d7b" stroke-opacity="0.92"/><path d="M447.8 200.8h0M450.9 195.3h0M451.3 199.2h0M454.1 194.2h0M454.5 198.1h0M457.1 193.9h0M459.7 191.4h0M460.0 195.3h0M462.2 190.7h0M446.0 201.8h0M449.2 196.8h0M452.9 198.2h0M455.7 195.0h0M458.4 192.4h0M461.2 193.5h0" stroke="#472d7b" stroke-opacity="0.92"/><path d="M444.7 208.1h0M448.0 202.2h0M448.4 206.6h0M451.4 200.6h0M451.9 204.9h0M454.6 199.5h0M457.6 199.3h0M460.1 196.7h0M446.2 203.7h0M450.0 204.0h0M453.0 200.0h0M456.4 202.4h0M459.0 199.5h0M461.3 195.3h0" stroke="#453581" stroke-opacity="0.92"/><path d="M444.4 205.2h0M448.1 203.6h0M451.6 202.0h0M454.7 200.9h0M457.7 200.7h0M460.2 198.1h0M446.4 205.6h0M450.2 206.0h0M453.2 201.9h0M456.0 198.6h0" stroke="#453581" stroke-opacity="0.92"/><path d="M444.5 206.6h0M448.3 205.1h0M451.7 203.4h0M454.9 202.4h0M457.5 197.8h0M460.3 199.5h0M442.7 209.1h0M446.7 207.7h0M449.8 202.1h0M453.4 203.8h0M456.2 200.5h0M458.8 197.6h0" stroke="#453581" stroke-opacity="0.92"/><path d="M305.4 220.4h0M313.1 219.3h0M320.4 222.2h0M313.5 221.1h0M441.0 215.5h0M445.3 213.0h0M448.9 211.4h0M452.3 209.7h0M455.0 203.9h0M455.4 208.6h0M457.9 203.7h0M438.4 216.2h0M442.9 211.2h0M446.9 209.7h0M450.6 210.2h0M453.6 205.9h0" stroke="#433d84" stroke-opacity="0.92"/><path d="M304.9 216.3h0M313.4 221.4h0M319.9 218.1h0M320.6 224.3h0M440.6 212.2h0M444.9 209.7h0M448.6 208.2h0M452.0 206.5h0M455.1 205.4h0M458.1 205.3h0M443.2 213.4h0M447.1 211.9h0M453.8 208.0h0M456.6 204.4h0M459.2 201.4h0" stroke="#433d84" stroke-opacity="0.92"/><path d="M305.1 218.3h0M312.9 217.3h0M320.1 220.1h0M305.5 220.1h0M440.8 213.8h0M445.1 211.3h0M448.8 209.8h0M452.2 208.0h0M455.3 207.0h0M457.8 202.2h0M458.2 206.9h0M438.1 213.9h0M450.4 208.1h0M456.7 206.5h0M459.3 203.5h0" stroke="#433d84" stroke-opacity="0.92"/><path d="M306.2 227.2h0M313.9 225.7h0M321.2 228.7h0M306.1 223.8h0M436.4 218.4h0M445.9 218.2h0M449.5 216.6h0M452.9 214.8h0M455.9 213.8h0M458.4 208.6h0M434.5 221.4h0M443.7 218.0h0M447.6 216.5h0M454.2 212.4h0M456.9 208.7h0" stroke="#404588" stroke-opacity="0.92"/><path d="M305.6 222.6h0M314.2 228.0h0M314.1 224.8h0M432.4 223.8h0M436.6 220.2h0M441.2 217.3h0M445.5 214.7h0M449.1 213.1h0M452.5 211.3h0M455.6 210.3h0M438.7 218.5h0M450.9 212.4h0M454.5 214.8h0M457.1 211.0h0" stroke="#404588" stroke-opacity="0.92"/><path d="M305.9 224.9h0M313.7 223.5h0M320.9 226.5h0M314.7 228.6h0M436.8 222.0h0M441.4 219.1h0M445.7 216.4h0M449.3 214.8h0M452.7 213.0h0M455.7 212.0h0M438.9 220.9h0M443.4 215.6h0M447.4 214.2h0M451.1 214.8h0M454.0 210.2h0" stroke="#404588" stroke-opacity="0.92"/><path d="M314.8 232.8h0M322.1 235.9h0M315.4 232.6h0M432.9 227.7h0M437.1 223.9h0M441.6 220.9h0M446.5 224.0h0M450.1 222.3h0M453.4 220.4h0M430.5 227.0h0M439.2 223.5h0M451.4 217.2h0M454.9 219.8h0" stroke="#3d4d8a" stroke-opacity="0.92"/><path d="M315.1 235.3h0M321.5 231.1h0M437.3 225.9h0M441.9 222.8h0M446.1 220.1h0M449.7 218.5h0M453.0 216.6h0M456.1 215.6h0M430.8 229.7h0M434.8 223.9h0M439.5 226.1h0M444.0 220.4h0M447.9 218.9h0M451.6 219.6h0" stroke="#3d4d8a" stroke-opacity="0.92"/><path d="M314.5 230.3h0M321.8 233.5h0M428.3 229.4h0M432.7 225.7h0M442.1 224.8h0M446.3 222.0h0M449.9 220.4h0M453.2 218.5h0M435.1 226.5h0M444.3 223.0h0M448.2 221.4h0M454.7 217.3h0" stroke="#3d4d8a" stroke-opacity="0.92"/><path d="M315.8 240.5h0M416.0 240.6h0M424.0 233.9h0M428.6 231.5h0M433.6 234.0h0M437.7 230.0h0M442.3 226.8h0M421.9 236.7h0M431.4 235.3h0M435.4 229.2h0M440.2 231.6h0M444.6 225.6h0M448.5 224.1h0M452.2 224.9h0" stroke="#3a538b" stroke-opacity="0.92"/><path d="M322.4 238.5h0M316.0 236.9h0M419.6 238.6h0M424.3 236.1h0M428.8 233.6h0M433.1 229.7h0M438.0 232.1h0M442.5 228.9h0M446.7 226.0h0M450.3 224.3h0M453.6 222.4h0M426.3 232.1h0M435.7 232.0h0M444.9 228.3h0M448.8 226.8h0" stroke="#3a538b" stroke-opacity="0.92"/><path d="M315.5 237.9h0M322.7 241.1h0M316.8 241.4h0M429.1 235.8h0M433.4 231.8h0M437.5 227.9h0M442.8 231.0h0M447.0 228.0h0M450.6 226.4h0M426.6 234.9h0M431.1 232.4h0M439.8 228.8h0M451.9 222.2h0" stroke="#3a538b" stroke-opacity="0.92"/><path d="M323.1 243.9h0M348.1 247.9h0M404.4 247.5h0M420.2 243.2h0M424.8 240.6h0M429.3 238.1h0M438.5 236.6h0M443.0 233.2h0M447.2 230.2h0M450.8 228.5h0M426.9 237.9h0M436.4 238.0h0M445.5 234.1h0M449.4 232.5h0" stroke="#375b8d" stroke-opacity="0.92"/><path d="M323.4 246.7h0M409.4 245.6h0M414.8 242.2h0M416.7 245.0h0M425.1 243.0h0M429.6 240.4h0M433.9 236.2h0M443.3 235.4h0M447.5 232.4h0M451.0 230.7h0M422.2 239.7h0M427.3 241.0h0M431.8 238.3h0M440.5 234.5h0" stroke="#375b8d" stroke-opacity="0.92"/><path d="M348.0 245.2h0M415.1 244.8h0M419.9 240.8h0M424.5 238.3h0M434.1 238.5h0M438.2 234.3h0M447.7 234.6h0M422.6 242.8h0M436.0 234.9h0M440.8 237.6h0M445.2 231.2h0M449.1 229.6h0" stroke="#375b8d" stroke-opacity="0.92"/><path d="M358.8 252.2h0M373.5 253.6h0M383.1 254.7h0M395.6 254.6h0M403.5 252.6h0M410.1 251.2h0M415.4 247.5h0M421.0 250.7h0M425.7 247.9h0M430.2 245.2h0M434.4 240.9h0M439.3 243.8h0M443.8 240.2h0M448.0 237.0h0M423.0 246.0h0M428.0 247.5h0M432.5 244.7h0M441.2 240.7h0" stroke="#34618d" stroke-opacity="0.92"/><path d="M348.2 250.7h0M359.9 251.2h0M365.7 250.1h0M367.5 254.1h0M374.7 252.0h0M381.6 254.2h0M388.8 252.7h0M390.7 255.6h0M405.1 252.2h0M411.3 248.3h0M415.7 250.4h0M420.4 245.6h0M434.7 243.3h0M438.8 238.9h0M423.4 249.4h0M436.7 241.1h0M445.9 237.2h0" stroke="#34618d" stroke-opacity="0.92"/><path d="M323.8 249.6h0M348.3 253.6h0M358.5 249.4h0M366.0 252.9h0M389.1 255.6h0M395.3 251.7h0M396.9 251.9h0M403.2 249.7h0M409.8 248.3h0M412.1 253.1h0M417.4 249.7h0M420.7 248.1h0M425.4 245.4h0M429.9 242.8h0M435.0 245.8h0M439.0 241.3h0M443.6 237.8h0M427.6 244.2h0M432.1 241.5h0M437.1 244.3h0M446.2 240.4h0" stroke="#34618d" stroke-opacity="0.92"/><path d="M348.4 256.6h0M366.4 255.9h0M382.3 260.2h0M389.5 258.7h0M397.6 256.9h0M412.8 258.1h0M416.4 256.3h0M418.1 254.6h0M431.1 253.0h0M435.3 248.3h0M437.5 247.7h0" stroke="#31688e" stroke-opacity="0.92"/><path d="M348.5 259.7h0M359.2 255.2h0M366.8 258.9h0M373.9 256.6h0M383.9 259.8h0M389.9 261.8h0M396.0 257.6h0M403.8 255.5h0M410.4 254.1h0M421.3 253.3h0M426.0 250.5h0M430.5 247.7h0M435.6 251.0h0M439.6 246.3h0M444.1 242.6h0M428.4 250.9h0M432.9 248.1h0M441.6 244.0h0" stroke="#31688e" stroke-opacity="0.92"/><path d="M359.5 258.2h0M360.7 256.2h0M368.3 259.1h0M374.2 259.6h0M375.4 257.0h0M381.9 257.1h0M391.5 260.7h0M396.3 260.7h0M404.2 258.6h0M405.9 257.2h0M410.8 257.1h0M416.1 253.3h0M421.7 256.1h0M426.3 253.2h0M430.7 250.3h0M439.9 248.9h0M423.8 252.8h0M433.3 251.5h0M442.0 247.4h0" stroke="#31688e" stroke-opacity="0.92"/><path d="M359.9 261.3h0M361.5 261.3h0M367.5 265.3h0M369.2 264.5h0M374.6 262.7h0M376.2 262.2h0M392.4 266.1h0M396.7 263.8h0M404.6 261.7h0M406.7 262.5h0M411.1 260.2h0M422.0 258.8h0M426.6 255.9h0M424.2 256.5h0M429.3 258.2h0M433.7 255.2h0" stroke="#2e6e8e" stroke-opacity="0.92"/><path d="M360.3 264.5h0M362.4 266.8h0M375.0 266.0h0M377.1 267.6h0M382.7 263.4h0M397.1 267.1h0M398.4 262.1h0M405.0 264.9h0M411.5 263.4h0M413.6 263.5h0M416.8 259.4h0M418.9 259.7h0M422.3 261.7h0M426.9 258.7h0M431.4 255.8h0M424.6 260.2h0M437.9 251.2h0" stroke="#2e6e8e" stroke-opacity="0.92"/><path d="M348.6 262.9h0M367.1 262.0h0M383.1 266.6h0M384.7 265.2h0M390.2 265.0h0M417.2 262.5h0M431.7 258.6h0M435.9 253.7h0M428.8 254.5h0" stroke="#2e6e8e" stroke-opacity="0.92"/><path d="M354.1 271.3h0M361.1 271.3h0M375.8 272.8h0M383.5 270.0h0M385.6 270.8h0M390.6 268.3h0M405.8 271.7h0M412.3 270.1h0M417.6 265.8h0M423.0 267.7h0M427.6 264.6h0" stroke="#2b748e" stroke-opacity="0.92"/><path d="M367.9 268.6h0M370.0 270.1h0M383.9 273.5h0M391.1 271.7h0M393.2 271.8h0M407.5 268.0h0M417.9 269.2h0M429.7 262.0h0" stroke="#2b748e" stroke-opacity="0.92"/><path d="M360.7 267.9h0M363.3 272.6h0M368.4 272.0h0M375.4 269.3h0M378.0 273.4h0M397.5 270.5h0M399.3 267.6h0M405.3 268.3h0M411.9 266.7h0M414.5 269.1h0M419.7 265.2h0M422.7 264.7h0M427.2 261.6h0M425.1 264.1h0" stroke="#2b748e" stroke-opacity="0.92"/><path d="M368.8 275.6h0M391.9 278.9h0M397.9 274.0h0M400.1 273.3h0M415.4 275.0h0M420.6 270.9h0M425.5 268.2h0" stroke="#297b8e" stroke-opacity="0.92"/><path d="M354.5 274.9h0M361.6 274.8h0M376.3 276.4h0M386.5 276.8h0M398.4 277.6h0M406.2 275.3h0M412.7 273.6h0" stroke="#297b8e" stroke-opacity="0.92"/><path d="M362.0 278.5h0M371.0 276.0h0M384.3 277.0h0M391.5 275.3h0M394.2 277.9h0M408.4 273.9h0M418.4 272.7h0" stroke="#297b8e" stroke-opacity="0.92"/><path d="M364.2 278.7h0M372.0 282.3h0M377.2 283.8h0M379.0 279.5h0M384.7 280.7h0M395.1 284.2h0M409.4 280.0h0" stroke="#26818e" stroke-opacity="0.92"/><path d="M369.2 279.3h0M385.2 284.6h0M392.4 282.7h0M401.1 279.5h0" stroke="#26818e" stroke-opacity="0.92"/><path d="M369.7 283.0h0M376.7 280.0h0M387.5 283.0h0M398.8 281.4h0M406.6 278.9h0M413.1 277.2h0" stroke="#26818e" stroke-opacity="0.92"/><path d="M380.0 286.0h0" stroke="#24878e" stroke-opacity="0.92"/><path d="M441.0 175.1h0M444.6 170.6h0M444.7 172.1h0M444.9 173.9h0M448.2 167.8h0M448.3 169.2h0M448.5 170.8h0M448.6 172.5h0M448.8 174.4h0M451.5 165.3h0M451.6 166.6h0M451.7 168.1h0M451.9 169.7h0M452.0 171.4h0M454.7 164.4h0M454.8 165.7h0M454.9 167.2h0M455.0 168.8h0M455.2 170.5h0M457.6 162.7h0M457.7 164.0h0M457.8 165.4h0M457.9 167.0h0M439.1 177.4h0M442.9 173.7h0M443.2 176.2h0M446.4 168.9h0M446.6 170.9h0M446.8 173.2h0M449.9 166.8h0M450.1 168.7h0M450.3 170.9h0M450.5 173.2h0M453.1 165.0h0M453.3 166.8h0M453.4 168.8h0M453.6 171.1h0M456.1 163.2h0M456.3 165.0h0M456.4 166.9h0M456.6 169.1h0M458.9 161.0h0M459.0 162.7h0" stroke="#440154" stroke-opacity="0.92"/><path d="M440.8 174.0h0M441.0 175.7h0M444.6 171.1h0M444.8 172.7h0M445.0 174.5h0M448.2 168.3h0M448.4 169.7h0M448.5 171.3h0M448.7 173.1h0M451.5 165.7h0M451.6 167.1h0M451.8 168.6h0M451.9 170.2h0M452.1 172.0h0M454.6 163.5h0M454.7 164.8h0M454.8 166.2h0M454.9 167.7h0M455.1 169.3h0M455.2 171.1h0M457.5 161.8h0M457.6 163.1h0M457.7 164.4h0M457.8 165.9h0M457.9 167.5h0M438.9 175.7h0M442.7 172.2h0M443.0 174.5h0M446.4 169.6h0M446.7 171.7h0M446.9 174.0h0M449.9 167.4h0M450.1 169.4h0M450.3 171.6h0M453.2 165.5h0M453.3 167.4h0M453.5 169.5h0M453.7 171.9h0M456.2 163.8h0M456.3 165.6h0M456.5 167.6h0M456.7 169.9h0M458.9 161.6h0M459.0 163.3h0" stroke="#440154" stroke-opacity="0.92"/><path d="M440.9 174.5h0M441.1 176.4h0M444.7 171.6h0M444.9 173.3h0M445.1 175.1h0M448.1 167.3h0M448.3 168.7h0M448.4 170.3h0M448.6 171.9h0M448.8 173.7h0M451.5 166.2h0M451.7 167.6h0M451.8 169.1h0M452.0 170.8h0M452.1 172.6h0M454.6 163.9h0M454.7 165.2h0M454.9 166.7h0M455.0 168.2h0M455.1 169.9h0M457.5 162.2h0M457.6 163.5h0M457.7 164.9h0M457.8 166.4h0M439.0 176.5h0M442.8 173.0h0M443.1 175.3h0M446.5 170.2h0M446.7 172.4h0M447.0 174.8h0M449.8 166.3h0M450.0 168.1h0M450.2 170.1h0M450.4 172.4h0M453.0 164.4h0M453.2 166.1h0M453.4 168.1h0M453.6 170.3h0M456.1 162.7h0M456.2 164.4h0M456.4 166.2h0M456.5 168.4h0M456.7 170.8h0M458.9 162.1h0" stroke="#440154" stroke-opacity="0.92"/><path d="M437.1 180.8h0M437.3 183.1h0M441.2 177.0h0M441.4 179.1h0M441.7 181.3h0M445.1 175.7h0M445.3 177.8h0M445.6 180.0h0M449.0 176.4h0M449.2 178.6h0M452.2 173.2h0M452.4 175.3h0M452.6 177.5h0M455.3 172.4h0M455.5 174.5h0M439.4 180.1h0M443.5 178.9h0M447.1 175.7h0M447.4 178.5h0M450.7 175.9h0M451.0 178.9h0M453.9 173.6h0M454.1 176.5h0" stroke="#460a5d" stroke-opacity="0.92"/><path d="M436.9 179.3h0M437.1 181.5h0M441.3 177.7h0M441.5 179.8h0M441.8 182.1h0M445.2 176.4h0M445.4 178.5h0M445.7 180.8h0M448.9 175.0h0M449.1 177.1h0M449.3 179.4h0M452.2 173.9h0M452.4 176.0h0M455.4 173.1h0M455.6 175.2h0M439.2 178.3h0M439.5 181.1h0M443.3 177.0h0M443.6 179.9h0M447.2 176.6h0M447.5 179.5h0M450.6 174.1h0M450.8 176.8h0M453.9 174.5h0" stroke="#460a5d" stroke-opacity="0.92"/><path d="M437.0 180.0h0M437.2 182.3h0M441.3 178.4h0M441.6 180.6h0M445.3 177.1h0M445.5 179.3h0M449.0 175.7h0M449.2 177.8h0M452.3 174.6h0M452.5 176.7h0M455.3 171.8h0M455.4 173.8h0M439.3 179.2h0M439.6 182.2h0M443.4 178.0h0M443.7 180.9h0M447.3 177.5h0M450.6 175.0h0M450.9 177.8h0M453.8 172.8h0M454.0 175.5h0" stroke="#460a5d" stroke-opacity="0.92"/><path d="M428.5 189.7h0M432.9 187.5h0M437.6 185.6h0M437.9 188.3h0M441.9 183.8h0M442.2 186.4h0M445.8 182.4h0M446.1 185.1h0M449.5 181.0h0M449.7 183.6h0M452.8 179.9h0M453.0 182.5h0M430.8 189.4h0M435.0 186.2h0M439.7 183.2h0M440.1 186.7h0M443.8 182.0h0M444.2 185.4h0M447.7 181.6h0M448.0 185.2h0M451.3 182.2h0" stroke="#481467" stroke-opacity="0.92"/><path d="M428.6 190.6h0M433.0 188.4h0M437.4 183.9h0M437.7 186.5h0M442.0 184.6h0M442.4 187.4h0M445.9 183.3h0M446.2 186.0h0M449.6 181.8h0M449.8 184.5h0M452.6 178.2h0M452.9 180.7h0M435.1 187.4h0M439.9 184.3h0M440.3 187.9h0M443.9 183.1h0M444.3 186.6h0M447.8 182.8h0M451.1 179.9h0M451.5 183.4h0M454.2 177.5h0" stroke="#481467" stroke-opacity="0.92"/><path d="M432.8 186.6h0M433.1 189.3h0M437.5 184.7h0M437.8 187.4h0M441.8 182.9h0M442.1 185.5h0M445.8 181.6h0M446.0 184.2h0M449.4 180.2h0M449.6 182.7h0M452.7 179.0h0M453.0 181.6h0M426.3 191.3h0M430.7 188.1h0M434.8 185.1h0M435.3 188.7h0M440.0 185.5h0M444.0 184.2h0M447.6 180.6h0M447.9 183.9h0M451.2 181.0h0M454.3 178.6h0" stroke="#481467" stroke-opacity="0.92"/><path d="M414.9 198.1h0M419.7 196.5h0M424.4 195.0h0M428.9 192.6h0M429.2 195.8h0M433.2 190.3h0M433.6 193.4h0M438.3 191.3h0M442.6 189.3h0M442.9 192.5h0M446.4 187.9h0M446.8 191.1h0M450.0 186.4h0M450.3 189.5h0M417.4 198.2h0M421.9 194.2h0M426.5 192.6h0M427.0 196.8h0M431.3 193.3h0M435.4 189.9h0M435.9 194.1h0M440.6 190.5h0M444.6 189.2h0M448.5 189.1h0M451.7 185.9h0" stroke="#481c6e" stroke-opacity="0.92"/><path d="M415.1 199.2h0M419.8 197.6h0M424.1 192.9h0M424.5 196.0h0M429.0 193.7h0M433.3 191.3h0M433.7 194.4h0M438.0 189.3h0M438.4 192.3h0M442.7 190.3h0M446.5 189.0h0M450.1 187.4h0M422.0 195.6h0M426.7 194.0h0M431.0 190.6h0M431.4 194.7h0M435.5 191.3h0M440.7 191.9h0M444.8 190.6h0M448.2 186.4h0M448.6 190.5h0" stroke="#481c6e" stroke-opacity="0.92"/><path d="M419.6 195.5h0M420.0 198.8h0M424.2 193.9h0M424.6 197.1h0M428.8 191.6h0M429.1 194.7h0M433.4 192.3h0M438.1 190.2h0M438.5 193.4h0M442.5 188.3h0M442.8 191.4h0M446.3 187.0h0M446.7 190.0h0M449.9 185.5h0M450.2 188.5h0M417.3 196.8h0M422.2 197.0h0M426.8 195.4h0M431.1 191.9h0M435.7 192.6h0M440.4 189.2h0M440.9 193.4h0M444.5 187.9h0M444.9 192.0h0M448.3 187.7h0M451.6 184.6h0" stroke="#481c6e" stroke-opacity="0.92"/><path d="M398.3 208.1h0M404.4 202.9h0M404.9 207.1h0M410.0 200.9h0M410.4 205.0h0M415.3 201.6h0M415.8 205.4h0M420.1 199.9h0M420.5 203.6h0M424.7 198.3h0M425.2 201.9h0M429.6 199.3h0M433.9 196.7h0M434.4 200.3h0M438.6 194.5h0M439.0 198.0h0M443.3 195.9h0M447.1 194.5h0M418.0 203.0h0M422.4 198.5h0M422.9 203.4h0M427.5 201.6h0M431.8 197.7h0M436.4 198.7h0M441.1 194.9h0M445.1 193.5h0M448.9 193.5h0" stroke="#482576" stroke-opacity="0.92"/><path d="M397.9 205.2h0M404.6 204.2h0M405.0 206.8h0M410.1 202.2h0M410.6 206.4h0M410.6 204.8h0M415.5 202.8h0M420.2 201.1h0M424.9 199.5h0M425.3 203.2h0M429.4 196.9h0M429.8 200.5h0M434.1 197.9h0M438.8 195.6h0M439.2 199.3h0M443.1 193.6h0M443.5 197.1h0M446.9 192.2h0M447.3 195.7h0M417.6 199.8h0M418.2 204.7h0M422.6 200.1h0M427.2 198.4h0M432.0 199.3h0M436.0 195.5h0M441.2 196.4h0M445.3 195.1h0" stroke="#482576" stroke-opacity="0.92"/><path d="M390.1 207.9h0M398.1 206.6h0M404.7 205.7h0M410.3 203.6h0M415.2 200.4h0M415.6 204.1h0M420.4 202.4h0M425.0 200.7h0M429.5 198.1h0M429.9 201.8h0M433.8 195.6h0M434.2 199.1h0M438.9 196.8h0M443.2 194.7h0M447.0 193.3h0M417.8 201.3h0M422.7 201.7h0M427.3 199.9h0M431.6 196.2h0M432.1 201.0h0M436.2 197.1h0M441.4 198.0h0M445.4 196.7h0M448.8 192.0h0" stroke="#482576" stroke-opacity="0.92"/><path d="M368.7 213.7h0M376.5 212.4h0M383.9 211.6h0M390.3 209.4h0M390.8 214.1h0M390.7 211.8h0M398.8 212.8h0M405.5 211.8h0M405.8 212.0h0M411.0 209.5h0M411.3 209.9h0M416.2 209.5h0M421.0 207.7h0M425.6 205.8h0M430.1 203.1h0M430.5 207.2h0M434.8 204.3h0M439.5 201.9h0M443.7 199.6h0M418.6 208.3h0M423.6 208.8h0M428.1 206.9h0M432.3 202.7h0M437.0 203.9h0M441.6 199.7h0M445.6 198.3h0" stroke="#472d7b" stroke-opacity="0.92"/><path d="M376.7 214.0h0M384.1 213.2h0M390.4 210.9h0M391.1 214.6h0M398.4 209.6h0M398.5 209.2h0M405.1 208.6h0M411.2 211.1h0M415.9 206.7h0M416.4 211.0h0M420.7 205.0h0M421.2 209.1h0M425.8 207.2h0M430.2 204.4h0M434.5 201.6h0M435.0 205.7h0M439.6 203.2h0M443.9 201.0h0M418.8 210.2h0M423.1 205.1h0M427.7 203.3h0M432.5 204.5h0M436.6 200.4h0M441.8 201.4h0M445.8 200.1h0" stroke="#472d7b" stroke-opacity="0.92"/><path d="M346.9 213.2h0M383.7 210.0h0M384.3 214.8h0M384.3 214.0h0M390.6 212.5h0M398.6 211.2h0M398.9 211.8h0M405.3 210.2h0M405.4 209.4h0M410.8 207.9h0M410.9 207.3h0M416.1 208.1h0M420.8 206.3h0M425.5 204.5h0M425.9 208.7h0M430.4 205.8h0M434.6 202.9h0M439.3 200.5h0M439.8 204.6h0M443.6 198.4h0M444.0 202.3h0M447.4 196.9h0M418.4 206.5h0M423.3 206.9h0M427.9 205.1h0M432.8 206.3h0M436.8 202.1h0M442.0 203.3h0" stroke="#472d7b" stroke-opacity="0.92"/><path d="M347.0 214.8h0M354.6 217.8h0M361.4 214.9h0M362.1 220.2h0M369.3 218.9h0M377.2 217.5h0M377.6 219.4h0M384.5 216.5h0M384.7 216.8h0M391.5 219.4h0M399.4 218.0h0M399.3 214.6h0M406.1 216.9h0M411.6 214.4h0M416.8 214.0h0M421.5 212.1h0M426.1 210.1h0M431.1 211.7h0M435.3 208.6h0M439.9 206.0h0M444.2 203.7h0M419.3 214.2h0M424.3 214.9h0M428.8 212.9h0M433.0 208.3h0M437.7 209.7h0M442.2 205.1h0" stroke="#453581" stroke-opacity="0.92"/><path d="M347.1 216.6h0M354.8 219.6h0M361.6 216.6h0M362.0 218.8h0M368.9 215.3h0M369.5 220.7h0M369.3 217.6h0M377.4 219.2h0M384.7 218.3h0M385.2 219.9h0M391.0 215.8h0M399.0 214.5h0M399.6 219.8h0M399.8 217.5h0M405.7 213.4h0M406.3 218.7h0M406.2 214.9h0M411.8 216.2h0M411.8 212.6h0M416.9 215.6h0M421.7 213.6h0M426.3 211.7h0M430.7 208.6h0M435.5 210.1h0M440.1 207.5h0M423.8 210.8h0M428.4 208.8h0M433.2 210.2h0M437.2 205.7h0M442.5 207.1h0" stroke="#453581" stroke-opacity="0.92"/><path d="M347.1 218.4h0M354.4 216.0h0M355.0 219.9h0M361.8 218.3h0M369.1 217.1h0M369.8 220.7h0M376.9 215.7h0M377.2 216.4h0M384.9 220.1h0M391.2 217.6h0M391.6 217.5h0M399.2 216.2h0M405.9 215.1h0M406.7 217.8h0M411.4 212.7h0M412.2 215.5h0M416.6 212.5h0M421.3 210.6h0M421.9 215.2h0M426.5 213.2h0M430.9 210.1h0M435.1 207.1h0M440.3 209.0h0M419.1 212.2h0M424.0 212.8h0M428.6 210.8h0M433.4 212.3h0M437.4 207.7h0" stroke="#453581" stroke-opacity="0.92"/><path d="M347.2 220.3h0M355.3 223.4h0M355.5 223.2h0M362.8 226.0h0M363.0 225.3h0M370.0 224.6h0M370.3 223.9h0M377.8 223.0h0M385.1 222.0h0M386.2 226.4h0M392.1 225.2h0M392.0 220.6h0M400.1 223.7h0M400.8 223.9h0M406.7 222.5h0M407.2 221.0h0M412.2 219.9h0M412.7 218.5h0M417.3 218.9h0M422.1 216.8h0M426.7 214.8h0M431.6 216.6h0M435.8 213.3h0M440.5 210.6h0M420.1 220.9h0M433.7 214.5h0" stroke="#433d84" stroke-opacity="0.92"/><path d="M347.2 222.2h0M355.5 225.4h0M362.3 222.1h0M370.3 226.6h0M378.1 225.0h0M378.1 222.5h0M385.4 224.0h0M391.7 221.3h0M392.5 223.8h0M400.3 225.7h0M407.0 224.5h0M407.7 224.3h0M412.4 221.8h0M413.1 221.8h0M417.5 220.6h0M422.3 218.5h0M426.8 216.5h0M431.2 213.3h0M431.8 218.3h0M436.0 214.9h0M419.5 216.4h0M424.5 217.1h0M429.1 215.0h0M433.9 216.7h0M437.9 211.8h0" stroke="#433d84" stroke-opacity="0.92"/><path d="M347.3 224.2h0M355.0 221.5h0M362.5 224.0h0M362.5 222.0h0M369.8 222.6h0M377.6 221.1h0M378.6 225.8h0M385.6 226.0h0M385.7 223.0h0M391.9 223.2h0M399.9 221.7h0M400.3 220.6h0M406.5 220.6h0M412.0 218.0h0M417.1 217.2h0M417.7 222.4h0M422.5 220.3h0M427.0 218.2h0M431.4 214.9h0M435.6 211.7h0M436.2 216.6h0M419.8 218.6h0M424.8 219.4h0M429.3 217.2h0" stroke="#433d84" stroke-opacity="0.92"/><path d="M347.4 226.2h0M356.0 229.6h0M370.8 230.8h0M378.6 229.1h0M379.2 229.3h0M385.8 228.0h0M392.9 231.5h0M393.6 230.8h0M400.8 229.9h0M407.4 228.7h0M412.9 225.8h0M414.2 228.7h0M418.0 224.2h0M422.7 222.1h0M427.2 219.9h0M432.2 221.9h0M425.1 221.7h0M429.6 219.5h0" stroke="#404588" stroke-opacity="0.92"/><path d="M347.4 228.4h0M356.0 226.6h0M363.0 228.1h0M363.6 228.8h0M370.8 227.3h0M378.8 231.3h0M386.1 230.2h0M386.8 229.9h0M392.4 227.2h0M401.3 227.3h0M413.1 227.9h0M418.2 226.1h0M422.9 223.9h0M427.4 221.7h0M420.3 223.3h0M425.3 224.2h0M429.9 221.9h0" stroke="#404588" stroke-opacity="0.92"/><path d="M347.5 230.5h0M355.8 227.5h0M356.6 230.2h0M363.3 230.3h0M370.5 228.7h0M371.4 230.9h0M378.3 227.0h0M386.4 232.4h0M392.6 229.3h0M393.1 227.2h0M400.6 227.8h0M401.8 230.9h0M407.2 226.6h0M408.2 227.8h0M412.6 223.8h0M413.7 225.1h0M418.4 228.0h0M423.1 225.8h0M427.7 223.5h0M432.0 220.1h0M420.6 225.8h0M430.2 224.4h0M434.2 219.0h0" stroke="#404588" stroke-opacity="0.92"/><path d="M347.6 232.8h0M356.9 236.5h0M357.2 233.9h0M363.5 232.5h0M364.8 236.3h0M371.6 237.7h0M372.0 234.7h0M379.4 235.8h0M386.6 234.6h0M387.9 237.6h0M401.6 236.8h0M402.4 234.8h0M408.2 235.5h0M408.8 231.5h0M413.6 232.4h0M418.6 230.0h0M423.3 227.7h0M427.9 225.4h0M420.9 228.3h0M425.9 229.4h0" stroke="#3d4d8a" stroke-opacity="0.92"/><path d="M347.7 235.1h0M356.3 231.8h0M363.8 234.8h0M371.0 233.0h0M379.6 238.2h0M379.7 233.0h0M386.9 237.0h0M393.2 233.8h0M394.2 234.6h0M401.1 232.1h0M407.7 230.9h0M409.4 235.3h0M413.9 234.7h0M414.8 232.5h0M418.9 232.1h0M423.6 229.7h0M428.1 227.4h0M421.2 231.0h0" stroke="#3d4d8a" stroke-opacity="0.92"/><path d="M356.6 234.1h0M364.1 237.1h0M364.2 232.4h0M371.3 235.3h0M379.1 233.5h0M380.3 236.9h0M387.3 233.7h0M393.4 236.1h0M401.4 234.4h0M408.0 233.1h0M413.4 230.1h0M423.8 231.8h0M425.6 226.7h0" stroke="#3d4d8a" stroke-opacity="0.92"/><path d="M347.8 240.0h0M364.4 239.5h0M380.2 243.2h0M381.0 241.0h0M387.5 241.9h0M393.7 238.5h0M395.4 242.8h0M414.5 239.6h0M419.4 236.3h0" stroke="#3a538b" stroke-opacity="0.92"/><path d="M347.9 242.6h0M357.2 238.9h0M357.8 237.9h0M364.7 242.1h0M365.4 240.4h0M371.9 240.2h0M372.6 238.7h0M388.6 241.8h0M394.0 241.0h0M401.9 239.2h0M403.0 238.8h0M408.5 237.9h0" stroke="#3a538b" stroke-opacity="0.92"/><path d="M347.7 237.5h0M357.5 241.4h0M358.5 242.1h0M372.2 242.7h0M373.2 242.9h0M379.9 240.7h0M387.2 239.4h0M394.3 243.5h0M394.8 238.6h0M402.2 241.7h0M403.7 243.0h0M408.8 240.4h0M410.0 239.4h0M414.2 237.1h0M415.4 236.4h0M419.1 234.2h0M421.6 233.8h0" stroke="#3a538b" stroke-opacity="0.92"/><path d="M357.8 244.0h0M359.2 246.6h0M365.3 247.3h0M366.8 249.3h0M372.5 245.3h0M373.9 247.3h0M388.4 249.9h0M394.6 246.2h0M402.5 244.3h0M409.1 242.9h0M410.6 243.7h0" stroke="#375b8d" stroke-opacity="0.92"/><path d="M358.1 246.6h0M372.8 248.0h0M380.6 245.8h0M381.7 245.4h0M387.8 244.5h0M394.9 248.9h0M396.1 247.2h0M402.8 247.0h0" stroke="#375b8d" stroke-opacity="0.92"/><path d="M365.0 244.7h0M366.1 244.7h0M380.9 248.5h0M382.4 249.9h0M388.1 247.1h0M389.3 246.1h0" stroke="#375b8d" stroke-opacity="0.92"/><path d="M381.2 251.3h0M390.0 250.7h0" stroke="#34618d" stroke-opacity="0.92"/><path d="M373.2 250.7h0" stroke="#34618d" stroke-opacity="0.92"/><path d="M358.4 201.6h0M380.4 195.1h0M393.3 192.2h0M399.6 195.1h0" stroke="#482576" stroke-opacity="1.00"/><path d="M362.9 201.6h0M385.1 195.1h0M397.4 190.8h0M396.7 199.4h0" stroke="#482576" stroke-opacity="1.00"/><path d="M374.0 195.8h0M388.8 193.7h0M401.6 189.4h0M393.1 203.4h0" stroke="#482576" stroke-opacity="1.00"/></g>
</g>
<g id="text_27">
<text style="font-size:12.48px;font-family:'Liberation Sans',sans-serif;text-anchor:middle" x="442.8000" y="71.7600" transform="rotate(-0 442.8000 71.7600)" textLength="200.11" lengthAdjust="spacingAndGlyphs">LiDAR Point 3D Coordinate Graph</text>
</g>
<g id="legend_1">
<g id="patch_6">
<path d="M 568.376875 100.438125
L 625.88 100.438125
Q 627.88 100.438125 627.88 98.438125
L 627.88 84.76
Q 627.88 82.76 625.88 82.76
L 568.376875 82.76
Q 566.376875 82.76 566.376875 84.76
L 566.376875 98.438125
Q 566.376875 100.438125 568.376875 100.438125
z
" style="fill: #ffffff; opacity: 0.8; stroke: #cccccc; stroke-linejoin: miter"/>
</g>
<g id="Path3DCollection_2">
<g>
<use xlink:href="#m6b69d630b0" x="580.376875" y="91.733438" style="fill: #440154; stroke: #440154"/>
</g>
</g>
<g id="text_28">
<text style="font-size:10.40px;font-family:'Liberation Sans',sans-serif;text-anchor:start" x="598.3769" y="94.3584" transform="rotate(-0 598.3769 94.3584)" textLength="25.50" lengthAdjust="spacingAndGlyphs">point</text>
</g>
</g>
</g>
<g id="axes_2">
<g id="patch_7">
<path d="M 206.500889 576.72
L 300.629546 576.72
L 300.629546 481.68
L 206.500889 481.68
z
" style="fill: #ffffff"/>
</g>
<g id="patch_8">
<path d="M 201.423409 477.123288
L 242.353076 477.123288
L 242.353076 481.739506
L 247.069133 486.932751
L 254.214676 496.52583
L 259.002189 504.964854
L 262.57496 513.33175
L 264.361346 520.544591
L 264.932989 528.983615
L 264.361346 538.576693
L 262.57496 547.015717
L 260.216931 554.228558
L 256.64416 561.441399
L 251.856647 567.428058
L 245.925847 572.260661
L 237.565562 576.804751
L 237.565562 581.276712
L 201.423409 581.276712
z
" clip-path="url(#pe0f3950e3e)" style="fill: #90ee90"/>
</g>
<g id="PathCollection_1"/>
<g id="PathCollection_2"/>
<g id="matplotlib.axis_1">
<g id="xtick_24">
<g id="line2d_27">
<defs>
<path id="m1504cfccaf" d="M 0 0
L 0 3.5
" style="stroke: #000000; stroke-width: 0.8"/>
</defs>
<g>
<use xlink:href="#m1504cfccaf" x="221.4000" y="576.7200" style="stroke: #000000; stroke-width: 0.8"/>
</g>
</g>
<g id="text_29">
<text style="font-size:10.40px;font-family:'Liberation Sans',sans-serif;text-anchor:middle" x="220.9522" y="592.0384" transform="rotate(-0 220.9522 592.0384)" textLength="27.47" lengthAdjust="spacingAndGlyphs">−250</text>
</g>
</g>
<g id="xtick_25">
<g id="line2d_28">
<g>
<use xlink:href="#m1504cfccaf" x="253.8000" y="576.7200" style="stroke: #000000; stroke-width: 0.8"/>
</g>
</g>
<g id="text_30">
<text style="font-size:10.40px;font-family:'Liberation Sans',sans-serif;text-anchor:middle" x="253.5001" y="592.0384" transform="rotate(-0 253.5001 592.0384)" textLength="6.36" lengthAdjust="spacingAndGlyphs">0</text>
</g>
</g>
<g id="xtick_26">
<g id="line2d_29">
<g>
<use xlink:href="#m1504cfccaf" x="286.2000" y="576.7200" style="stroke: #000000; stroke-width: 0.8"/>
</g>
</g>
<g id="text_31">
<text style="font-size:10.40px;font-family:'Liberation Sans',sans-serif;text-anchor:middle" x="286.0481" y="592.0384" transform="rotate(-0 286.0481 592.0384)" textLength="19.09" lengthAdjust="spacingAndGlyphs">250</text>
</g>
</g>
<g id="text_32">
<text style="font-size:10.40px;font-family:'Liberation Sans',sans-serif;text-anchor:middle" x="253.5652" y="606.4366" transform="rotate(-0 253.5652 606.4366)" textLength="33.07" lengthAdjust="spacingAndGlyphs">X (cm)</text>
</g>
</g>
<g id="matplotlib.axis_2">
<g id="ytick_1">
<g id="line2d_30">
<defs>
<path id="m5d545ce8f8" d="M 0 0
L -3.5 0
" style="stroke: #000000; stroke-width: 0.8"/>
</defs>
<g>
<use xlink:href="#m5d545ce8f8" x="206.5009" y="555.4800" style="stroke: #000000; stroke-width: 0.8"/>
</g>
</g>
<g id="text_33">
<text style="font-size:10.40px;font-family:'Liberation Sans',sans-serif;text-anchor:end" x="199.5009" y="559.0376" transform="rotate(-0 199.5009 559.0376)" textLength="27.47" lengthAdjust="spacingAndGlyphs">−200</text>
</g>
</g>
<g id="ytick_2">
<g id="line2d_31">
<g>
<use xlink:href="#m5d545ce8f8" x="206.5009" y="529.5600" style="stroke: #000000; stroke-width: 0.8"/>
</g>
</g>
<g id="text_34">
<text style="font-size:10.40px;font-family:'Liberation Sans',sans-serif;text-anchor:end" x="199.5009" y="532.9992" transform="rotate(-0 199.5009 532.9992)" textLength="6.36" lengthAdjust="spacingAndGlyphs">0</text>
</g>
</g>
<g id="ytick_3">
<g id="line2d_32">
<g>
<use xlink:href="#m5d545ce8f8" x="206.5009" y="503.6400" style="stroke: #000000; stroke-width: 0.8"/>
</g>
</g>
<g id="text_35">
<text style="font-size:10.40px;font-family:'Liberation Sans',sans-serif;text-anchor:end" x="199.5009" y="506.9609" transform="rotate(-0 199.5009 506.9609)" textLength="19.09" lengthAdjust="spacingAndGlyphs">200</text>
</g>
</g>
<g id="text_36">
<text style="font-size:10.40px;font-family:'Liberation Sans',sans-serif;text-anchor:middle" x="163.7940" y="529.2000" transform="rotate(-90 163.7940 529.2000)" textLength="32.33" lengthAdjust="spacingAndGlyphs">Y (cm)</text>
</g>
</g>
<g id="patch_9">
<path d="M 207.0000 576.7200 L 207.0000 481.6800" style="fill: none; stroke: #000000; stroke-width: 0.8; stroke-linejoin: miter; stroke-linecap: square"/>
</g>
<g id="patch_10">
<path d="M 301.3200 576.7200 L 301.3200 481.6800" style="fill: none; stroke: #000000; stroke-width: 0.8; stroke-linejoin: miter; stroke-linecap: square"/>
</g>
<g id="patch_11">
<path d="M 206.5009 577.0800 L 300.6295 577.0800" style="fill: none; stroke: #000000; stroke-width: 0.8; stroke-linejoin: miter; stroke-linecap: square"/>
</g>
<g id="patch_12">
<path d="M 206.5009 482.0400 L 300.6295 482.0400" style="fill: none; stroke: #000000; stroke-width: 0.8; stroke-linejoin: miter; stroke-linecap: square"/>
</g>
<g id="text_37">
<text style="font-size:12.48px;font-family:'Liberation Sans',sans-serif;text-anchor:middle" x="253.5652" y="475.6800" transform="rotate(-0 253.5652 475.6800)" textLength="200.11" lengthAdjust="spacingAndGlyphs">LiDAR Point 2D Coordinate Graph</text>
</g>
<g id="legend_2">
<g id="patch_13">
<path d="M 312.335979 519.03625
L 369.839104 519.03625
Q 371.839104 519.03625 371.839104 517.03625
L 371.839104 488.68
Q 371.839104 486.68 369.839104 486.68
L 312.335979 486.68
Q 310.335979 486.68 310.335979 488.68
L 310.335979 517.03625
Q 310.335979 519.03625 312.335979 519.03625
z
" style="fill: #ffffff; opacity: 0.8; stroke: #cccccc; stroke-linejoin: miter"/>
</g>
<g id="PathCollection_3">
<defs>
<path id="m0f09bfcae3" d="M 0 3
C 0.795609 3 1.55874 2.683901 2.12132 2.12132
C 2.683901 1.55874 3 0.795609 3 0
C 3 -0.795609 2.683901 -1.55874 2.12132 -2.12132
C 1.55874 -2.683901 0.795609 -3 0 -3
C -0.795609 -3 -1.55874 -2.683901 -2.12132 -2.12132
C -2.683901 -1.55874 -3 -0.795609 -3 0
C -3 0.795609 -2.683901 1.55874 -2.12132 2.12132
C -1.55874 2.683901 -0.795609 3 0 3
z
" style="stroke: #90ee90"/>
</defs>
<g>
<use xlink:href="#m0f09bfcae3" x="324.3360" y="495.6534" style="fill: #90ee90; stroke: #90ee90"/>
</g>
</g>
<g id="text_38">
<text style="font-size:10.40px;font-family:'Liberation Sans',sans-serif;text-anchor:start" x="342.3360" y="498.2784" transform="rotate(-0 342.3360 498.2784)" textLength="25.50" lengthAdjust="spacingAndGlyphs">point</text>
</g>
<g id="PathCollection_4">
<defs>
<path id="m07ba7ed919" d="M 0 3
C 0.795609 3 1.55874 2.683901 2.12132 2.12132
C 2.683901 1.55874 3 0.795609 3 0
C 3 -0.795609 2.683901 -1.55874 2.12132 -2.12132
C 1.55874 -2.683901 0.795609 -3 0 -3
C -0.795609 -3 -1.55874 -2.683901 -2.12132 -2.12132
C -2.683901 -1.55874 -3 -0.795609 -3 0
C -3 0.795609 -2.683901 1.55874 -2.12132 2.12132
C -1.55874 2.683901 -0.795609 3 0 3
z
" style="stroke: #0000ff"/>
</defs>
<g>
<use xlink:href="#m07ba7ed919" x="324.3360" y="510.3316" style="fill: #0000ff; stroke: #0000ff"/>
</g>
</g>
<g id="text_39">
<text style="font-size:10.40px;font-family:'Liberation Sans',sans-serif;text-anchor:start" x="342.3360" y="512.9566" transform="rotate(-0 342.3360 512.9566)" textLength="19.86" lengthAdjust="spacingAndGlyphs">wall</text>
</g>
</g>
</g>
<g id="axes_3">
<g id="patch_14">
<path d="M 486.469565 576.72
L 777.6 576.72
L 777.6 481.68
L 486.469565 481.68
z
" style="fill: #ffffff"/>
</g>
<g id="patch_15">
<path d="M 492.517755 576.72
L 492.517755 486.205714
L 520.810206 486.205714
L 520.810206 524.972321
L 549.102658 524.972321
L 549.102658 536.540488
L 577.395109 536.540488
L 577.395109 546.695749
L 605.68756 546.695749
L 605.68756 553.804432
L 633.980011 553.804432
L 633.980011 558.793756
L 662.272462 558.793756
L 662.272462 562.370174
L 690.564914 562.370174
L 690.564914 565.372599
L 718.857365 565.372599
L 718.857365 565.946592
L 747.149816 565.946592
L 747.149816 493.579317
L 775.442267 493.579317
L 775.442267 576.72
L 747.149816 576.72
L 747.149816 576.72
L 718.857365 576.72
L 718.857365 576.72
L 690.564914 576.72
L 690.564914 576.72
L 662.272462 576.72
L 662.272462 576.72
L 633.980011 576.72
L 633.980011 576.72
L 605.68756 576.72
L 605.68756 576.72
L 577.395109 576.72
L 577.395109 576.72
L 549.102658 576.72
L 549.102658 576.72
L 520.810206 576.72
L 520.810206 576.72
z
" clip-path="url(#p1ca3901ace)" style="fill: #0000ff"/>
</g>
<g id="matplotlib.axis_3">
<g id="xtick_27">
<g id="line2d_33">
<g>
<use xlink:href="#m1504cfccaf" x="487.0800" y="576.7200" style="stroke: #000000; stroke-width: 0.8"/>
</g>
</g>
<g id="text_40">
<text style="font-size:10.40px;font-family:'Liberation Sans',sans-serif;text-anchor:middle" x="486.4696" y="592.0384" transform="rotate(-0 486.4696 592.0384)" textLength="6.36" lengthAdjust="spacingAndGlyphs">0</text>
</g>
</g>
<g id="xtick_28">
<g id="line2d_34">
<g>
<use xlink:href="#m1504cfccaf" x="519.4800" y="576.7200" style="stroke: #000000; stroke-width: 0.8"/>
</g>
</g>
<g id="text_41">
<text style="font-size:10.40px;font-family:'Liberation Sans',sans-serif;text-anchor:middle" x="519.1625" y="592.0384" transform="rotate(-0 519.1625 592.0384)" textLength="19.09" lengthAdjust="spacingAndGlyphs">100</text>
</g>
</g>
<g id="xtick_29">
<g id="line2d_35">
<g>
<use xlink:href="#m1504cfccaf" x="551.8800" y="576.7200" style="stroke: #000000; stroke-width: 0.8"/>
</g>
</g>
<g id="text_42">
<text style="font-size:10.40px;font-family:'Liberation Sans',sans-serif;text-anchor:middle" x="551.8554" y="592.0384" transform="rotate(-0 551.8554 592.0384)" textLength="19.09" lengthAdjust="spacingAndGlyphs">200</text>
</g>
</g>
<g id="xtick_30">
<g id="line2d_36">
<g>
<use xlink:href="#m1504cfccaf" x="585.0000" y="576.7200" style="stroke: #000000; stroke-width: 0.8"/>
</g>
</g>
<g id="text_43">
<text style="font-size:10.40px;font-family:'Liberation Sans',sans-serif;text-anchor:middle" x="584.5483" y="592.0384" transform="rotate(-0 584.5483 592.0384)" textLength="19.09" lengthAdjust="spacingAndGlyphs">300</text>
</g>
</g>
<g id="xtick_31">
<g id="line2d_37">
<g>
<use xlink:href="#m1504cfccaf" x="617.4000" y="576.7200" style="stroke: #000000; stroke-width: 0.8"/>
</g>
</g>
<g id="text_44">
<text style="font-size:10.40px;font-family:'Liberation Sans',sans-serif;text-anchor:middle" x="617.2412" y="592.0384" transform="rotate(-0 617.2412 592.0384)" textLength="19.09" lengthAdjust="spacingAndGlyphs">400</text>
</g>
</g>
<g id="xtick_32">
<g id="line2d_38">
<g>
<use xlink:href="#m1504cfccaf" x="650.5200" y="576.7200" style="stroke: #000000; stroke-width: 0.8"/>
</g>
</g>
<g id="text_45">
<text style="font-size:10.40px;font-family:'Liberation Sans',sans-serif;text-anchor:middle" x="649.9342" y="592.0384" transform="rotate(-0 649.9342 592.0384)" textLength="19.09" lengthAdjust="spacingAndGlyphs">500</text>
</g>
</g>
<g id="xtick_33">
<g id="line2d_39">
<g>
<use xlink:href="#m1504cfccaf" x="682.9200" y="576.7200" style="stroke: #000000; stroke-width: 0.8"/>
</g>
</g>
<g id="text_46">
<text style="font-size:10.40px;font-family:'Liberation Sans',sans-serif;text-anchor:middle" x="682.6271" y="592.0384" transform="rotate(-0 682.6271 592.0384)" textLength="19.09" lengthAdjust="spacingAndGlyphs">600</text>
</g>
</g>
<g id="xtick_34">
<g id="line2d_40">
<g>
<use xlink:href="#m1504cfccaf" x="715.3200" y="576.7200" style="stroke: #000000; stroke-width: 0.8"/>
</g>
</g>
<g id="text_47">
<text style="font-size:10.40px;font-family:'Liberation Sans',sans-serif;text-anchor:middle" x="715.3200" y="592.0384" transform="rotate(-0 715.3200 592.0384)" textLength="19.09" lengthAdjust="spacingAndGlyphs">700</text>
</g>
</g>
<g id="xtick_35">
<g id="line2d_41">
<g>
<use xlink:href="#m1504cfccaf" x="748.4400" y="576.7200" style="stroke: #000000; stroke-width: 0.8"/>
</g>
</g>
<g id="text_48">
<text style="font-size:10.40px;font-family:'Liberation Sans',sans-serif;text-anchor:middle" x="748.0129" y="592.0384" transform="rotate(-0 748.0129 592.0384)" textLength="19.09" lengthAdjust="spacingAndGlyphs">800</text>
</g>
</g>
</g>
<g id="matplotlib.axis_4">
<g id="ytick_4">
<g id="line2d_42">
<g>
<use xlink:href="#m5d545ce8f8" x="486.4696" y="577.0800" style="stroke: #000000; stroke-width: 0.8"/>
</g>
</g>
<g id="text_49">
<text style="font-size:10.40px;font-family:'Liberation Sans',sans-serif;text-anchor:end" x="479.4696" y="580.5192" transform="rotate(-0 479.4696 580.5192)" textLength="6.36" lengthAdjust="spacingAndGlyphs">0</text>
</g>
</g>
<g id="ytick_5">
<g id="line2d_43">
<g>
<use xlink:href="#m5d545ce8f8" x="486.4696" y="533.1600" style="stroke: #000000; stroke-width: 0.8"/>
</g>
</g>
<g id="text_50">
<text style="font-size:10.40px;font-family:'Liberation Sans',sans-serif;text-anchor:end" x="479.4696" y="536.3659" transform="rotate(-0 479.4696 536.3659)" textLength="25.45" lengthAdjust="spacingAndGlyphs">1000</text>
</g>
</g>
<g id="ytick_6">
<g id="line2d_44">
<g>
<use xlink:href="#m5d545ce8f8" x="486.4696" y="488.5200" style="stroke: #000000; stroke-width: 0.8"/>
</g>
</g>
<g id="text_51">
<text style="font-size:10.40px;font-family:'Liberation Sans',sans-serif;text-anchor:end" x="479.4696" y="492.2126" transform="rotate(-0 479.4696 492.2126)" textLength="25.45" lengthAdjust="spacingAndGlyphs">2000</text>
</g>
</g>
</g>
<g id="patch_16">
<path d="M 487.0800 576.7200 L 487.0800 481.6800" style="fill: none; stroke: #000000; stroke-width: 0.8; stroke-linejoin: miter; stroke-linecap: square"/>
</g>
<g id="patch_17">
<path d="M 777.9600 576.7200 L 777.9600 481.6800" style="fill: none; stroke: #000000; stroke-width: 0.8; stroke-linejoin: miter; stroke-linecap: square"/>
</g>
<g id="patch_18">
<path d="M 486.4696 577.0800 L 777.6000 577.0800" style="fill: none; stroke: #000000; stroke-width: 0.8; stroke-linejoin: miter; stroke-linecap: square"/>
</g>
<g id="patch_19">
<path d="M 486.4696 482.0400 L 777.6000 482.0400" style="fill: none; stroke: #000000; stroke-width: 0.8; stroke-linejoin: miter; stroke-linecap: square"/>
</g>
<g id="text_52">
<text style="font-size:12.48px;font-family:'Liberation Sans',sans-serif;text-anchor:middle" x="632.0348" y="475.6800" transform="rotate(-0 632.0348 475.6800)" textLength="105.73" lengthAdjust="spacingAndGlyphs">Height Histogram</text>
</g>
<g id="legend_3">
<g id="patch_20">
<path d="M 599.505876 504.358125
L 664.563689 504.358125
Q 666.563689 504.358125 666.563689 502.358125
L 666.563689 488.68
Q 666.563689 486.68 664.563689 486.68
L 599.505876 486.68
Q 597.505876 486.68 597.505876 488.68
L 597.505876 502.358125
Q 597.505876 504.358125 599.505876 504.358125
z
" style="fill: #ffffff; opacity: 0.8; stroke: #cccccc; stroke-linejoin: miter"/>
</g>
<g id="patch_21">
<path d="M 601.505876 498.278437
L 621.505876 498.278437
L 621.505876 491.278437
L 601.505876 491.278437
z
" style="fill: #0000ff"/>
</g>
<g id="text_53">
<text style="font-size:10.40px;font-family:'Liberation Sans',sans-serif;text-anchor:start" x="629.5059" y="498.2784" transform="rotate(-0 629.5059 498.2784)" textLength="33.06" lengthAdjust="spacingAndGlyphs">Height</text>
</g>
</g>
</g>
</g>
<defs>
<clipPath id="pcbff7d88e8">
<rect x="252.72" y="77.76" width="380.16" height="380.16"/>
</clipPath>
<clipPath id="pe0f3950e3e">
<rect x="206.500889" y="481.68" width="94.128658" height="95.04"/>
</clipPath>
<clipPath id="p1ca3901ace">
<rect x="486.469565" y="481.68" width="291.130435" height="95.04"/>
</clipPath>
</defs>
</svg>
</body></html>
